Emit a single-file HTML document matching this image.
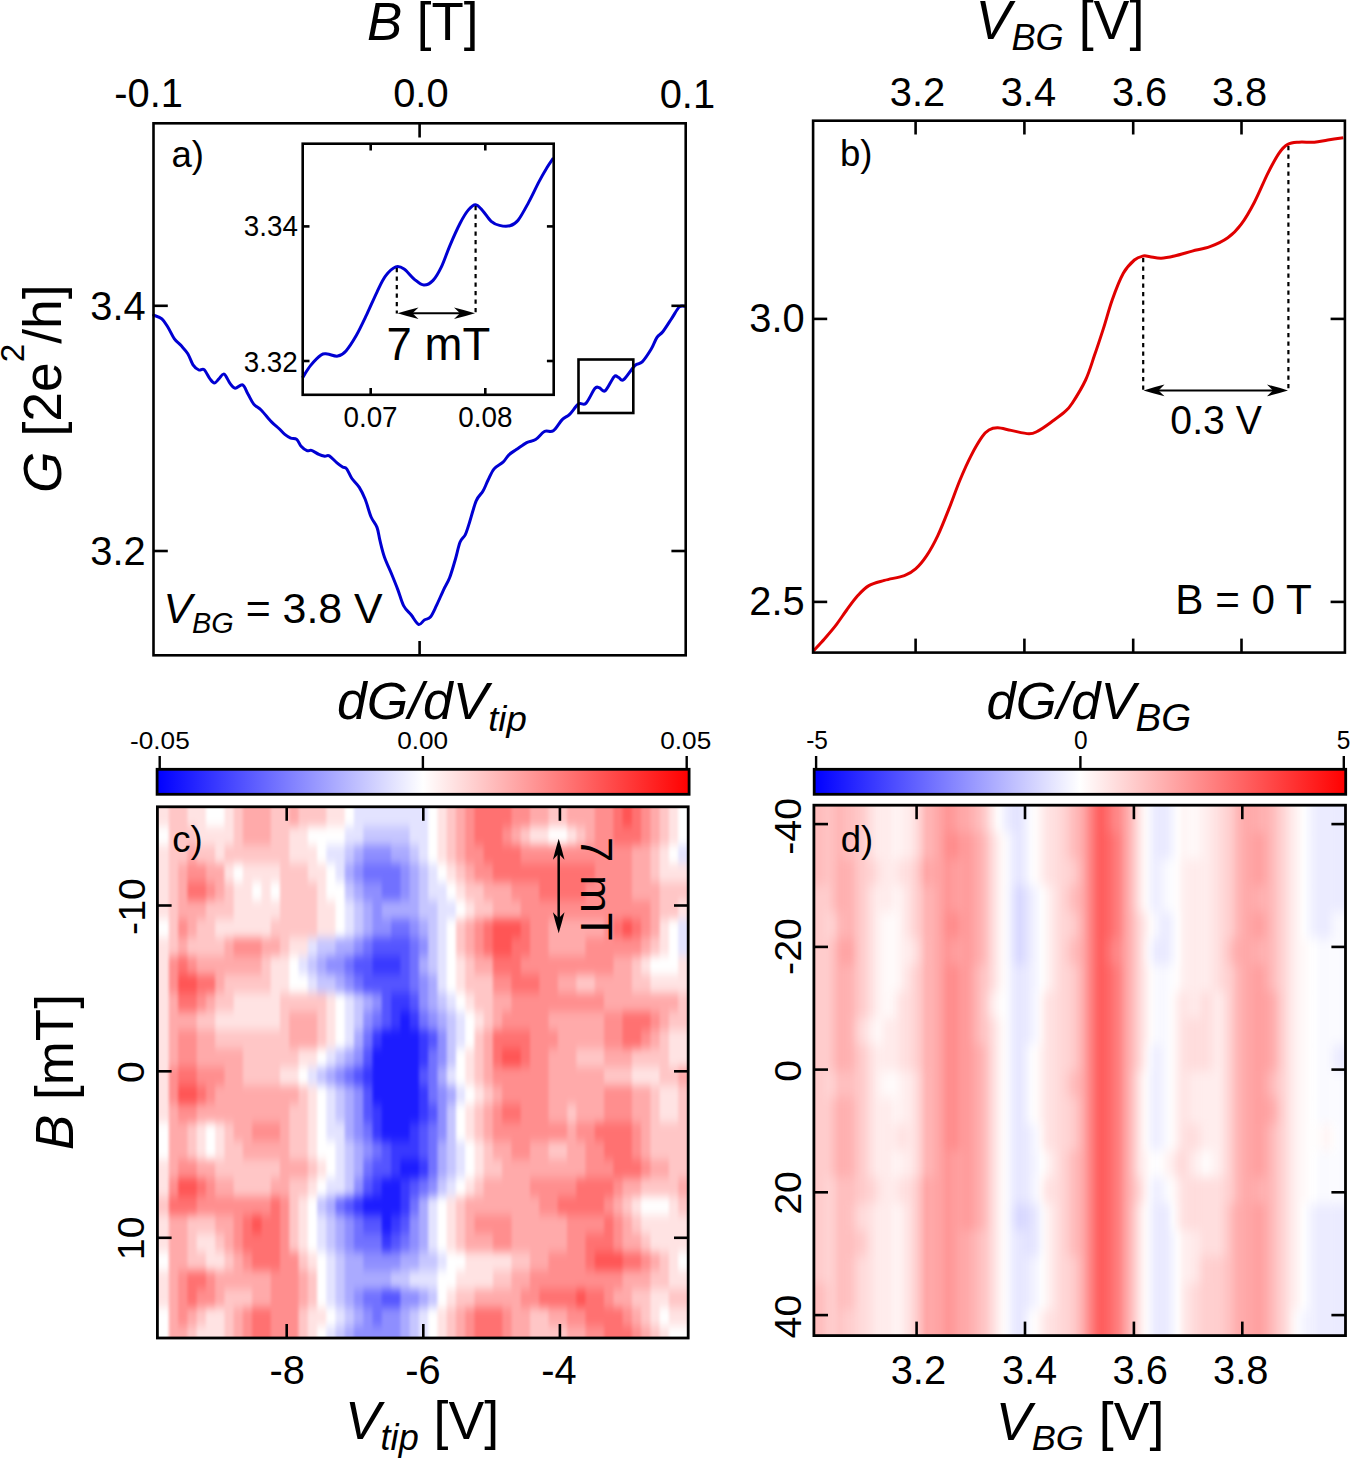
<!DOCTYPE html>
<html><head><meta charset="utf-8"><style>
html,body{margin:0;padding:0;background:#fff;}
svg{display:block;}
text{font-family:"Liberation Sans",sans-serif;fill:#000;}
</style></head><body>
<svg width="1350" height="1459" viewBox="0 0 1350 1459">
<rect width="1350" height="1459" fill="#fff"/>
<path d="M153.7,315.2 C155.1,315.8 159.6,316.9 161.9,318.9 C164.2,320.9 165.7,323.7 167.8,327.0 C169.9,330.3 172.2,335.8 174.4,338.9 C176.6,342.0 178.9,343.1 181.1,345.6 C183.3,348.1 185.8,350.5 187.8,353.7 C189.8,356.9 191.2,362.1 193.0,364.8 C194.8,367.5 197.1,369.2 198.9,370.0 C200.8,370.8 202.2,368.1 204.1,369.6 C205.9,371.1 208.3,376.7 210.0,378.9 C211.7,381.1 212.9,383.0 214.4,383.0 C215.9,383.0 217.3,380.4 218.9,378.9 C220.5,377.4 222.2,373.4 224.1,374.1 C225.9,374.8 228.2,381.0 230.0,383.3 C231.8,385.6 233.1,387.9 235.2,388.2 C237.3,388.4 240.5,383.9 242.6,384.8 C244.7,385.7 246.0,390.5 247.8,393.7 C249.7,396.9 251.5,401.4 253.7,404.1 C255.9,406.8 258.1,407.0 261.1,410.0 C264.1,413.0 268.5,418.8 271.5,421.9 C274.5,425.0 276.7,426.4 278.9,428.5 C281.1,430.6 282.8,432.8 284.8,434.4 C286.8,436.0 288.7,437.3 290.7,438.1 C292.7,438.9 295.0,437.9 296.7,439.3 C298.4,440.7 299.4,444.4 301.1,446.3 C302.8,448.2 305.3,450.0 307.0,450.7 C308.7,451.4 309.5,449.8 311.5,450.4 C313.5,451.0 316.7,453.4 318.9,454.4 C321.1,455.4 323.1,455.9 324.8,456.2 C326.5,456.4 327.3,454.8 329.3,455.9 C331.3,457.0 334.5,460.8 336.7,462.6 C338.9,464.5 340.9,465.9 342.6,467.0 C344.3,468.1 345.1,467.0 346.7,468.9 C348.2,470.8 349.8,475.4 351.9,478.5 C354.0,481.6 357.1,483.9 359.3,487.4 C361.5,490.9 363.2,494.4 365.2,499.3 C367.2,504.2 369.1,512.3 371.1,517.0 C373.1,521.7 375.5,523.4 377.0,527.4 C378.5,531.4 378.8,535.8 380.0,540.7 C381.2,545.6 382.4,551.3 384.4,557.0 C386.4,562.7 389.7,569.4 391.9,574.8 C394.1,580.2 395.8,584.4 397.8,589.6 C399.8,594.8 401.5,601.7 403.7,605.9 C405.9,610.1 408.6,611.7 411.1,614.8 C413.6,617.9 416.3,623.5 418.5,624.4 C420.7,625.3 422.4,621.2 424.4,620.0 C426.4,618.8 428.4,619.4 430.4,617.0 C432.4,614.6 434.1,610.5 436.3,605.9 C438.5,601.3 441.5,594.3 443.7,589.6 C445.9,584.9 447.6,583.0 449.6,577.8 C451.6,572.6 453.9,564.4 455.6,558.5 C457.3,552.6 458.4,546.2 460.0,542.2 C461.6,538.2 463.7,537.8 465.2,534.8 C466.7,531.8 467.0,530.1 468.9,524.4 C470.8,518.7 473.9,506.2 476.3,500.7 C478.7,495.1 481.0,494.6 483.0,491.1 C485.0,487.7 486.2,483.7 488.1,480.0 C490.0,476.3 491.6,471.9 494.1,468.9 C496.6,465.9 500.5,464.5 503.0,462.2 C505.5,459.9 506.7,456.9 508.9,454.8 C511.1,452.7 513.3,451.6 516.3,449.6 C519.3,447.6 523.5,444.3 526.7,442.6 C529.9,440.9 532.7,441.5 535.6,439.6 C538.5,437.8 541.5,433.0 544.4,431.5 C547.3,430.0 550.3,432.7 553.3,430.7 C556.3,428.7 559.5,422.3 562.2,419.6 C564.9,416.9 566.9,417.0 569.6,414.4 C572.3,411.8 575.8,406.0 578.5,404.1 C581.2,402.2 583.2,405.9 585.9,403.3 C588.6,400.7 592.6,391.1 594.8,388.5 C597.0,385.9 597.6,387.4 599.3,387.8 C601.0,388.2 602.7,392.6 605.2,390.7 C607.7,388.8 611.9,378.9 614.1,376.7 C616.3,374.5 616.9,376.9 618.5,377.4 C620.1,377.9 621.0,381.6 623.7,379.6 C626.4,377.6 631.7,368.6 634.8,365.6 C637.9,362.7 639.5,364.6 642.2,361.9 C644.9,359.2 648.6,353.4 651.1,349.3 C653.6,345.2 655.0,340.4 657.0,337.4 C659.0,334.4 660.5,334.7 663.0,331.5 C665.5,328.3 669.2,322.2 671.9,318.1 C674.6,314.0 677.1,309.0 679.3,307.0 C681.5,305.0 684.2,306.4 685.2,306.3" fill="none" stroke="#0000d2" stroke-width="3" stroke-linejoin="round" stroke-linecap="round"/>
<rect x="153.5" y="123.3" width="532.2" height="532.0" fill="none" stroke="#000" stroke-width="2.6"/>
<line x1="419.6" y1="123.3" x2="419.6" y2="137.5" stroke="#000" stroke-width="2.6" />
<line x1="419.6" y1="655.3" x2="419.6" y2="641" stroke="#000" stroke-width="2.6" />
<line x1="153.5" y1="305.8" x2="167.8" y2="305.8" stroke="#000" stroke-width="2.6" />
<line x1="685.7" y1="305.8" x2="671.4" y2="305.8" stroke="#000" stroke-width="2.6" />
<line x1="153.5" y1="551.0" x2="167.8" y2="551.0" stroke="#000" stroke-width="2.6" />
<line x1="685.7" y1="551.0" x2="671.4" y2="551.0" stroke="#000" stroke-width="2.6" />
<rect x="303" y="144" width="250" height="250" fill="#fff"/>
<path d="M302.4,377.9 C303.8,375.8 307.6,369.2 310.7,365.4 C313.8,361.6 318.3,356.9 321.1,355.0 C323.9,353.1 324.5,353.8 327.3,354.0 C330.1,354.2 334.6,356.6 337.7,356.1 C340.8,355.6 342.9,354.4 346.0,350.9 C349.1,347.4 352.9,341.4 356.4,335.3 C359.8,329.2 363.2,321.9 366.7,314.6 C370.1,307.4 374.0,298.2 377.1,291.8 C380.2,285.4 382.3,280.4 385.4,276.2 C388.5,272.0 392.7,268.1 395.8,266.9 C398.9,265.7 401.0,266.9 404.1,269.0 C407.2,271.1 411.1,276.6 414.4,279.3 C417.7,282.0 420.7,284.9 423.8,285.1 C426.9,285.3 430.2,283.4 433.1,280.4 C436.0,277.4 438.6,272.6 441.4,266.9 C444.2,261.2 446.6,253.4 449.7,246.1 C452.8,238.8 457.0,229.3 460.1,223.3 C463.2,217.3 465.8,213.0 468.4,209.9 C471.0,206.8 473.2,204.5 475.6,204.7 C478.0,204.9 480.3,208.1 482.9,210.9 C485.5,213.7 488.4,218.9 491.2,221.3 C494.0,223.7 496.4,224.7 499.5,225.4 C502.6,226.2 506.8,226.7 509.9,225.8 C513.0,224.9 515.0,224.1 518.1,220.2 C521.2,216.3 525.0,209.0 528.5,202.6 C532.0,196.2 535.8,187.8 538.9,181.9 C542.0,176.0 544.8,171.3 547.2,167.3 C549.6,163.3 552.4,159.6 553.4,158.0" fill="none" stroke="#0000d2" stroke-width="3" stroke-linejoin="round"/>
<rect x="302.7" y="143.7" width="251.00000000000006" height="251.10000000000002" fill="none" stroke="#000" stroke-width="2.6"/>
<line x1="370.7" y1="143.7" x2="370.7" y2="150.5" stroke="#000" stroke-width="2.6" />
<line x1="370.7" y1="394.8" x2="370.7" y2="388" stroke="#000" stroke-width="2.6" />
<line x1="485.3" y1="143.7" x2="485.3" y2="150.5" stroke="#000" stroke-width="2.6" />
<line x1="485.3" y1="394.8" x2="485.3" y2="388" stroke="#000" stroke-width="2.6" />
<line x1="302.7" y1="226.4" x2="309.5" y2="226.4" stroke="#000" stroke-width="2.6" />
<line x1="553.7" y1="226.4" x2="546.9" y2="226.4" stroke="#000" stroke-width="2.6" />
<line x1="302.7" y1="361.0" x2="309.5" y2="361.0" stroke="#000" stroke-width="2.6" />
<line x1="553.7" y1="361.0" x2="546.9" y2="361.0" stroke="#000" stroke-width="2.6" />
<line x1="396.8" y1="268" x2="396.8" y2="313.5" stroke="#000" stroke-width="2.2" stroke-dasharray="4.2 4.3"/>
<line x1="475.6" y1="206" x2="475.6" y2="313.5" stroke="#000" stroke-width="2.2" stroke-dasharray="4.2 4.3"/>
<line x1="405" y1="313.2" x2="468" y2="313.2" stroke="#000" stroke-width="2.0" />
<path d="M397.5,313.2 Q406.9,310.3 418.5,307.4 L412.5,313.2 L418.5,319.0 Q406.9,316.1 397.5,313.2Z" fill="#000"/>
<path d="M475.0,313.2 Q465.6,316.1 454.0,319.0 L460.0,313.2 L454.0,307.4 Q465.6,310.3 475.0,313.2Z" fill="#000"/>
<rect x="578.5" y="359.5" width="54.799999999999955" height="53.5" fill="none" stroke="#000" stroke-width="2.6"/>
<path d="M813.3,651.1 C815.1,649.1 820.7,643.1 824.4,638.9 C828.1,634.6 831.9,630.4 835.6,625.6 C839.3,620.8 843.0,615.0 846.7,610.0 C850.4,605.0 854.1,599.7 857.8,595.6 C861.5,591.5 864.5,588.1 868.9,585.6 C873.3,583.1 878.5,582.1 884.4,580.4 C890.3,578.7 899.2,577.5 904.4,575.6 C909.6,573.7 911.9,572.2 915.6,568.9 C919.3,565.6 923.0,561.1 926.7,555.6 C930.4,550.1 934.1,543.4 937.8,535.6 C941.5,527.8 945.2,518.2 948.9,508.9 C952.6,499.6 956.3,488.9 960.0,480.0 C963.7,471.1 967.4,462.8 971.1,455.6 C974.8,448.4 979.2,441.0 982.2,436.7 C985.2,432.4 986.3,431.5 988.9,430.0 C991.5,428.5 994.1,427.7 997.8,427.8 C1001.5,427.9 1005.9,429.4 1011.1,430.4 C1016.3,431.4 1024.5,433.7 1028.9,433.8 C1033.4,433.9 1034.1,433.0 1037.8,431.1 C1041.5,429.2 1046.7,425.4 1051.1,422.2 C1055.5,419.0 1060.9,415.3 1064.4,412.2 C1067.9,409.1 1068.7,408.7 1072.2,403.3 C1075.7,397.9 1081.9,387.9 1085.6,380.0 C1089.3,372.1 1091.5,364.1 1094.4,355.6 C1097.4,347.1 1100.3,338.2 1103.3,328.9 C1106.3,319.6 1108.9,309.3 1112.2,300.0 C1115.5,290.7 1119.6,280.0 1123.3,273.3 C1127.0,266.6 1131.1,262.9 1134.4,260.0 C1137.7,257.1 1140.7,256.6 1143.3,256.0 C1145.9,255.4 1147.0,256.3 1150.0,256.7 C1153.0,257.1 1157.0,258.3 1161.1,258.2 C1165.2,258.1 1169.2,257.2 1174.4,256.0 C1179.6,254.8 1186.3,252.7 1192.2,251.1 C1198.1,249.5 1204.1,248.9 1210.0,246.7 C1215.9,244.5 1222.6,241.5 1227.8,237.8 C1233.0,234.1 1236.7,230.3 1241.1,224.4 C1245.5,218.5 1250.0,210.7 1254.4,202.2 C1258.9,193.7 1263.7,181.5 1267.8,173.3 C1271.9,165.2 1275.6,158.1 1278.9,153.3 C1282.2,148.5 1284.5,146.2 1287.8,144.4 C1291.1,142.6 1294.5,142.6 1298.9,142.2 C1303.3,141.8 1309.6,142.6 1314.4,142.2 C1319.2,141.8 1323.0,140.7 1327.8,140.0 C1332.6,139.3 1340.7,138.2 1343.3,137.8" fill="none" stroke="#e00000" stroke-width="3" stroke-linejoin="round"/>
<rect x="813.1" y="120.7" width="531.8000000000001" height="531.9" fill="none" stroke="#000" stroke-width="2.6"/>
<line x1="915.6" y1="120.7" x2="915.6" y2="134.5" stroke="#000" stroke-width="2.6" />
<line x1="915.6" y1="652.6" x2="915.6" y2="638.6" stroke="#000" stroke-width="2.6" />
<line x1="1024.4" y1="120.7" x2="1024.4" y2="134.5" stroke="#000" stroke-width="2.6" />
<line x1="1024.4" y1="652.6" x2="1024.4" y2="638.6" stroke="#000" stroke-width="2.6" />
<line x1="1133.2" y1="120.7" x2="1133.2" y2="134.5" stroke="#000" stroke-width="2.6" />
<line x1="1133.2" y1="652.6" x2="1133.2" y2="638.6" stroke="#000" stroke-width="2.6" />
<line x1="1241.5" y1="120.7" x2="1241.5" y2="134.5" stroke="#000" stroke-width="2.6" />
<line x1="1241.5" y1="652.6" x2="1241.5" y2="638.6" stroke="#000" stroke-width="2.6" />
<line x1="813.1" y1="318.9" x2="827.2" y2="318.9" stroke="#000" stroke-width="2.6" />
<line x1="1344.9" y1="318.9" x2="1330.6" y2="318.9" stroke="#000" stroke-width="2.6" />
<line x1="813.1" y1="601.9" x2="827.2" y2="601.9" stroke="#000" stroke-width="2.6" />
<line x1="1344.9" y1="601.9" x2="1330.6" y2="601.9" stroke="#000" stroke-width="2.6" />
<line x1="1143.2" y1="258" x2="1143.2" y2="390" stroke="#000" stroke-width="2.2" stroke-dasharray="4.2 4.3"/>
<line x1="1288.4" y1="146" x2="1288.4" y2="390" stroke="#000" stroke-width="2.2" stroke-dasharray="4.2 4.3"/>
<line x1="1150" y1="390.4" x2="1282" y2="390.4" stroke="#000" stroke-width="2.0" />
<path d="M1143.5,390.4 Q1153.0,387.5 1164.5,384.6 L1158.5,390.4 L1164.5,396.2 Q1153.0,393.3 1143.5,390.4Z" fill="#000"/>
<path d="M1288.0,390.4 Q1278.5,393.3 1267.0,396.2 L1273.0,390.4 L1267.0,384.6 Q1278.5,387.5 1288.0,390.4Z" fill="#000"/>
<defs><linearGradient id="cbar" x1="0" x2="1" y1="0" y2="0"><stop offset="0" stop-color="#0000ff"/><stop offset="0.5" stop-color="#ffffff"/><stop offset="1" stop-color="#ff0000"/></linearGradient></defs>
<rect x="157.1" y="769.3" width="532.0" height="25" fill="url(#cbar)" stroke="#000" stroke-width="2.8"/>
<rect x="814.2" y="769.3" width="531.5" height="25" fill="url(#cbar)" stroke="#000" stroke-width="2.8"/>
<line x1="159.7" y1="756" x2="159.7" y2="768" stroke="#000" stroke-width="2.4" />
<line x1="422.9" y1="756" x2="422.9" y2="768" stroke="#000" stroke-width="2.4" />
<line x1="686.7" y1="756" x2="686.7" y2="768" stroke="#000" stroke-width="2.4" />
<line x1="816.1" y1="756" x2="816.1" y2="768" stroke="#000" stroke-width="2.4" />
<line x1="1080.4" y1="756" x2="1080.4" y2="768" stroke="#000" stroke-width="2.4" />
<line x1="1343.8" y1="756" x2="1343.8" y2="768" stroke="#000" stroke-width="2.4" />
<defs><clipPath id="clipc"><rect x="157.4" y="806.8" width="530.8000000000001" height="531.2"/></clipPath><filter id="blurc" x="-5%" y="-5%" width="110%" height="110%" color-interpolation-filters="sRGB"><feGaussianBlur stdDeviation="1.5 5.0"/></filter></defs>
<g clip-path="url(#clipc)"><g filter="url(#blurc)"><g transform="translate(159.6,808.0) scale(9.26,18.5)" class="hm">
<rect x="-1" y="-1" width="2.08" height="1.06" fill="#ffe3e3"/>
<rect x="1" y="-1" width="2.08" height="1.06" fill="#ffc6c6"/>
<rect x="3" y="-1" width="2.08" height="1.06" fill="#ffe3e3"/>
<rect x="5" y="-1" width="2.08" height="1.06" fill="#ffffff"/>
<rect x="7" y="-1" width="1.08" height="1.06" fill="#ffe3e3"/>
<rect x="8" y="-1" width="1.08" height="1.06" fill="#ffc6c6"/>
<rect x="9" y="-1" width="3.08" height="1.06" fill="#ffaaaa"/>
<rect x="12" y="-1" width="2.08" height="1.06" fill="#ffc6c6"/>
<rect x="14" y="-1" width="1.08" height="1.06" fill="#ffaaaa"/>
<rect x="15" y="-1" width="3.08" height="1.06" fill="#ffc6c6"/>
<rect x="18" y="-1" width="2.08" height="1.06" fill="#ffe3e3"/>
<rect x="20" y="-1" width="1.08" height="1.06" fill="#ffffff"/>
<rect x="21" y="-1" width="8.08" height="1.06" fill="#e3e3ff"/>
<rect x="29" y="-1" width="1.08" height="1.06" fill="#ffffff"/>
<rect x="30" y="-1" width="1.08" height="1.06" fill="#ffe3e3"/>
<rect x="31" y="-1" width="1.08" height="1.06" fill="#ffc6c6"/>
<rect x="32" y="-1" width="1.08" height="1.06" fill="#ffaaaa"/>
<rect x="33" y="-1" width="1.08" height="1.06" fill="#ff8e8e"/>
<rect x="34" y="-1" width="4.08" height="1.06" fill="#ff7171"/>
<rect x="38" y="-1" width="2.08" height="1.06" fill="#ff8e8e"/>
<rect x="40" y="-1" width="2.08" height="1.06" fill="#ffaaaa"/>
<rect x="42" y="-1" width="2.08" height="1.06" fill="#ffc6c6"/>
<rect x="44" y="-1" width="3.08" height="1.06" fill="#ffaaaa"/>
<rect x="47" y="-1" width="2.08" height="1.06" fill="#ff8e8e"/>
<rect x="49" y="-1" width="1.08" height="1.06" fill="#ff7171"/>
<rect x="50" y="-1" width="1.08" height="1.06" fill="#ff5555"/>
<rect x="51" y="-1" width="1.08" height="1.06" fill="#ff7171"/>
<rect x="52" y="-1" width="1.08" height="1.06" fill="#ff8e8e"/>
<rect x="53" y="-1" width="1.08" height="1.06" fill="#ffaaaa"/>
<rect x="54" y="-1" width="1.08" height="1.06" fill="#ffc6c6"/>
<rect x="55" y="-1" width="1.08" height="1.06" fill="#ffe3e3"/>
<rect x="56" y="-1" width="2.08" height="1.06" fill="#ffffff"/>
<rect x="-1" y="0" width="2.08" height="1.06" fill="#ffe3e3"/>
<rect x="1" y="0" width="2.08" height="1.06" fill="#ffc6c6"/>
<rect x="3" y="0" width="2.08" height="1.06" fill="#ffe3e3"/>
<rect x="5" y="0" width="2.08" height="1.06" fill="#ffffff"/>
<rect x="7" y="0" width="1.08" height="1.06" fill="#ffe3e3"/>
<rect x="8" y="0" width="1.08" height="1.06" fill="#ffc6c6"/>
<rect x="9" y="0" width="3.08" height="1.06" fill="#ffaaaa"/>
<rect x="12" y="0" width="2.08" height="1.06" fill="#ffc6c6"/>
<rect x="14" y="0" width="1.08" height="1.06" fill="#ffaaaa"/>
<rect x="15" y="0" width="3.08" height="1.06" fill="#ffc6c6"/>
<rect x="18" y="0" width="2.08" height="1.06" fill="#ffe3e3"/>
<rect x="20" y="0" width="1.08" height="1.06" fill="#ffffff"/>
<rect x="21" y="0" width="8.08" height="1.06" fill="#e3e3ff"/>
<rect x="29" y="0" width="1.08" height="1.06" fill="#ffffff"/>
<rect x="30" y="0" width="1.08" height="1.06" fill="#ffe3e3"/>
<rect x="31" y="0" width="1.08" height="1.06" fill="#ffc6c6"/>
<rect x="32" y="0" width="1.08" height="1.06" fill="#ffaaaa"/>
<rect x="33" y="0" width="1.08" height="1.06" fill="#ff8e8e"/>
<rect x="34" y="0" width="4.08" height="1.06" fill="#ff7171"/>
<rect x="38" y="0" width="2.08" height="1.06" fill="#ff8e8e"/>
<rect x="40" y="0" width="2.08" height="1.06" fill="#ffaaaa"/>
<rect x="42" y="0" width="2.08" height="1.06" fill="#ffc6c6"/>
<rect x="44" y="0" width="3.08" height="1.06" fill="#ffaaaa"/>
<rect x="47" y="0" width="2.08" height="1.06" fill="#ff8e8e"/>
<rect x="49" y="0" width="1.08" height="1.06" fill="#ff7171"/>
<rect x="50" y="0" width="1.08" height="1.06" fill="#ff5555"/>
<rect x="51" y="0" width="1.08" height="1.06" fill="#ff7171"/>
<rect x="52" y="0" width="1.08" height="1.06" fill="#ff8e8e"/>
<rect x="53" y="0" width="1.08" height="1.06" fill="#ffaaaa"/>
<rect x="54" y="0" width="1.08" height="1.06" fill="#ffc6c6"/>
<rect x="55" y="0" width="1.08" height="1.06" fill="#ffe3e3"/>
<rect x="56" y="0" width="2.08" height="1.06" fill="#ffffff"/>
<rect x="-1" y="1" width="2.08" height="1.06" fill="#ffffff"/>
<rect x="1" y="1" width="3.08" height="1.06" fill="#ffc6c6"/>
<rect x="4" y="1" width="4.08" height="1.06" fill="#ffe3e3"/>
<rect x="8" y="1" width="1.08" height="1.06" fill="#ffc6c6"/>
<rect x="9" y="1" width="3.08" height="1.06" fill="#ffaaaa"/>
<rect x="12" y="1" width="2.08" height="1.06" fill="#ffc6c6"/>
<rect x="14" y="1" width="2.08" height="1.06" fill="#ffe3e3"/>
<rect x="16" y="1" width="4.08" height="1.06" fill="#ffffff"/>
<rect x="20" y="1" width="2.08" height="1.06" fill="#e3e3ff"/>
<rect x="22" y="1" width="5.08" height="1.06" fill="#c6c6ff"/>
<rect x="27" y="1" width="2.08" height="1.06" fill="#e3e3ff"/>
<rect x="29" y="1" width="1.08" height="1.06" fill="#ffffff"/>
<rect x="30" y="1" width="1.08" height="1.06" fill="#ffe3e3"/>
<rect x="31" y="1" width="1.08" height="1.06" fill="#ffc6c6"/>
<rect x="32" y="1" width="1.08" height="1.06" fill="#ffaaaa"/>
<rect x="33" y="1" width="1.08" height="1.06" fill="#ff8e8e"/>
<rect x="34" y="1" width="3.08" height="1.06" fill="#ff7171"/>
<rect x="37" y="1" width="1.08" height="1.06" fill="#ff8e8e"/>
<rect x="38" y="1" width="1.08" height="1.06" fill="#ffaaaa"/>
<rect x="39" y="1" width="1.08" height="1.06" fill="#ffc6c6"/>
<rect x="40" y="1" width="2.08" height="1.06" fill="#ffe3e3"/>
<rect x="42" y="1" width="2.08" height="1.06" fill="#ffffff"/>
<rect x="44" y="1" width="1.08" height="1.06" fill="#ffe3e3"/>
<rect x="45" y="1" width="1.08" height="1.06" fill="#ffc6c6"/>
<rect x="46" y="1" width="1.08" height="1.06" fill="#ffaaaa"/>
<rect x="47" y="1" width="2.08" height="1.06" fill="#ff8e8e"/>
<rect x="49" y="1" width="3.08" height="1.06" fill="#ff7171"/>
<rect x="52" y="1" width="1.08" height="1.06" fill="#ff8e8e"/>
<rect x="53" y="1" width="1.08" height="1.06" fill="#ffaaaa"/>
<rect x="54" y="1" width="1.08" height="1.06" fill="#ffc6c6"/>
<rect x="55" y="1" width="1.08" height="1.06" fill="#ffe3e3"/>
<rect x="56" y="1" width="2.08" height="1.06" fill="#ffffff"/>
<rect x="-1" y="2" width="2.08" height="1.06" fill="#ffe3e3"/>
<rect x="1" y="2" width="2.08" height="1.06" fill="#ffc6c6"/>
<rect x="3" y="2" width="1.08" height="1.06" fill="#ffaaaa"/>
<rect x="4" y="2" width="2.08" height="1.06" fill="#ffc6c6"/>
<rect x="6" y="2" width="1.08" height="1.06" fill="#ffe3e3"/>
<rect x="7" y="2" width="7.08" height="1.06" fill="#ffc6c6"/>
<rect x="14" y="2" width="3.08" height="1.06" fill="#ffe3e3"/>
<rect x="17" y="2" width="1.08" height="1.06" fill="#ffffff"/>
<rect x="18" y="2" width="2.08" height="1.06" fill="#e3e3ff"/>
<rect x="20" y="2" width="1.08" height="1.06" fill="#c6c6ff"/>
<rect x="21" y="2" width="1.08" height="1.06" fill="#aaaaff"/>
<rect x="22" y="2" width="3.08" height="1.06" fill="#8e8eff"/>
<rect x="25" y="2" width="2.08" height="1.06" fill="#aaaaff"/>
<rect x="27" y="2" width="1.08" height="1.06" fill="#c6c6ff"/>
<rect x="28" y="2" width="1.08" height="1.06" fill="#e3e3ff"/>
<rect x="29" y="2" width="1.08" height="1.06" fill="#ffffff"/>
<rect x="30" y="2" width="1.08" height="1.06" fill="#ffe3e3"/>
<rect x="31" y="2" width="1.08" height="1.06" fill="#ffc6c6"/>
<rect x="32" y="2" width="1.08" height="1.06" fill="#ffaaaa"/>
<rect x="33" y="2" width="2.08" height="1.06" fill="#ff8e8e"/>
<rect x="35" y="2" width="4.08" height="1.06" fill="#ff7171"/>
<rect x="39" y="2" width="12.08" height="1.06" fill="#ff8e8e"/>
<rect x="51" y="2" width="2.08" height="1.06" fill="#ffaaaa"/>
<rect x="53" y="2" width="1.08" height="1.06" fill="#ffc6c6"/>
<rect x="54" y="2" width="1.08" height="1.06" fill="#ffe3e3"/>
<rect x="55" y="2" width="1.08" height="1.06" fill="#ffffff"/>
<rect x="56" y="2" width="2.08" height="1.06" fill="#e3e3ff"/>
<rect x="-1" y="3" width="2.08" height="1.06" fill="#ffe3e3"/>
<rect x="1" y="3" width="1.08" height="1.06" fill="#ffc6c6"/>
<rect x="2" y="3" width="1.08" height="1.06" fill="#ffaaaa"/>
<rect x="3" y="3" width="2.08" height="1.06" fill="#ff8e8e"/>
<rect x="5" y="3" width="2.08" height="1.06" fill="#ffaaaa"/>
<rect x="7" y="3" width="1.08" height="1.06" fill="#ffe3e3"/>
<rect x="8" y="3" width="1.08" height="1.06" fill="#ffffff"/>
<rect x="9" y="3" width="4.08" height="1.06" fill="#ffe3e3"/>
<rect x="13" y="3" width="3.08" height="1.06" fill="#ffc6c6"/>
<rect x="16" y="3" width="2.08" height="1.06" fill="#ffe3e3"/>
<rect x="18" y="3" width="1.08" height="1.06" fill="#ffffff"/>
<rect x="19" y="3" width="1.08" height="1.06" fill="#e3e3ff"/>
<rect x="20" y="3" width="1.08" height="1.06" fill="#aaaaff"/>
<rect x="21" y="3" width="1.08" height="1.06" fill="#8e8eff"/>
<rect x="22" y="3" width="4.08" height="1.06" fill="#7171ff"/>
<rect x="26" y="3" width="1.08" height="1.06" fill="#8e8eff"/>
<rect x="27" y="3" width="1.08" height="1.06" fill="#aaaaff"/>
<rect x="28" y="3" width="1.08" height="1.06" fill="#c6c6ff"/>
<rect x="29" y="3" width="1.08" height="1.06" fill="#e3e3ff"/>
<rect x="30" y="3" width="1.08" height="1.06" fill="#ffffff"/>
<rect x="31" y="3" width="1.08" height="1.06" fill="#ffe3e3"/>
<rect x="32" y="3" width="1.08" height="1.06" fill="#ffc6c6"/>
<rect x="33" y="3" width="1.08" height="1.06" fill="#ffaaaa"/>
<rect x="34" y="3" width="2.08" height="1.06" fill="#ff8e8e"/>
<rect x="36" y="3" width="11.08" height="1.06" fill="#ff7171"/>
<rect x="47" y="3" width="4.08" height="1.06" fill="#ff8e8e"/>
<rect x="51" y="3" width="2.08" height="1.06" fill="#ffaaaa"/>
<rect x="53" y="3" width="1.08" height="1.06" fill="#ffc6c6"/>
<rect x="54" y="3" width="4.08" height="1.06" fill="#ffe3e3"/>
<rect x="-1" y="4" width="2.08" height="1.06" fill="#ffe3e3"/>
<rect x="1" y="4" width="1.08" height="1.06" fill="#ffc6c6"/>
<rect x="2" y="4" width="1.08" height="1.06" fill="#ffaaaa"/>
<rect x="3" y="4" width="2.08" height="1.06" fill="#ff7171"/>
<rect x="5" y="4" width="1.08" height="1.06" fill="#ff8e8e"/>
<rect x="6" y="4" width="1.08" height="1.06" fill="#ffaaaa"/>
<rect x="7" y="4" width="1.08" height="1.06" fill="#ffc6c6"/>
<rect x="8" y="4" width="2.08" height="1.06" fill="#ffe3e3"/>
<rect x="10" y="4" width="1.08" height="1.06" fill="#ffffff"/>
<rect x="11" y="4" width="1.08" height="1.06" fill="#ffe3e3"/>
<rect x="12" y="4" width="1.08" height="1.06" fill="#ffffff"/>
<rect x="13" y="4" width="4.08" height="1.06" fill="#ffc6c6"/>
<rect x="17" y="4" width="1.08" height="1.06" fill="#ffe3e3"/>
<rect x="18" y="4" width="2.08" height="1.06" fill="#ffffff"/>
<rect x="20" y="4" width="1.08" height="1.06" fill="#c6c6ff"/>
<rect x="21" y="4" width="1.08" height="1.06" fill="#aaaaff"/>
<rect x="22" y="4" width="2.08" height="1.06" fill="#8e8eff"/>
<rect x="24" y="4" width="2.08" height="1.06" fill="#7171ff"/>
<rect x="26" y="4" width="1.08" height="1.06" fill="#8e8eff"/>
<rect x="27" y="4" width="1.08" height="1.06" fill="#aaaaff"/>
<rect x="28" y="4" width="1.08" height="1.06" fill="#c6c6ff"/>
<rect x="29" y="4" width="2.08" height="1.06" fill="#e3e3ff"/>
<rect x="31" y="4" width="1.08" height="1.06" fill="#ffffff"/>
<rect x="32" y="4" width="1.08" height="1.06" fill="#ffe3e3"/>
<rect x="33" y="4" width="2.08" height="1.06" fill="#ffc6c6"/>
<rect x="35" y="4" width="3.08" height="1.06" fill="#ffaaaa"/>
<rect x="38" y="4" width="3.08" height="1.06" fill="#ff8e8e"/>
<rect x="41" y="4" width="5.08" height="1.06" fill="#ff7171"/>
<rect x="46" y="4" width="5.08" height="1.06" fill="#ff8e8e"/>
<rect x="51" y="4" width="3.08" height="1.06" fill="#ffaaaa"/>
<rect x="54" y="4" width="4.08" height="1.06" fill="#ffc6c6"/>
<rect x="-1" y="5" width="2.08" height="1.06" fill="#ffe3e3"/>
<rect x="1" y="5" width="1.08" height="1.06" fill="#ffc6c6"/>
<rect x="2" y="5" width="3.08" height="1.06" fill="#ffaaaa"/>
<rect x="5" y="5" width="3.08" height="1.06" fill="#ffc6c6"/>
<rect x="8" y="5" width="5.08" height="1.06" fill="#ffe3e3"/>
<rect x="13" y="5" width="4.08" height="1.06" fill="#ffc6c6"/>
<rect x="17" y="5" width="2.08" height="1.06" fill="#ffe3e3"/>
<rect x="19" y="5" width="1.08" height="1.06" fill="#ffffff"/>
<rect x="20" y="5" width="1.08" height="1.06" fill="#e3e3ff"/>
<rect x="21" y="5" width="1.08" height="1.06" fill="#c6c6ff"/>
<rect x="22" y="5" width="1.08" height="1.06" fill="#aaaaff"/>
<rect x="23" y="5" width="1.08" height="1.06" fill="#8e8eff"/>
<rect x="24" y="5" width="4.08" height="1.06" fill="#aaaaff"/>
<rect x="28" y="5" width="2.08" height="1.06" fill="#c6c6ff"/>
<rect x="30" y="5" width="2.08" height="1.06" fill="#e3e3ff"/>
<rect x="32" y="5" width="1.08" height="1.06" fill="#ffffff"/>
<rect x="33" y="5" width="1.08" height="1.06" fill="#ffe3e3"/>
<rect x="34" y="5" width="2.08" height="1.06" fill="#ffc6c6"/>
<rect x="36" y="5" width="3.08" height="1.06" fill="#ffaaaa"/>
<rect x="39" y="5" width="14.08" height="1.06" fill="#ff8e8e"/>
<rect x="53" y="5" width="1.08" height="1.06" fill="#ffaaaa"/>
<rect x="54" y="5" width="2.08" height="1.06" fill="#ffc6c6"/>
<rect x="56" y="5" width="2.08" height="1.06" fill="#ffe3e3"/>
<rect x="-1" y="6" width="2.08" height="1.06" fill="#ffffff"/>
<rect x="1" y="6" width="1.08" height="1.06" fill="#ffc6c6"/>
<rect x="2" y="6" width="1.08" height="1.06" fill="#ff8e8e"/>
<rect x="3" y="6" width="1.08" height="1.06" fill="#ffaaaa"/>
<rect x="4" y="6" width="2.08" height="1.06" fill="#ffc6c6"/>
<rect x="6" y="6" width="6.08" height="1.06" fill="#ffe3e3"/>
<rect x="12" y="6" width="5.08" height="1.06" fill="#ffc6c6"/>
<rect x="17" y="6" width="2.08" height="1.06" fill="#ffe3e3"/>
<rect x="19" y="6" width="1.08" height="1.06" fill="#ffffff"/>
<rect x="20" y="6" width="1.08" height="1.06" fill="#e3e3ff"/>
<rect x="21" y="6" width="1.08" height="1.06" fill="#c6c6ff"/>
<rect x="22" y="6" width="1.08" height="1.06" fill="#aaaaff"/>
<rect x="23" y="6" width="2.08" height="1.06" fill="#8e8eff"/>
<rect x="25" y="6" width="2.08" height="1.06" fill="#7171ff"/>
<rect x="27" y="6" width="1.08" height="1.06" fill="#8e8eff"/>
<rect x="28" y="6" width="1.08" height="1.06" fill="#aaaaff"/>
<rect x="29" y="6" width="1.08" height="1.06" fill="#c6c6ff"/>
<rect x="30" y="6" width="1.08" height="1.06" fill="#e3e3ff"/>
<rect x="31" y="6" width="1.08" height="1.06" fill="#ffffff"/>
<rect x="32" y="6" width="1.08" height="1.06" fill="#ffc6c6"/>
<rect x="33" y="6" width="1.08" height="1.06" fill="#ffaaaa"/>
<rect x="34" y="6" width="1.08" height="1.06" fill="#ff8e8e"/>
<rect x="35" y="6" width="1.08" height="1.06" fill="#ff7171"/>
<rect x="36" y="6" width="3.08" height="1.06" fill="#ff5555"/>
<rect x="39" y="6" width="1.08" height="1.06" fill="#ff7171"/>
<rect x="40" y="6" width="2.08" height="1.06" fill="#ff8e8e"/>
<rect x="42" y="6" width="6.08" height="1.06" fill="#ffaaaa"/>
<rect x="48" y="6" width="1.08" height="1.06" fill="#ff8e8e"/>
<rect x="49" y="6" width="1.08" height="1.06" fill="#ff7171"/>
<rect x="50" y="6" width="1.08" height="1.06" fill="#ff5555"/>
<rect x="51" y="6" width="1.08" height="1.06" fill="#ff7171"/>
<rect x="52" y="6" width="1.08" height="1.06" fill="#ff8e8e"/>
<rect x="53" y="6" width="1.08" height="1.06" fill="#ffaaaa"/>
<rect x="54" y="6" width="1.08" height="1.06" fill="#ffe3e3"/>
<rect x="55" y="6" width="1.08" height="1.06" fill="#ffffff"/>
<rect x="56" y="6" width="2.08" height="1.06" fill="#e3e3ff"/>
<rect x="-1" y="7" width="2.08" height="1.06" fill="#ffe3e3"/>
<rect x="1" y="7" width="1.08" height="1.06" fill="#ffc6c6"/>
<rect x="2" y="7" width="1.08" height="1.06" fill="#ffaaaa"/>
<rect x="3" y="7" width="4.08" height="1.06" fill="#ffc6c6"/>
<rect x="7" y="7" width="1.08" height="1.06" fill="#ffaaaa"/>
<rect x="8" y="7" width="3.08" height="1.06" fill="#ff8e8e"/>
<rect x="11" y="7" width="2.08" height="1.06" fill="#ffaaaa"/>
<rect x="13" y="7" width="1.08" height="1.06" fill="#ffc6c6"/>
<rect x="14" y="7" width="2.08" height="1.06" fill="#ffe3e3"/>
<rect x="16" y="7" width="1.08" height="1.06" fill="#e3e3ff"/>
<rect x="17" y="7" width="2.08" height="1.06" fill="#c6c6ff"/>
<rect x="19" y="7" width="2.08" height="1.06" fill="#aaaaff"/>
<rect x="21" y="7" width="1.08" height="1.06" fill="#8e8eff"/>
<rect x="22" y="7" width="1.08" height="1.06" fill="#7171ff"/>
<rect x="23" y="7" width="4.08" height="1.06" fill="#5555ff"/>
<rect x="27" y="7" width="1.08" height="1.06" fill="#7171ff"/>
<rect x="28" y="7" width="1.08" height="1.06" fill="#8e8eff"/>
<rect x="29" y="7" width="1.08" height="1.06" fill="#c6c6ff"/>
<rect x="30" y="7" width="1.08" height="1.06" fill="#e3e3ff"/>
<rect x="31" y="7" width="1.08" height="1.06" fill="#ffffff"/>
<rect x="32" y="7" width="1.08" height="1.06" fill="#ffc6c6"/>
<rect x="33" y="7" width="1.08" height="1.06" fill="#ffaaaa"/>
<rect x="34" y="7" width="1.08" height="1.06" fill="#ff8e8e"/>
<rect x="35" y="7" width="1.08" height="1.06" fill="#ff7171"/>
<rect x="36" y="7" width="2.08" height="1.06" fill="#ff5555"/>
<rect x="38" y="7" width="2.08" height="1.06" fill="#ff7171"/>
<rect x="40" y="7" width="2.08" height="1.06" fill="#ff8e8e"/>
<rect x="42" y="7" width="4.08" height="1.06" fill="#ffaaaa"/>
<rect x="46" y="7" width="6.08" height="1.06" fill="#ff8e8e"/>
<rect x="52" y="7" width="1.08" height="1.06" fill="#ffaaaa"/>
<rect x="53" y="7" width="1.08" height="1.06" fill="#ffc6c6"/>
<rect x="54" y="7" width="1.08" height="1.06" fill="#ffe3e3"/>
<rect x="55" y="7" width="1.08" height="1.06" fill="#ffffff"/>
<rect x="56" y="7" width="2.08" height="1.06" fill="#e3e3ff"/>
<rect x="-1" y="8" width="2.08" height="1.06" fill="#ffe3e3"/>
<rect x="1" y="8" width="1.08" height="1.06" fill="#ff8e8e"/>
<rect x="2" y="8" width="1.08" height="1.06" fill="#ff7171"/>
<rect x="3" y="8" width="1.08" height="1.06" fill="#ff8e8e"/>
<rect x="4" y="8" width="7.08" height="1.06" fill="#ffaaaa"/>
<rect x="11" y="8" width="1.08" height="1.06" fill="#ffc6c6"/>
<rect x="12" y="8" width="2.08" height="1.06" fill="#ffe3e3"/>
<rect x="14" y="8" width="1.08" height="1.06" fill="#ffffff"/>
<rect x="15" y="8" width="1.08" height="1.06" fill="#e3e3ff"/>
<rect x="16" y="8" width="1.08" height="1.06" fill="#c6c6ff"/>
<rect x="17" y="8" width="1.08" height="1.06" fill="#aaaaff"/>
<rect x="18" y="8" width="2.08" height="1.06" fill="#8e8eff"/>
<rect x="20" y="8" width="1.08" height="1.06" fill="#7171ff"/>
<rect x="21" y="8" width="2.08" height="1.06" fill="#5555ff"/>
<rect x="23" y="8" width="3.08" height="1.06" fill="#3939ff"/>
<rect x="26" y="8" width="1.08" height="1.06" fill="#5555ff"/>
<rect x="27" y="8" width="1.08" height="1.06" fill="#7171ff"/>
<rect x="28" y="8" width="1.08" height="1.06" fill="#aaaaff"/>
<rect x="29" y="8" width="1.08" height="1.06" fill="#c6c6ff"/>
<rect x="30" y="8" width="1.08" height="1.06" fill="#e3e3ff"/>
<rect x="31" y="8" width="1.08" height="1.06" fill="#ffffff"/>
<rect x="32" y="8" width="1.08" height="1.06" fill="#ffe3e3"/>
<rect x="33" y="8" width="1.08" height="1.06" fill="#ffc6c6"/>
<rect x="34" y="8" width="2.08" height="1.06" fill="#ffaaaa"/>
<rect x="36" y="8" width="3.08" height="1.06" fill="#ff7171"/>
<rect x="39" y="8" width="10.08" height="1.06" fill="#ff8e8e"/>
<rect x="49" y="8" width="2.08" height="1.06" fill="#ffaaaa"/>
<rect x="51" y="8" width="1.08" height="1.06" fill="#ffc6c6"/>
<rect x="52" y="8" width="1.08" height="1.06" fill="#ffe3e3"/>
<rect x="53" y="8" width="3.08" height="1.06" fill="#ffffff"/>
<rect x="56" y="8" width="2.08" height="1.06" fill="#ffe3e3"/>
<rect x="-1" y="9" width="2.08" height="1.06" fill="#ffe3e3"/>
<rect x="1" y="9" width="1.08" height="1.06" fill="#ff8e8e"/>
<rect x="2" y="9" width="2.08" height="1.06" fill="#ff5555"/>
<rect x="4" y="9" width="2.08" height="1.06" fill="#ff7171"/>
<rect x="6" y="9" width="1.08" height="1.06" fill="#ffaaaa"/>
<rect x="7" y="9" width="5.08" height="1.06" fill="#ffc6c6"/>
<rect x="12" y="9" width="2.08" height="1.06" fill="#ffe3e3"/>
<rect x="14" y="9" width="2.08" height="1.06" fill="#ffffff"/>
<rect x="16" y="9" width="1.08" height="1.06" fill="#e3e3ff"/>
<rect x="17" y="9" width="2.08" height="1.06" fill="#c6c6ff"/>
<rect x="19" y="9" width="1.08" height="1.06" fill="#aaaaff"/>
<rect x="20" y="9" width="1.08" height="1.06" fill="#8e8eff"/>
<rect x="21" y="9" width="1.08" height="1.06" fill="#7171ff"/>
<rect x="22" y="9" width="5.08" height="1.06" fill="#5555ff"/>
<rect x="27" y="9" width="1.08" height="1.06" fill="#7171ff"/>
<rect x="28" y="9" width="1.08" height="1.06" fill="#8e8eff"/>
<rect x="29" y="9" width="1.08" height="1.06" fill="#aaaaff"/>
<rect x="30" y="9" width="1.08" height="1.06" fill="#e3e3ff"/>
<rect x="31" y="9" width="1.08" height="1.06" fill="#ffffff"/>
<rect x="32" y="9" width="1.08" height="1.06" fill="#ffe3e3"/>
<rect x="33" y="9" width="3.08" height="1.06" fill="#ffc6c6"/>
<rect x="36" y="9" width="2.08" height="1.06" fill="#ff8e8e"/>
<rect x="38" y="9" width="3.08" height="1.06" fill="#ff7171"/>
<rect x="41" y="9" width="2.08" height="1.06" fill="#ff8e8e"/>
<rect x="43" y="9" width="2.08" height="1.06" fill="#ffaaaa"/>
<rect x="45" y="9" width="2.08" height="1.06" fill="#ffc6c6"/>
<rect x="47" y="9" width="4.08" height="1.06" fill="#ffaaaa"/>
<rect x="51" y="9" width="2.08" height="1.06" fill="#ffc6c6"/>
<rect x="53" y="9" width="5.08" height="1.06" fill="#ffe3e3"/>
<rect x="-1" y="10" width="2.08" height="1.06" fill="#ffe3e3"/>
<rect x="1" y="10" width="1.08" height="1.06" fill="#ffaaaa"/>
<rect x="2" y="10" width="2.08" height="1.06" fill="#ff7171"/>
<rect x="4" y="10" width="1.08" height="1.06" fill="#ff8e8e"/>
<rect x="5" y="10" width="1.08" height="1.06" fill="#ffaaaa"/>
<rect x="6" y="10" width="2.08" height="1.06" fill="#ffc6c6"/>
<rect x="8" y="10" width="5.08" height="1.06" fill="#ffe3e3"/>
<rect x="13" y="10" width="5.08" height="1.06" fill="#ffc6c6"/>
<rect x="18" y="10" width="1.08" height="1.06" fill="#ffe3e3"/>
<rect x="19" y="10" width="1.08" height="1.06" fill="#ffffff"/>
<rect x="20" y="10" width="1.08" height="1.06" fill="#e3e3ff"/>
<rect x="21" y="10" width="1.08" height="1.06" fill="#c6c6ff"/>
<rect x="22" y="10" width="1.08" height="1.06" fill="#aaaaff"/>
<rect x="23" y="10" width="1.08" height="1.06" fill="#8e8eff"/>
<rect x="24" y="10" width="1.08" height="1.06" fill="#5555ff"/>
<rect x="25" y="10" width="2.08" height="1.06" fill="#3939ff"/>
<rect x="27" y="10" width="1.08" height="1.06" fill="#5555ff"/>
<rect x="28" y="10" width="1.08" height="1.06" fill="#8e8eff"/>
<rect x="29" y="10" width="1.08" height="1.06" fill="#aaaaff"/>
<rect x="30" y="10" width="1.08" height="1.06" fill="#c6c6ff"/>
<rect x="31" y="10" width="1.08" height="1.06" fill="#e3e3ff"/>
<rect x="32" y="10" width="1.08" height="1.06" fill="#ffffff"/>
<rect x="33" y="10" width="1.08" height="1.06" fill="#ffe3e3"/>
<rect x="34" y="10" width="2.08" height="1.06" fill="#ffc6c6"/>
<rect x="36" y="10" width="2.08" height="1.06" fill="#ffaaaa"/>
<rect x="38" y="10" width="10.08" height="1.06" fill="#ff8e8e"/>
<rect x="48" y="10" width="8.08" height="1.06" fill="#ffaaaa"/>
<rect x="56" y="10" width="2.08" height="1.06" fill="#ffc6c6"/>
<rect x="-1" y="11" width="2.08" height="1.06" fill="#ffe3e3"/>
<rect x="1" y="11" width="3.08" height="1.06" fill="#ffaaaa"/>
<rect x="4" y="11" width="2.08" height="1.06" fill="#ffc6c6"/>
<rect x="6" y="11" width="7.08" height="1.06" fill="#ffe3e3"/>
<rect x="13" y="11" width="1.08" height="1.06" fill="#ffc6c6"/>
<rect x="14" y="11" width="3.08" height="1.06" fill="#ffaaaa"/>
<rect x="17" y="11" width="1.08" height="1.06" fill="#ffc6c6"/>
<rect x="18" y="11" width="1.08" height="1.06" fill="#ffe3e3"/>
<rect x="19" y="11" width="1.08" height="1.06" fill="#ffffff"/>
<rect x="20" y="11" width="1.08" height="1.06" fill="#e3e3ff"/>
<rect x="21" y="11" width="1.08" height="1.06" fill="#c6c6ff"/>
<rect x="22" y="11" width="1.08" height="1.06" fill="#8e8eff"/>
<rect x="23" y="11" width="1.08" height="1.06" fill="#7171ff"/>
<rect x="24" y="11" width="1.08" height="1.06" fill="#5555ff"/>
<rect x="25" y="11" width="1.08" height="1.06" fill="#3939ff"/>
<rect x="26" y="11" width="1.08" height="1.06" fill="#1c1cff"/>
<rect x="27" y="11" width="1.08" height="1.06" fill="#3939ff"/>
<rect x="28" y="11" width="1.08" height="1.06" fill="#7171ff"/>
<rect x="29" y="11" width="1.08" height="1.06" fill="#8e8eff"/>
<rect x="30" y="11" width="1.08" height="1.06" fill="#aaaaff"/>
<rect x="31" y="11" width="1.08" height="1.06" fill="#c6c6ff"/>
<rect x="32" y="11" width="1.08" height="1.06" fill="#e3e3ff"/>
<rect x="33" y="11" width="1.08" height="1.06" fill="#ffffff"/>
<rect x="34" y="11" width="1.08" height="1.06" fill="#ffe3e3"/>
<rect x="35" y="11" width="1.08" height="1.06" fill="#ffc6c6"/>
<rect x="36" y="11" width="1.08" height="1.06" fill="#ffaaaa"/>
<rect x="37" y="11" width="5.08" height="1.06" fill="#ff8e8e"/>
<rect x="42" y="11" width="6.08" height="1.06" fill="#ffaaaa"/>
<rect x="48" y="11" width="2.08" height="1.06" fill="#ff8e8e"/>
<rect x="50" y="11" width="3.08" height="1.06" fill="#ff7171"/>
<rect x="53" y="11" width="1.08" height="1.06" fill="#ff8e8e"/>
<rect x="54" y="11" width="1.08" height="1.06" fill="#ffaaaa"/>
<rect x="55" y="11" width="3.08" height="1.06" fill="#ffc6c6"/>
<rect x="-1" y="12" width="2.08" height="1.06" fill="#ffe3e3"/>
<rect x="1" y="12" width="1.08" height="1.06" fill="#ffaaaa"/>
<rect x="2" y="12" width="2.08" height="1.06" fill="#ff8e8e"/>
<rect x="4" y="12" width="2.08" height="1.06" fill="#ffaaaa"/>
<rect x="6" y="12" width="8.08" height="1.06" fill="#ffc6c6"/>
<rect x="14" y="12" width="3.08" height="1.06" fill="#ffaaaa"/>
<rect x="17" y="12" width="1.08" height="1.06" fill="#ffc6c6"/>
<rect x="18" y="12" width="1.08" height="1.06" fill="#ffe3e3"/>
<rect x="19" y="12" width="1.08" height="1.06" fill="#ffffff"/>
<rect x="20" y="12" width="1.08" height="1.06" fill="#e3e3ff"/>
<rect x="21" y="12" width="1.08" height="1.06" fill="#aaaaff"/>
<rect x="22" y="12" width="1.08" height="1.06" fill="#7171ff"/>
<rect x="23" y="12" width="1.08" height="1.06" fill="#3939ff"/>
<rect x="24" y="12" width="4.08" height="1.06" fill="#1c1cff"/>
<rect x="28" y="12" width="1.08" height="1.06" fill="#3939ff"/>
<rect x="29" y="12" width="1.08" height="1.06" fill="#5555ff"/>
<rect x="30" y="12" width="1.08" height="1.06" fill="#8e8eff"/>
<rect x="31" y="12" width="1.08" height="1.06" fill="#c6c6ff"/>
<rect x="32" y="12" width="1.08" height="1.06" fill="#e3e3ff"/>
<rect x="33" y="12" width="1.08" height="1.06" fill="#ffffff"/>
<rect x="34" y="12" width="1.08" height="1.06" fill="#ffc6c6"/>
<rect x="35" y="12" width="1.08" height="1.06" fill="#ffaaaa"/>
<rect x="36" y="12" width="4.08" height="1.06" fill="#ff7171"/>
<rect x="40" y="12" width="3.08" height="1.06" fill="#ff8e8e"/>
<rect x="43" y="12" width="5.08" height="1.06" fill="#ffaaaa"/>
<rect x="48" y="12" width="2.08" height="1.06" fill="#ff8e8e"/>
<rect x="50" y="12" width="2.08" height="1.06" fill="#ff7171"/>
<rect x="52" y="12" width="1.08" height="1.06" fill="#ff8e8e"/>
<rect x="53" y="12" width="1.08" height="1.06" fill="#ffaaaa"/>
<rect x="54" y="12" width="1.08" height="1.06" fill="#ffc6c6"/>
<rect x="55" y="12" width="3.08" height="1.06" fill="#ffe3e3"/>
<rect x="-1" y="13" width="2.08" height="1.06" fill="#ffe3e3"/>
<rect x="1" y="13" width="1.08" height="1.06" fill="#ffaaaa"/>
<rect x="2" y="13" width="2.08" height="1.06" fill="#ff8e8e"/>
<rect x="4" y="13" width="5.08" height="1.06" fill="#ffaaaa"/>
<rect x="9" y="13" width="6.08" height="1.06" fill="#ffc6c6"/>
<rect x="15" y="13" width="2.08" height="1.06" fill="#ffe3e3"/>
<rect x="17" y="13" width="1.08" height="1.06" fill="#ffffff"/>
<rect x="18" y="13" width="1.08" height="1.06" fill="#e3e3ff"/>
<rect x="19" y="13" width="1.08" height="1.06" fill="#c6c6ff"/>
<rect x="20" y="13" width="1.08" height="1.06" fill="#aaaaff"/>
<rect x="21" y="13" width="1.08" height="1.06" fill="#8e8eff"/>
<rect x="22" y="13" width="1.08" height="1.06" fill="#5555ff"/>
<rect x="23" y="13" width="5.08" height="1.06" fill="#1c1cff"/>
<rect x="28" y="13" width="1.08" height="1.06" fill="#3939ff"/>
<rect x="29" y="13" width="1.08" height="1.06" fill="#7171ff"/>
<rect x="30" y="13" width="1.08" height="1.06" fill="#8e8eff"/>
<rect x="31" y="13" width="1.08" height="1.06" fill="#c6c6ff"/>
<rect x="32" y="13" width="1.08" height="1.06" fill="#ffffff"/>
<rect x="33" y="13" width="1.08" height="1.06" fill="#ffe3e3"/>
<rect x="34" y="13" width="1.08" height="1.06" fill="#ffc6c6"/>
<rect x="35" y="13" width="1.08" height="1.06" fill="#ffaaaa"/>
<rect x="36" y="13" width="1.08" height="1.06" fill="#ff7171"/>
<rect x="37" y="13" width="2.08" height="1.06" fill="#ff5555"/>
<rect x="39" y="13" width="1.08" height="1.06" fill="#ff7171"/>
<rect x="40" y="13" width="2.08" height="1.06" fill="#ff8e8e"/>
<rect x="42" y="13" width="3.08" height="1.06" fill="#ffaaaa"/>
<rect x="45" y="13" width="3.08" height="1.06" fill="#ffc6c6"/>
<rect x="48" y="13" width="3.08" height="1.06" fill="#ffaaaa"/>
<rect x="51" y="13" width="4.08" height="1.06" fill="#ffc6c6"/>
<rect x="55" y="13" width="3.08" height="1.06" fill="#ffe3e3"/>
<rect x="-1" y="14" width="2.08" height="1.06" fill="#ffe3e3"/>
<rect x="1" y="14" width="1.08" height="1.06" fill="#ff8e8e"/>
<rect x="2" y="14" width="2.08" height="1.06" fill="#ff7171"/>
<rect x="4" y="14" width="3.08" height="1.06" fill="#ff8e8e"/>
<rect x="7" y="14" width="2.08" height="1.06" fill="#ffaaaa"/>
<rect x="9" y="14" width="4.08" height="1.06" fill="#ffc6c6"/>
<rect x="13" y="14" width="2.08" height="1.06" fill="#ffe3e3"/>
<rect x="15" y="14" width="1.08" height="1.06" fill="#ffffff"/>
<rect x="16" y="14" width="1.08" height="1.06" fill="#e3e3ff"/>
<rect x="17" y="14" width="1.08" height="1.06" fill="#c6c6ff"/>
<rect x="18" y="14" width="1.08" height="1.06" fill="#aaaaff"/>
<rect x="19" y="14" width="1.08" height="1.06" fill="#8e8eff"/>
<rect x="20" y="14" width="1.08" height="1.06" fill="#7171ff"/>
<rect x="21" y="14" width="1.08" height="1.06" fill="#5555ff"/>
<rect x="22" y="14" width="1.08" height="1.06" fill="#3939ff"/>
<rect x="23" y="14" width="5.08" height="1.06" fill="#1c1cff"/>
<rect x="28" y="14" width="1.08" height="1.06" fill="#5555ff"/>
<rect x="29" y="14" width="1.08" height="1.06" fill="#7171ff"/>
<rect x="30" y="14" width="1.08" height="1.06" fill="#aaaaff"/>
<rect x="31" y="14" width="1.08" height="1.06" fill="#e3e3ff"/>
<rect x="32" y="14" width="1.08" height="1.06" fill="#ffffff"/>
<rect x="33" y="14" width="1.08" height="1.06" fill="#ffe3e3"/>
<rect x="34" y="14" width="1.08" height="1.06" fill="#ffc6c6"/>
<rect x="35" y="14" width="1.08" height="1.06" fill="#ffaaaa"/>
<rect x="36" y="14" width="6.08" height="1.06" fill="#ff8e8e"/>
<rect x="42" y="14" width="6.08" height="1.06" fill="#ffaaaa"/>
<rect x="48" y="14" width="3.08" height="1.06" fill="#ffc6c6"/>
<rect x="51" y="14" width="3.08" height="1.06" fill="#ffe3e3"/>
<rect x="54" y="14" width="2.08" height="1.06" fill="#ffc6c6"/>
<rect x="56" y="14" width="2.08" height="1.06" fill="#ffaaaa"/>
<rect x="-1" y="15" width="2.08" height="1.06" fill="#ffe3e3"/>
<rect x="1" y="15" width="1.08" height="1.06" fill="#ff8e8e"/>
<rect x="2" y="15" width="2.08" height="1.06" fill="#ff5555"/>
<rect x="4" y="15" width="1.08" height="1.06" fill="#ff7171"/>
<rect x="5" y="15" width="1.08" height="1.06" fill="#ff8e8e"/>
<rect x="6" y="15" width="9.08" height="1.06" fill="#ffaaaa"/>
<rect x="15" y="15" width="1.08" height="1.06" fill="#ffc6c6"/>
<rect x="16" y="15" width="1.08" height="1.06" fill="#ffe3e3"/>
<rect x="17" y="15" width="1.08" height="1.06" fill="#ffffff"/>
<rect x="18" y="15" width="1.08" height="1.06" fill="#e3e3ff"/>
<rect x="19" y="15" width="1.08" height="1.06" fill="#c6c6ff"/>
<rect x="20" y="15" width="1.08" height="1.06" fill="#aaaaff"/>
<rect x="21" y="15" width="1.08" height="1.06" fill="#8e8eff"/>
<rect x="22" y="15" width="1.08" height="1.06" fill="#5555ff"/>
<rect x="23" y="15" width="5.08" height="1.06" fill="#1c1cff"/>
<rect x="28" y="15" width="1.08" height="1.06" fill="#3939ff"/>
<rect x="29" y="15" width="1.08" height="1.06" fill="#7171ff"/>
<rect x="30" y="15" width="1.08" height="1.06" fill="#8e8eff"/>
<rect x="31" y="15" width="1.08" height="1.06" fill="#aaaaff"/>
<rect x="32" y="15" width="1.08" height="1.06" fill="#e3e3ff"/>
<rect x="33" y="15" width="1.08" height="1.06" fill="#ffffff"/>
<rect x="34" y="15" width="1.08" height="1.06" fill="#ffe3e3"/>
<rect x="35" y="15" width="1.08" height="1.06" fill="#ffc6c6"/>
<rect x="36" y="15" width="1.08" height="1.06" fill="#ffaaaa"/>
<rect x="37" y="15" width="5.08" height="1.06" fill="#ff8e8e"/>
<rect x="42" y="15" width="6.08" height="1.06" fill="#ffaaaa"/>
<rect x="48" y="15" width="3.08" height="1.06" fill="#ff8e8e"/>
<rect x="51" y="15" width="2.08" height="1.06" fill="#ffaaaa"/>
<rect x="53" y="15" width="1.08" height="1.06" fill="#ffc6c6"/>
<rect x="54" y="15" width="2.08" height="1.06" fill="#ffe3e3"/>
<rect x="56" y="15" width="2.08" height="1.06" fill="#ffc6c6"/>
<rect x="-1" y="16" width="2.08" height="1.06" fill="#ffe3e3"/>
<rect x="1" y="16" width="1.08" height="1.06" fill="#ffaaaa"/>
<rect x="2" y="16" width="2.08" height="1.06" fill="#ff8e8e"/>
<rect x="4" y="16" width="10.08" height="1.06" fill="#ffaaaa"/>
<rect x="14" y="16" width="2.08" height="1.06" fill="#ffc6c6"/>
<rect x="16" y="16" width="1.08" height="1.06" fill="#ffe3e3"/>
<rect x="17" y="16" width="1.08" height="1.06" fill="#ffffff"/>
<rect x="18" y="16" width="1.08" height="1.06" fill="#e3e3ff"/>
<rect x="19" y="16" width="1.08" height="1.06" fill="#c6c6ff"/>
<rect x="20" y="16" width="1.08" height="1.06" fill="#aaaaff"/>
<rect x="21" y="16" width="1.08" height="1.06" fill="#8e8eff"/>
<rect x="22" y="16" width="1.08" height="1.06" fill="#5555ff"/>
<rect x="23" y="16" width="1.08" height="1.06" fill="#3939ff"/>
<rect x="24" y="16" width="4.08" height="1.06" fill="#1c1cff"/>
<rect x="28" y="16" width="1.08" height="1.06" fill="#3939ff"/>
<rect x="29" y="16" width="1.08" height="1.06" fill="#5555ff"/>
<rect x="30" y="16" width="1.08" height="1.06" fill="#8e8eff"/>
<rect x="31" y="16" width="1.08" height="1.06" fill="#c6c6ff"/>
<rect x="32" y="16" width="1.08" height="1.06" fill="#ffffff"/>
<rect x="33" y="16" width="1.08" height="1.06" fill="#ffe3e3"/>
<rect x="34" y="16" width="1.08" height="1.06" fill="#ffc6c6"/>
<rect x="35" y="16" width="1.08" height="1.06" fill="#ffaaaa"/>
<rect x="36" y="16" width="1.08" height="1.06" fill="#ff8e8e"/>
<rect x="37" y="16" width="2.08" height="1.06" fill="#ff7171"/>
<rect x="39" y="16" width="3.08" height="1.06" fill="#ff8e8e"/>
<rect x="42" y="16" width="2.08" height="1.06" fill="#ffaaaa"/>
<rect x="44" y="16" width="1.08" height="1.06" fill="#ffc6c6"/>
<rect x="45" y="16" width="3.08" height="1.06" fill="#ffaaaa"/>
<rect x="48" y="16" width="3.08" height="1.06" fill="#ff8e8e"/>
<rect x="51" y="16" width="2.08" height="1.06" fill="#ffaaaa"/>
<rect x="53" y="16" width="1.08" height="1.06" fill="#ffc6c6"/>
<rect x="54" y="16" width="2.08" height="1.06" fill="#ffe3e3"/>
<rect x="56" y="16" width="2.08" height="1.06" fill="#ffc6c6"/>
<rect x="-1" y="17" width="2.08" height="1.06" fill="#ffffff"/>
<rect x="1" y="17" width="2.08" height="1.06" fill="#ffaaaa"/>
<rect x="3" y="17" width="1.08" height="1.06" fill="#ffc6c6"/>
<rect x="4" y="17" width="1.08" height="1.06" fill="#ffe3e3"/>
<rect x="5" y="17" width="1.08" height="1.06" fill="#ffffff"/>
<rect x="6" y="17" width="1.08" height="1.06" fill="#ffe3e3"/>
<rect x="7" y="17" width="1.08" height="1.06" fill="#ffc6c6"/>
<rect x="8" y="17" width="2.08" height="1.06" fill="#ffaaaa"/>
<rect x="10" y="17" width="3.08" height="1.06" fill="#ff8e8e"/>
<rect x="13" y="17" width="1.08" height="1.06" fill="#ffaaaa"/>
<rect x="14" y="17" width="2.08" height="1.06" fill="#ffc6c6"/>
<rect x="16" y="17" width="1.08" height="1.06" fill="#ffe3e3"/>
<rect x="17" y="17" width="1.08" height="1.06" fill="#ffffff"/>
<rect x="18" y="17" width="2.08" height="1.06" fill="#e3e3ff"/>
<rect x="20" y="17" width="1.08" height="1.06" fill="#aaaaff"/>
<rect x="21" y="17" width="1.08" height="1.06" fill="#8e8eff"/>
<rect x="22" y="17" width="1.08" height="1.06" fill="#7171ff"/>
<rect x="23" y="17" width="1.08" height="1.06" fill="#3939ff"/>
<rect x="24" y="17" width="3.08" height="1.06" fill="#1c1cff"/>
<rect x="27" y="17" width="1.08" height="1.06" fill="#3939ff"/>
<rect x="28" y="17" width="1.08" height="1.06" fill="#5555ff"/>
<rect x="29" y="17" width="1.08" height="1.06" fill="#7171ff"/>
<rect x="30" y="17" width="1.08" height="1.06" fill="#8e8eff"/>
<rect x="31" y="17" width="1.08" height="1.06" fill="#c6c6ff"/>
<rect x="32" y="17" width="1.08" height="1.06" fill="#ffffff"/>
<rect x="33" y="17" width="1.08" height="1.06" fill="#ffe3e3"/>
<rect x="34" y="17" width="1.08" height="1.06" fill="#ffc6c6"/>
<rect x="35" y="17" width="1.08" height="1.06" fill="#ffaaaa"/>
<rect x="36" y="17" width="8.08" height="1.06" fill="#ff8e8e"/>
<rect x="44" y="17" width="1.08" height="1.06" fill="#ffaaaa"/>
<rect x="45" y="17" width="2.08" height="1.06" fill="#ff8e8e"/>
<rect x="47" y="17" width="4.08" height="1.06" fill="#ff7171"/>
<rect x="51" y="17" width="1.08" height="1.06" fill="#ff8e8e"/>
<rect x="52" y="17" width="1.08" height="1.06" fill="#ffaaaa"/>
<rect x="53" y="17" width="5.08" height="1.06" fill="#ffc6c6"/>
<rect x="-1" y="18" width="2.08" height="1.06" fill="#ffffff"/>
<rect x="1" y="18" width="2.08" height="1.06" fill="#ffaaaa"/>
<rect x="3" y="18" width="1.08" height="1.06" fill="#ffc6c6"/>
<rect x="4" y="18" width="1.08" height="1.06" fill="#ffe3e3"/>
<rect x="5" y="18" width="1.08" height="1.06" fill="#ffffff"/>
<rect x="6" y="18" width="1.08" height="1.06" fill="#ffe3e3"/>
<rect x="7" y="18" width="2.08" height="1.06" fill="#ffc6c6"/>
<rect x="9" y="18" width="5.08" height="1.06" fill="#ffaaaa"/>
<rect x="14" y="18" width="2.08" height="1.06" fill="#ffc6c6"/>
<rect x="16" y="18" width="1.08" height="1.06" fill="#ffe3e3"/>
<rect x="17" y="18" width="2.08" height="1.06" fill="#ffffff"/>
<rect x="19" y="18" width="1.08" height="1.06" fill="#e3e3ff"/>
<rect x="20" y="18" width="1.08" height="1.06" fill="#c6c6ff"/>
<rect x="21" y="18" width="1.08" height="1.06" fill="#aaaaff"/>
<rect x="22" y="18" width="1.08" height="1.06" fill="#8e8eff"/>
<rect x="23" y="18" width="1.08" height="1.06" fill="#7171ff"/>
<rect x="24" y="18" width="1.08" height="1.06" fill="#5555ff"/>
<rect x="25" y="18" width="3.08" height="1.06" fill="#3939ff"/>
<rect x="28" y="18" width="1.08" height="1.06" fill="#5555ff"/>
<rect x="29" y="18" width="1.08" height="1.06" fill="#7171ff"/>
<rect x="30" y="18" width="1.08" height="1.06" fill="#aaaaff"/>
<rect x="31" y="18" width="1.08" height="1.06" fill="#c6c6ff"/>
<rect x="32" y="18" width="1.08" height="1.06" fill="#e3e3ff"/>
<rect x="33" y="18" width="1.08" height="1.06" fill="#ffffff"/>
<rect x="34" y="18" width="1.08" height="1.06" fill="#ffe3e3"/>
<rect x="35" y="18" width="1.08" height="1.06" fill="#ffc6c6"/>
<rect x="36" y="18" width="2.08" height="1.06" fill="#ffaaaa"/>
<rect x="38" y="18" width="2.08" height="1.06" fill="#ff8e8e"/>
<rect x="40" y="18" width="2.08" height="1.06" fill="#ffaaaa"/>
<rect x="42" y="18" width="2.08" height="1.06" fill="#ffc6c6"/>
<rect x="44" y="18" width="2.08" height="1.06" fill="#ffaaaa"/>
<rect x="46" y="18" width="2.08" height="1.06" fill="#ff8e8e"/>
<rect x="48" y="18" width="3.08" height="1.06" fill="#ff7171"/>
<rect x="51" y="18" width="1.08" height="1.06" fill="#ff8e8e"/>
<rect x="52" y="18" width="1.08" height="1.06" fill="#ffaaaa"/>
<rect x="53" y="18" width="5.08" height="1.06" fill="#ffc6c6"/>
<rect x="-1" y="19" width="2.08" height="1.06" fill="#ffe3e3"/>
<rect x="1" y="19" width="1.08" height="1.06" fill="#ffaaaa"/>
<rect x="2" y="19" width="2.08" height="1.06" fill="#ff8e8e"/>
<rect x="4" y="19" width="2.08" height="1.06" fill="#ffaaaa"/>
<rect x="6" y="19" width="7.08" height="1.06" fill="#ffc6c6"/>
<rect x="13" y="19" width="3.08" height="1.06" fill="#ffaaaa"/>
<rect x="16" y="19" width="1.08" height="1.06" fill="#ffc6c6"/>
<rect x="17" y="19" width="1.08" height="1.06" fill="#ffe3e3"/>
<rect x="18" y="19" width="1.08" height="1.06" fill="#ffffff"/>
<rect x="19" y="19" width="1.08" height="1.06" fill="#e3e3ff"/>
<rect x="20" y="19" width="1.08" height="1.06" fill="#c6c6ff"/>
<rect x="21" y="19" width="1.08" height="1.06" fill="#aaaaff"/>
<rect x="22" y="19" width="1.08" height="1.06" fill="#7171ff"/>
<rect x="23" y="19" width="2.08" height="1.06" fill="#5555ff"/>
<rect x="25" y="19" width="1.08" height="1.06" fill="#3939ff"/>
<rect x="26" y="19" width="2.08" height="1.06" fill="#1c1cff"/>
<rect x="28" y="19" width="1.08" height="1.06" fill="#3939ff"/>
<rect x="29" y="19" width="1.08" height="1.06" fill="#7171ff"/>
<rect x="30" y="19" width="1.08" height="1.06" fill="#aaaaff"/>
<rect x="31" y="19" width="1.08" height="1.06" fill="#c6c6ff"/>
<rect x="32" y="19" width="1.08" height="1.06" fill="#e3e3ff"/>
<rect x="33" y="19" width="1.08" height="1.06" fill="#ffffff"/>
<rect x="34" y="19" width="1.08" height="1.06" fill="#ffe3e3"/>
<rect x="35" y="19" width="2.08" height="1.06" fill="#ffc6c6"/>
<rect x="37" y="19" width="9.08" height="1.06" fill="#ffaaaa"/>
<rect x="46" y="19" width="3.08" height="1.06" fill="#ff8e8e"/>
<rect x="49" y="19" width="3.08" height="1.06" fill="#ff7171"/>
<rect x="52" y="19" width="1.08" height="1.06" fill="#ff8e8e"/>
<rect x="53" y="19" width="2.08" height="1.06" fill="#ffaaaa"/>
<rect x="55" y="19" width="3.08" height="1.06" fill="#ffc6c6"/>
<rect x="-1" y="20" width="2.08" height="1.06" fill="#ffe3e3"/>
<rect x="1" y="20" width="1.08" height="1.06" fill="#ff8e8e"/>
<rect x="2" y="20" width="2.08" height="1.06" fill="#ff5555"/>
<rect x="4" y="20" width="1.08" height="1.06" fill="#ff7171"/>
<rect x="5" y="20" width="1.08" height="1.06" fill="#ff8e8e"/>
<rect x="6" y="20" width="2.08" height="1.06" fill="#ffaaaa"/>
<rect x="8" y="20" width="4.08" height="1.06" fill="#ffc6c6"/>
<rect x="12" y="20" width="2.08" height="1.06" fill="#ffaaaa"/>
<rect x="14" y="20" width="2.08" height="1.06" fill="#ffc6c6"/>
<rect x="16" y="20" width="1.08" height="1.06" fill="#ffe3e3"/>
<rect x="17" y="20" width="1.08" height="1.06" fill="#ffffff"/>
<rect x="18" y="20" width="2.08" height="1.06" fill="#e3e3ff"/>
<rect x="20" y="20" width="1.08" height="1.06" fill="#c6c6ff"/>
<rect x="21" y="20" width="1.08" height="1.06" fill="#8e8eff"/>
<rect x="22" y="20" width="1.08" height="1.06" fill="#5555ff"/>
<rect x="23" y="20" width="1.08" height="1.06" fill="#3939ff"/>
<rect x="24" y="20" width="2.08" height="1.06" fill="#1c1cff"/>
<rect x="26" y="20" width="1.08" height="1.06" fill="#3939ff"/>
<rect x="27" y="20" width="1.08" height="1.06" fill="#5555ff"/>
<rect x="28" y="20" width="1.08" height="1.06" fill="#7171ff"/>
<rect x="29" y="20" width="1.08" height="1.06" fill="#8e8eff"/>
<rect x="30" y="20" width="1.08" height="1.06" fill="#c6c6ff"/>
<rect x="31" y="20" width="1.08" height="1.06" fill="#e3e3ff"/>
<rect x="32" y="20" width="1.08" height="1.06" fill="#ffffff"/>
<rect x="33" y="20" width="1.08" height="1.06" fill="#ffe3e3"/>
<rect x="34" y="20" width="1.08" height="1.06" fill="#ffc6c6"/>
<rect x="35" y="20" width="5.08" height="1.06" fill="#ffaaaa"/>
<rect x="40" y="20" width="5.08" height="1.06" fill="#ff8e8e"/>
<rect x="45" y="20" width="4.08" height="1.06" fill="#ff7171"/>
<rect x="49" y="20" width="1.08" height="1.06" fill="#ff8e8e"/>
<rect x="50" y="20" width="2.08" height="1.06" fill="#ffaaaa"/>
<rect x="52" y="20" width="4.08" height="1.06" fill="#ffc6c6"/>
<rect x="56" y="20" width="2.08" height="1.06" fill="#ffaaaa"/>
<rect x="-1" y="21" width="2.08" height="1.06" fill="#ffc6c6"/>
<rect x="1" y="21" width="3.08" height="1.06" fill="#ff7171"/>
<rect x="4" y="21" width="8.08" height="1.06" fill="#ff8e8e"/>
<rect x="12" y="21" width="1.08" height="1.06" fill="#ff7171"/>
<rect x="13" y="21" width="1.08" height="1.06" fill="#ff8e8e"/>
<rect x="14" y="21" width="1.08" height="1.06" fill="#ffc6c6"/>
<rect x="15" y="21" width="1.08" height="1.06" fill="#ffe3e3"/>
<rect x="16" y="21" width="1.08" height="1.06" fill="#ffffff"/>
<rect x="17" y="21" width="1.08" height="1.06" fill="#c6c6ff"/>
<rect x="18" y="21" width="1.08" height="1.06" fill="#aaaaff"/>
<rect x="19" y="21" width="1.08" height="1.06" fill="#7171ff"/>
<rect x="20" y="21" width="1.08" height="1.06" fill="#5555ff"/>
<rect x="21" y="21" width="1.08" height="1.06" fill="#3939ff"/>
<rect x="22" y="21" width="4.08" height="1.06" fill="#1c1cff"/>
<rect x="26" y="21" width="1.08" height="1.06" fill="#3939ff"/>
<rect x="27" y="21" width="1.08" height="1.06" fill="#7171ff"/>
<rect x="28" y="21" width="1.08" height="1.06" fill="#aaaaff"/>
<rect x="29" y="21" width="1.08" height="1.06" fill="#e3e3ff"/>
<rect x="30" y="21" width="1.08" height="1.06" fill="#ffffff"/>
<rect x="31" y="21" width="1.08" height="1.06" fill="#ffe3e3"/>
<rect x="32" y="21" width="1.08" height="1.06" fill="#ffc6c6"/>
<rect x="33" y="21" width="8.08" height="1.06" fill="#ffaaaa"/>
<rect x="41" y="21" width="2.08" height="1.06" fill="#ff8e8e"/>
<rect x="43" y="21" width="5.08" height="1.06" fill="#ff7171"/>
<rect x="48" y="21" width="1.08" height="1.06" fill="#ff8e8e"/>
<rect x="49" y="21" width="1.08" height="1.06" fill="#ffaaaa"/>
<rect x="50" y="21" width="1.08" height="1.06" fill="#ffc6c6"/>
<rect x="51" y="21" width="1.08" height="1.06" fill="#ffe3e3"/>
<rect x="52" y="21" width="3.08" height="1.06" fill="#ffffff"/>
<rect x="55" y="21" width="1.08" height="1.06" fill="#ffe3e3"/>
<rect x="56" y="21" width="2.08" height="1.06" fill="#ffc6c6"/>
<rect x="-1" y="22" width="2.08" height="1.06" fill="#ffe3e3"/>
<rect x="1" y="22" width="2.08" height="1.06" fill="#ffaaaa"/>
<rect x="3" y="22" width="3.08" height="1.06" fill="#ffc6c6"/>
<rect x="6" y="22" width="2.08" height="1.06" fill="#ffaaaa"/>
<rect x="8" y="22" width="1.08" height="1.06" fill="#ff8e8e"/>
<rect x="9" y="22" width="1.08" height="1.06" fill="#ff7171"/>
<rect x="10" y="22" width="1.08" height="1.06" fill="#ff5555"/>
<rect x="11" y="22" width="2.08" height="1.06" fill="#ff7171"/>
<rect x="13" y="22" width="1.08" height="1.06" fill="#ff8e8e"/>
<rect x="14" y="22" width="1.08" height="1.06" fill="#ffc6c6"/>
<rect x="15" y="22" width="1.08" height="1.06" fill="#ffe3e3"/>
<rect x="16" y="22" width="1.08" height="1.06" fill="#ffffff"/>
<rect x="17" y="22" width="1.08" height="1.06" fill="#e3e3ff"/>
<rect x="18" y="22" width="1.08" height="1.06" fill="#c6c6ff"/>
<rect x="19" y="22" width="1.08" height="1.06" fill="#aaaaff"/>
<rect x="20" y="22" width="1.08" height="1.06" fill="#8e8eff"/>
<rect x="21" y="22" width="1.08" height="1.06" fill="#7171ff"/>
<rect x="22" y="22" width="2.08" height="1.06" fill="#5555ff"/>
<rect x="24" y="22" width="1.08" height="1.06" fill="#1c1cff"/>
<rect x="25" y="22" width="1.08" height="1.06" fill="#3939ff"/>
<rect x="26" y="22" width="1.08" height="1.06" fill="#5555ff"/>
<rect x="27" y="22" width="1.08" height="1.06" fill="#8e8eff"/>
<rect x="28" y="22" width="1.08" height="1.06" fill="#aaaaff"/>
<rect x="29" y="22" width="1.08" height="1.06" fill="#e3e3ff"/>
<rect x="30" y="22" width="1.08" height="1.06" fill="#ffffff"/>
<rect x="31" y="22" width="1.08" height="1.06" fill="#ffe3e3"/>
<rect x="32" y="22" width="1.08" height="1.06" fill="#ffc6c6"/>
<rect x="33" y="22" width="1.08" height="1.06" fill="#ffaaaa"/>
<rect x="34" y="22" width="4.08" height="1.06" fill="#ff8e8e"/>
<rect x="38" y="22" width="6.08" height="1.06" fill="#ffaaaa"/>
<rect x="44" y="22" width="4.08" height="1.06" fill="#ff8e8e"/>
<rect x="48" y="22" width="1.08" height="1.06" fill="#ff7171"/>
<rect x="49" y="22" width="1.08" height="1.06" fill="#ff8e8e"/>
<rect x="50" y="22" width="1.08" height="1.06" fill="#ffaaaa"/>
<rect x="51" y="22" width="1.08" height="1.06" fill="#ffc6c6"/>
<rect x="52" y="22" width="6.08" height="1.06" fill="#ffe3e3"/>
<rect x="-1" y="23" width="2.08" height="1.06" fill="#ffe3e3"/>
<rect x="1" y="23" width="2.08" height="1.06" fill="#ffaaaa"/>
<rect x="3" y="23" width="1.08" height="1.06" fill="#ffc6c6"/>
<rect x="4" y="23" width="2.08" height="1.06" fill="#ffe3e3"/>
<rect x="6" y="23" width="1.08" height="1.06" fill="#ffc6c6"/>
<rect x="7" y="23" width="1.08" height="1.06" fill="#ffaaaa"/>
<rect x="8" y="23" width="1.08" height="1.06" fill="#ff8e8e"/>
<rect x="9" y="23" width="4.08" height="1.06" fill="#ff7171"/>
<rect x="13" y="23" width="1.08" height="1.06" fill="#ff8e8e"/>
<rect x="14" y="23" width="1.08" height="1.06" fill="#ffc6c6"/>
<rect x="15" y="23" width="1.08" height="1.06" fill="#ffe3e3"/>
<rect x="16" y="23" width="1.08" height="1.06" fill="#ffffff"/>
<rect x="17" y="23" width="1.08" height="1.06" fill="#e3e3ff"/>
<rect x="18" y="23" width="1.08" height="1.06" fill="#c6c6ff"/>
<rect x="19" y="23" width="1.08" height="1.06" fill="#aaaaff"/>
<rect x="20" y="23" width="1.08" height="1.06" fill="#8e8eff"/>
<rect x="21" y="23" width="3.08" height="1.06" fill="#7171ff"/>
<rect x="24" y="23" width="1.08" height="1.06" fill="#3939ff"/>
<rect x="25" y="23" width="1.08" height="1.06" fill="#5555ff"/>
<rect x="26" y="23" width="1.08" height="1.06" fill="#7171ff"/>
<rect x="27" y="23" width="1.08" height="1.06" fill="#8e8eff"/>
<rect x="28" y="23" width="1.08" height="1.06" fill="#aaaaff"/>
<rect x="29" y="23" width="1.08" height="1.06" fill="#e3e3ff"/>
<rect x="30" y="23" width="1.08" height="1.06" fill="#ffffff"/>
<rect x="31" y="23" width="1.08" height="1.06" fill="#ffe3e3"/>
<rect x="32" y="23" width="1.08" height="1.06" fill="#ffc6c6"/>
<rect x="33" y="23" width="3.08" height="1.06" fill="#ffaaaa"/>
<rect x="36" y="23" width="2.08" height="1.06" fill="#ff8e8e"/>
<rect x="38" y="23" width="6.08" height="1.06" fill="#ffaaaa"/>
<rect x="44" y="23" width="2.08" height="1.06" fill="#ff8e8e"/>
<rect x="46" y="23" width="3.08" height="1.06" fill="#ff7171"/>
<rect x="49" y="23" width="1.08" height="1.06" fill="#ff8e8e"/>
<rect x="50" y="23" width="2.08" height="1.06" fill="#ffaaaa"/>
<rect x="52" y="23" width="1.08" height="1.06" fill="#ffc6c6"/>
<rect x="53" y="23" width="5.08" height="1.06" fill="#ffe3e3"/>
<rect x="-1" y="24" width="2.08" height="1.06" fill="#ffffff"/>
<rect x="1" y="24" width="2.08" height="1.06" fill="#ffaaaa"/>
<rect x="3" y="24" width="2.08" height="1.06" fill="#ffc6c6"/>
<rect x="5" y="24" width="2.08" height="1.06" fill="#ffe3e3"/>
<rect x="7" y="24" width="1.08" height="1.06" fill="#ffc6c6"/>
<rect x="8" y="24" width="1.08" height="1.06" fill="#ffaaaa"/>
<rect x="9" y="24" width="1.08" height="1.06" fill="#ff8e8e"/>
<rect x="10" y="24" width="3.08" height="1.06" fill="#ff7171"/>
<rect x="13" y="24" width="2.08" height="1.06" fill="#ff8e8e"/>
<rect x="15" y="24" width="1.08" height="1.06" fill="#ffc6c6"/>
<rect x="16" y="24" width="1.08" height="1.06" fill="#ffe3e3"/>
<rect x="17" y="24" width="1.08" height="1.06" fill="#ffffff"/>
<rect x="18" y="24" width="1.08" height="1.06" fill="#e3e3ff"/>
<rect x="19" y="24" width="1.08" height="1.06" fill="#c6c6ff"/>
<rect x="20" y="24" width="2.08" height="1.06" fill="#aaaaff"/>
<rect x="22" y="24" width="4.08" height="1.06" fill="#8e8eff"/>
<rect x="26" y="24" width="2.08" height="1.06" fill="#aaaaff"/>
<rect x="28" y="24" width="2.08" height="1.06" fill="#c6c6ff"/>
<rect x="30" y="24" width="1.08" height="1.06" fill="#e3e3ff"/>
<rect x="31" y="24" width="2.08" height="1.06" fill="#ffffff"/>
<rect x="33" y="24" width="5.08" height="1.06" fill="#ffe3e3"/>
<rect x="38" y="24" width="2.08" height="1.06" fill="#ffc6c6"/>
<rect x="40" y="24" width="2.08" height="1.06" fill="#ffaaaa"/>
<rect x="42" y="24" width="4.08" height="1.06" fill="#ff8e8e"/>
<rect x="46" y="24" width="1.08" height="1.06" fill="#ff7171"/>
<rect x="47" y="24" width="3.08" height="1.06" fill="#ff5555"/>
<rect x="50" y="24" width="2.08" height="1.06" fill="#ff7171"/>
<rect x="52" y="24" width="1.08" height="1.06" fill="#ff8e8e"/>
<rect x="53" y="24" width="1.08" height="1.06" fill="#ffaaaa"/>
<rect x="54" y="24" width="1.08" height="1.06" fill="#ffc6c6"/>
<rect x="55" y="24" width="1.08" height="1.06" fill="#ffe3e3"/>
<rect x="56" y="24" width="2.08" height="1.06" fill="#ffffff"/>
<rect x="-1" y="25" width="2.08" height="1.06" fill="#ffe3e3"/>
<rect x="1" y="25" width="1.08" height="1.06" fill="#ffaaaa"/>
<rect x="2" y="25" width="1.08" height="1.06" fill="#ff8e8e"/>
<rect x="3" y="25" width="2.08" height="1.06" fill="#ff7171"/>
<rect x="5" y="25" width="1.08" height="1.06" fill="#ff8e8e"/>
<rect x="6" y="25" width="6.08" height="1.06" fill="#ffaaaa"/>
<rect x="12" y="25" width="3.08" height="1.06" fill="#ff8e8e"/>
<rect x="15" y="25" width="1.08" height="1.06" fill="#ffaaaa"/>
<rect x="16" y="25" width="1.08" height="1.06" fill="#ffc6c6"/>
<rect x="17" y="25" width="1.08" height="1.06" fill="#ffffff"/>
<rect x="18" y="25" width="1.08" height="1.06" fill="#e3e3ff"/>
<rect x="19" y="25" width="1.08" height="1.06" fill="#c6c6ff"/>
<rect x="20" y="25" width="5.08" height="1.06" fill="#aaaaff"/>
<rect x="25" y="25" width="2.08" height="1.06" fill="#c6c6ff"/>
<rect x="27" y="25" width="3.08" height="1.06" fill="#e3e3ff"/>
<rect x="30" y="25" width="2.08" height="1.06" fill="#ffffff"/>
<rect x="32" y="25" width="4.08" height="1.06" fill="#ffe3e3"/>
<rect x="36" y="25" width="2.08" height="1.06" fill="#ffc6c6"/>
<rect x="38" y="25" width="2.08" height="1.06" fill="#ffaaaa"/>
<rect x="40" y="25" width="10.08" height="1.06" fill="#ff8e8e"/>
<rect x="50" y="25" width="3.08" height="1.06" fill="#ffaaaa"/>
<rect x="53" y="25" width="2.08" height="1.06" fill="#ffc6c6"/>
<rect x="55" y="25" width="3.08" height="1.06" fill="#ffe3e3"/>
<rect x="-1" y="26" width="2.08" height="1.06" fill="#ffe3e3"/>
<rect x="1" y="26" width="1.08" height="1.06" fill="#ffaaaa"/>
<rect x="2" y="26" width="1.08" height="1.06" fill="#ff8e8e"/>
<rect x="3" y="26" width="1.08" height="1.06" fill="#ff7171"/>
<rect x="4" y="26" width="2.08" height="1.06" fill="#ff8e8e"/>
<rect x="6" y="26" width="1.08" height="1.06" fill="#ffaaaa"/>
<rect x="7" y="26" width="3.08" height="1.06" fill="#ffc6c6"/>
<rect x="10" y="26" width="2.08" height="1.06" fill="#ffaaaa"/>
<rect x="12" y="26" width="3.08" height="1.06" fill="#ff8e8e"/>
<rect x="15" y="26" width="1.08" height="1.06" fill="#ffaaaa"/>
<rect x="16" y="26" width="1.08" height="1.06" fill="#ffc6c6"/>
<rect x="17" y="26" width="1.08" height="1.06" fill="#ffffff"/>
<rect x="18" y="26" width="1.08" height="1.06" fill="#e3e3ff"/>
<rect x="19" y="26" width="1.08" height="1.06" fill="#c6c6ff"/>
<rect x="20" y="26" width="1.08" height="1.06" fill="#aaaaff"/>
<rect x="21" y="26" width="1.08" height="1.06" fill="#8e8eff"/>
<rect x="22" y="26" width="2.08" height="1.06" fill="#7171ff"/>
<rect x="24" y="26" width="2.08" height="1.06" fill="#5555ff"/>
<rect x="26" y="26" width="2.08" height="1.06" fill="#8e8eff"/>
<rect x="28" y="26" width="1.08" height="1.06" fill="#aaaaff"/>
<rect x="29" y="26" width="1.08" height="1.06" fill="#c6c6ff"/>
<rect x="30" y="26" width="1.08" height="1.06" fill="#ffffff"/>
<rect x="31" y="26" width="1.08" height="1.06" fill="#ffe3e3"/>
<rect x="32" y="26" width="2.08" height="1.06" fill="#ffc6c6"/>
<rect x="34" y="26" width="5.08" height="1.06" fill="#ffaaaa"/>
<rect x="39" y="26" width="2.08" height="1.06" fill="#ff8e8e"/>
<rect x="41" y="26" width="4.08" height="1.06" fill="#ff7171"/>
<rect x="45" y="26" width="1.08" height="1.06" fill="#ff5555"/>
<rect x="46" y="26" width="2.08" height="1.06" fill="#ff7171"/>
<rect x="48" y="26" width="1.08" height="1.06" fill="#ff8e8e"/>
<rect x="49" y="26" width="2.08" height="1.06" fill="#ffaaaa"/>
<rect x="51" y="26" width="2.08" height="1.06" fill="#ffc6c6"/>
<rect x="53" y="26" width="2.08" height="1.06" fill="#ffe3e3"/>
<rect x="55" y="26" width="3.08" height="1.06" fill="#ffc6c6"/>
<rect x="-1" y="27" width="2.08" height="1.06" fill="#ffffff"/>
<rect x="1" y="27" width="1.08" height="1.06" fill="#ffaaaa"/>
<rect x="2" y="27" width="1.08" height="1.06" fill="#ff8e8e"/>
<rect x="3" y="27" width="1.08" height="1.06" fill="#ffaaaa"/>
<rect x="4" y="27" width="1.08" height="1.06" fill="#ffc6c6"/>
<rect x="5" y="27" width="2.08" height="1.06" fill="#ffe3e3"/>
<rect x="7" y="27" width="1.08" height="1.06" fill="#ffc6c6"/>
<rect x="8" y="27" width="1.08" height="1.06" fill="#ffaaaa"/>
<rect x="9" y="27" width="1.08" height="1.06" fill="#ff8e8e"/>
<rect x="10" y="27" width="2.08" height="1.06" fill="#ff7171"/>
<rect x="12" y="27" width="3.08" height="1.06" fill="#ff8e8e"/>
<rect x="15" y="27" width="1.08" height="1.06" fill="#ffc6c6"/>
<rect x="16" y="27" width="2.08" height="1.06" fill="#ffe3e3"/>
<rect x="18" y="27" width="1.08" height="1.06" fill="#ffffff"/>
<rect x="19" y="27" width="1.08" height="1.06" fill="#e3e3ff"/>
<rect x="20" y="27" width="1.08" height="1.06" fill="#c6c6ff"/>
<rect x="21" y="27" width="1.08" height="1.06" fill="#aaaaff"/>
<rect x="22" y="27" width="1.08" height="1.06" fill="#8e8eff"/>
<rect x="23" y="27" width="1.08" height="1.06" fill="#7171ff"/>
<rect x="24" y="27" width="2.08" height="1.06" fill="#8e8eff"/>
<rect x="26" y="27" width="1.08" height="1.06" fill="#aaaaff"/>
<rect x="27" y="27" width="1.08" height="1.06" fill="#c6c6ff"/>
<rect x="28" y="27" width="1.08" height="1.06" fill="#e3e3ff"/>
<rect x="29" y="27" width="1.08" height="1.06" fill="#ffffff"/>
<rect x="30" y="27" width="1.08" height="1.06" fill="#ffe3e3"/>
<rect x="31" y="27" width="1.08" height="1.06" fill="#ffc6c6"/>
<rect x="32" y="27" width="1.08" height="1.06" fill="#ffaaaa"/>
<rect x="33" y="27" width="1.08" height="1.06" fill="#ff8e8e"/>
<rect x="34" y="27" width="3.08" height="1.06" fill="#ff7171"/>
<rect x="37" y="27" width="1.08" height="1.06" fill="#ff8e8e"/>
<rect x="38" y="27" width="2.08" height="1.06" fill="#ffaaaa"/>
<rect x="40" y="27" width="2.08" height="1.06" fill="#ffc6c6"/>
<rect x="42" y="27" width="2.08" height="1.06" fill="#ffaaaa"/>
<rect x="44" y="27" width="2.08" height="1.06" fill="#ff8e8e"/>
<rect x="46" y="27" width="4.08" height="1.06" fill="#ff7171"/>
<rect x="50" y="27" width="1.08" height="1.06" fill="#ff8e8e"/>
<rect x="51" y="27" width="1.08" height="1.06" fill="#ffaaaa"/>
<rect x="52" y="27" width="1.08" height="1.06" fill="#ffc6c6"/>
<rect x="53" y="27" width="1.08" height="1.06" fill="#ffe3e3"/>
<rect x="54" y="27" width="1.08" height="1.06" fill="#ffffff"/>
<rect x="55" y="27" width="3.08" height="1.06" fill="#ffe3e3"/>
<rect x="-1" y="28" width="2.08" height="1.06" fill="#ffffff"/>
<rect x="1" y="28" width="2.08" height="1.06" fill="#ffaaaa"/>
<rect x="3" y="28" width="1.08" height="1.06" fill="#ffc6c6"/>
<rect x="4" y="28" width="3.08" height="1.06" fill="#ffe3e3"/>
<rect x="7" y="28" width="1.08" height="1.06" fill="#ffc6c6"/>
<rect x="8" y="28" width="1.08" height="1.06" fill="#ffaaaa"/>
<rect x="9" y="28" width="1.08" height="1.06" fill="#ff8e8e"/>
<rect x="10" y="28" width="2.08" height="1.06" fill="#ff7171"/>
<rect x="12" y="28" width="3.08" height="1.06" fill="#ff8e8e"/>
<rect x="15" y="28" width="1.08" height="1.06" fill="#ffc6c6"/>
<rect x="16" y="28" width="1.08" height="1.06" fill="#ffe3e3"/>
<rect x="17" y="28" width="1.08" height="1.06" fill="#ffffff"/>
<rect x="18" y="28" width="1.08" height="1.06" fill="#e3e3ff"/>
<rect x="19" y="28" width="1.08" height="1.06" fill="#c6c6ff"/>
<rect x="20" y="28" width="1.08" height="1.06" fill="#aaaaff"/>
<rect x="21" y="28" width="5.08" height="1.06" fill="#8e8eff"/>
<rect x="26" y="28" width="1.08" height="1.06" fill="#aaaaff"/>
<rect x="27" y="28" width="1.08" height="1.06" fill="#c6c6ff"/>
<rect x="28" y="28" width="1.08" height="1.06" fill="#e3e3ff"/>
<rect x="29" y="28" width="1.08" height="1.06" fill="#ffffff"/>
<rect x="30" y="28" width="1.08" height="1.06" fill="#ffe3e3"/>
<rect x="31" y="28" width="1.08" height="1.06" fill="#ffc6c6"/>
<rect x="32" y="28" width="1.08" height="1.06" fill="#ffaaaa"/>
<rect x="33" y="28" width="1.08" height="1.06" fill="#ff8e8e"/>
<rect x="34" y="28" width="3.08" height="1.06" fill="#ff7171"/>
<rect x="37" y="28" width="1.08" height="1.06" fill="#ff8e8e"/>
<rect x="38" y="28" width="2.08" height="1.06" fill="#ffaaaa"/>
<rect x="40" y="28" width="4.08" height="1.06" fill="#ffc6c6"/>
<rect x="44" y="28" width="2.08" height="1.06" fill="#ffaaaa"/>
<rect x="46" y="28" width="2.08" height="1.06" fill="#ff8e8e"/>
<rect x="48" y="28" width="3.08" height="1.06" fill="#ff7171"/>
<rect x="51" y="28" width="1.08" height="1.06" fill="#ff8e8e"/>
<rect x="52" y="28" width="1.08" height="1.06" fill="#ffaaaa"/>
<rect x="53" y="28" width="1.08" height="1.06" fill="#ffc6c6"/>
<rect x="54" y="28" width="1.08" height="1.06" fill="#ffe3e3"/>
<rect x="55" y="28" width="3.08" height="1.06" fill="#ffffff"/>
<rect x="-1" y="29" width="2.08" height="1.06" fill="#ffffff"/>
<rect x="1" y="29" width="2.08" height="1.06" fill="#ffaaaa"/>
<rect x="3" y="29" width="1.08" height="1.06" fill="#ffc6c6"/>
<rect x="4" y="29" width="3.08" height="1.06" fill="#ffe3e3"/>
<rect x="7" y="29" width="1.08" height="1.06" fill="#ffc6c6"/>
<rect x="8" y="29" width="1.08" height="1.06" fill="#ffaaaa"/>
<rect x="9" y="29" width="1.08" height="1.06" fill="#ff8e8e"/>
<rect x="10" y="29" width="2.08" height="1.06" fill="#ff7171"/>
<rect x="12" y="29" width="3.08" height="1.06" fill="#ff8e8e"/>
<rect x="15" y="29" width="1.08" height="1.06" fill="#ffc6c6"/>
<rect x="16" y="29" width="1.08" height="1.06" fill="#ffe3e3"/>
<rect x="17" y="29" width="1.08" height="1.06" fill="#ffffff"/>
<rect x="18" y="29" width="1.08" height="1.06" fill="#e3e3ff"/>
<rect x="19" y="29" width="1.08" height="1.06" fill="#c6c6ff"/>
<rect x="20" y="29" width="1.08" height="1.06" fill="#aaaaff"/>
<rect x="21" y="29" width="5.08" height="1.06" fill="#8e8eff"/>
<rect x="26" y="29" width="1.08" height="1.06" fill="#aaaaff"/>
<rect x="27" y="29" width="1.08" height="1.06" fill="#c6c6ff"/>
<rect x="28" y="29" width="1.08" height="1.06" fill="#e3e3ff"/>
<rect x="29" y="29" width="1.08" height="1.06" fill="#ffffff"/>
<rect x="30" y="29" width="1.08" height="1.06" fill="#ffe3e3"/>
<rect x="31" y="29" width="1.08" height="1.06" fill="#ffc6c6"/>
<rect x="32" y="29" width="1.08" height="1.06" fill="#ffaaaa"/>
<rect x="33" y="29" width="1.08" height="1.06" fill="#ff8e8e"/>
<rect x="34" y="29" width="3.08" height="1.06" fill="#ff7171"/>
<rect x="37" y="29" width="1.08" height="1.06" fill="#ff8e8e"/>
<rect x="38" y="29" width="2.08" height="1.06" fill="#ffaaaa"/>
<rect x="40" y="29" width="4.08" height="1.06" fill="#ffc6c6"/>
<rect x="44" y="29" width="2.08" height="1.06" fill="#ffaaaa"/>
<rect x="46" y="29" width="2.08" height="1.06" fill="#ff8e8e"/>
<rect x="48" y="29" width="3.08" height="1.06" fill="#ff7171"/>
<rect x="51" y="29" width="1.08" height="1.06" fill="#ff8e8e"/>
<rect x="52" y="29" width="1.08" height="1.06" fill="#ffaaaa"/>
<rect x="53" y="29" width="1.08" height="1.06" fill="#ffc6c6"/>
<rect x="54" y="29" width="1.08" height="1.06" fill="#ffe3e3"/>
<rect x="55" y="29" width="3.08" height="1.06" fill="#ffffff"/>
</g></g></g>
<defs><clipPath id="clipd"><rect x="813.9" y="805.2" width="531.6" height="530.3999999999999"/></clipPath><filter id="blurd" x="-5%" y="-5%" width="110%" height="110%" color-interpolation-filters="sRGB"><feGaussianBlur stdDeviation="2.0 6.0"/></filter></defs>
<g clip-path="url(#clipd)"><g filter="url(#blurd)"><g transform="translate(814.5,806.0) scale(5.47,26.5)" class="hm">
<rect x="-1" y="-1" width="2.08" height="1.06" fill="#ffbdbd"/>
<rect x="1" y="-1" width="1.08" height="1.06" fill="#ffbebe"/>
<rect x="2" y="-1" width="1.08" height="1.06" fill="#ffc3c3"/>
<rect x="3" y="-1" width="1.08" height="1.06" fill="#ffbdbd"/>
<rect x="4" y="-1" width="1.08" height="1.06" fill="#ffb5b5"/>
<rect x="5" y="-1" width="1.08" height="1.06" fill="#ffbcbc"/>
<rect x="6" y="-1" width="1.08" height="1.06" fill="#ffbfbf"/>
<rect x="7" y="-1" width="1.08" height="1.06" fill="#ffc4c4"/>
<rect x="8" y="-1" width="1.08" height="1.06" fill="#ffc9c9"/>
<rect x="9" y="-1" width="1.08" height="1.06" fill="#ffd5d5"/>
<rect x="10" y="-1" width="1.08" height="1.06" fill="#ffe1e1"/>
<rect x="11" y="-1" width="1.08" height="1.06" fill="#ffebeb"/>
<rect x="12" y="-1" width="2.08" height="1.06" fill="#ffecec"/>
<rect x="14" y="-1" width="1.08" height="1.06" fill="#fff2f2"/>
<rect x="15" y="-1" width="1.08" height="1.06" fill="#fff3f3"/>
<rect x="16" y="-1" width="1.08" height="1.06" fill="#ffeeee"/>
<rect x="17" y="-1" width="1.08" height="1.06" fill="#ffeaea"/>
<rect x="18" y="-1" width="1.08" height="1.06" fill="#ffdede"/>
<rect x="19" y="-1" width="1.08" height="1.06" fill="#ffcccc"/>
<rect x="20" y="-1" width="1.08" height="1.06" fill="#ffb3b3"/>
<rect x="21" y="-1" width="1.08" height="1.06" fill="#ffb2b2"/>
<rect x="22" y="-1" width="1.08" height="1.06" fill="#ffa7a7"/>
<rect x="23" y="-1" width="1.08" height="1.06" fill="#ff9d9d"/>
<rect x="24" y="-1" width="1.08" height="1.06" fill="#ff9696"/>
<rect x="25" y="-1" width="1.08" height="1.06" fill="#ff9c9c"/>
<rect x="26" y="-1" width="1.08" height="1.06" fill="#ffa5a5"/>
<rect x="27" y="-1" width="1.08" height="1.06" fill="#ffa8a8"/>
<rect x="28" y="-1" width="1.08" height="1.06" fill="#ffaeae"/>
<rect x="29" y="-1" width="1.08" height="1.06" fill="#ffb7b7"/>
<rect x="30" y="-1" width="1.08" height="1.06" fill="#ffc2c2"/>
<rect x="31" y="-1" width="1.08" height="1.06" fill="#ffd2d2"/>
<rect x="32" y="-1" width="1.08" height="1.06" fill="#ffeaea"/>
<rect x="33" y="-1" width="1.08" height="1.06" fill="#fffcfc"/>
<rect x="34" y="-1" width="1.08" height="1.06" fill="#f5f5ff"/>
<rect x="35" y="-1" width="1.08" height="1.06" fill="#eaeaff"/>
<rect x="36" y="-1" width="1.08" height="1.06" fill="#e4e4ff"/>
<rect x="37" y="-1" width="1.08" height="1.06" fill="#e5e5ff"/>
<rect x="38" y="-1" width="1.08" height="1.06" fill="#efefff"/>
<rect x="39" y="-1" width="1.08" height="1.06" fill="#fbfbff"/>
<rect x="40" y="-1" width="1.08" height="1.06" fill="#fffbfb"/>
<rect x="41" y="-1" width="1.08" height="1.06" fill="#fff0f0"/>
<rect x="42" y="-1" width="1.08" height="1.06" fill="#ffe5e5"/>
<rect x="43" y="-1" width="1.08" height="1.06" fill="#ffe0e0"/>
<rect x="44" y="-1" width="1.08" height="1.06" fill="#ffdbdb"/>
<rect x="45" y="-1" width="1.08" height="1.06" fill="#ffd3d3"/>
<rect x="46" y="-1" width="1.08" height="1.06" fill="#ffc8c8"/>
<rect x="47" y="-1" width="1.08" height="1.06" fill="#ffbbbb"/>
<rect x="48" y="-1" width="1.08" height="1.06" fill="#ffb1b1"/>
<rect x="49" y="-1" width="1.08" height="1.06" fill="#ff9e9e"/>
<rect x="50" y="-1" width="1.08" height="1.06" fill="#ff8383"/>
<rect x="51" y="-1" width="1.08" height="1.06" fill="#ff6a6a"/>
<rect x="52" y="-1" width="1.08" height="1.06" fill="#ff5d5d"/>
<rect x="53" y="-1" width="1.08" height="1.06" fill="#ff6c6c"/>
<rect x="54" y="-1" width="1.08" height="1.06" fill="#ff7f7f"/>
<rect x="55" y="-1" width="1.08" height="1.06" fill="#ff8888"/>
<rect x="56" y="-1" width="1.08" height="1.06" fill="#ff9b9b"/>
<rect x="57" y="-1" width="1.08" height="1.06" fill="#ffb0b0"/>
<rect x="58" y="-1" width="1.08" height="1.06" fill="#ffcccc"/>
<rect x="59" y="-1" width="1.08" height="1.06" fill="#ffe7e7"/>
<rect x="60" y="-1" width="1.08" height="1.06" fill="#fffafa"/>
<rect x="61" y="-1" width="1.08" height="1.06" fill="#f4f4ff"/>
<rect x="62" y="-1" width="1.08" height="1.06" fill="#eaeaff"/>
<rect x="63" y="-1" width="1.08" height="1.06" fill="#e9e9ff"/>
<rect x="64" y="-1" width="1.08" height="1.06" fill="#ececff"/>
<rect x="65" y="-1" width="1.08" height="1.06" fill="#f5f5ff"/>
<rect x="66" y="-1" width="1.08" height="1.06" fill="#fffdfd"/>
<rect x="67" y="-1" width="1.08" height="1.06" fill="#fff5f5"/>
<rect x="68" y="-1" width="2.08" height="1.06" fill="#fff8f8"/>
<rect x="70" y="-1" width="1.08" height="1.06" fill="#fff3f3"/>
<rect x="71" y="-1" width="1.08" height="1.06" fill="#ffeeee"/>
<rect x="72" y="-1" width="1.08" height="1.06" fill="#ffe8e8"/>
<rect x="73" y="-1" width="1.08" height="1.06" fill="#ffe1e1"/>
<rect x="74" y="-1" width="1.08" height="1.06" fill="#ffd9d9"/>
<rect x="75" y="-1" width="1.08" height="1.06" fill="#ffd2d2"/>
<rect x="76" y="-1" width="1.08" height="1.06" fill="#ffc7c7"/>
<rect x="77" y="-1" width="1.08" height="1.06" fill="#ffb5b5"/>
<rect x="78" y="-1" width="1.08" height="1.06" fill="#ffacac"/>
<rect x="79" y="-1" width="1.08" height="1.06" fill="#ffaaaa"/>
<rect x="80" y="-1" width="1.08" height="1.06" fill="#ffabab"/>
<rect x="81" y="-1" width="1.08" height="1.06" fill="#ffb0b0"/>
<rect x="82" y="-1" width="1.08" height="1.06" fill="#ffb1b1"/>
<rect x="83" y="-1" width="1.08" height="1.06" fill="#ffbaba"/>
<rect x="84" y="-1" width="1.08" height="1.06" fill="#ffc5c5"/>
<rect x="85" y="-1" width="1.08" height="1.06" fill="#ffd2d2"/>
<rect x="86" y="-1" width="1.08" height="1.06" fill="#ffdfdf"/>
<rect x="87" y="-1" width="1.08" height="1.06" fill="#ffecec"/>
<rect x="88" y="-1" width="1.08" height="1.06" fill="#fff5f5"/>
<rect x="89" y="-1" width="1.08" height="1.06" fill="#ffffff"/>
<rect x="90" y="-1" width="1.08" height="1.06" fill="#f5f5ff"/>
<rect x="91" y="-1" width="1.08" height="1.06" fill="#efefff"/>
<rect x="92" y="-1" width="2.08" height="1.06" fill="#ebebff"/>
<rect x="94" y="-1" width="1.08" height="1.06" fill="#ececff"/>
<rect x="95" y="-1" width="4.08" height="1.06" fill="#ebebff"/>
<rect x="-1" y="0" width="2.08" height="1.06" fill="#ffbdbd"/>
<rect x="1" y="0" width="1.08" height="1.06" fill="#ffbebe"/>
<rect x="2" y="0" width="1.08" height="1.06" fill="#ffc3c3"/>
<rect x="3" y="0" width="1.08" height="1.06" fill="#ffbdbd"/>
<rect x="4" y="0" width="1.08" height="1.06" fill="#ffb5b5"/>
<rect x="5" y="0" width="1.08" height="1.06" fill="#ffbcbc"/>
<rect x="6" y="0" width="1.08" height="1.06" fill="#ffbfbf"/>
<rect x="7" y="0" width="1.08" height="1.06" fill="#ffc4c4"/>
<rect x="8" y="0" width="1.08" height="1.06" fill="#ffc9c9"/>
<rect x="9" y="0" width="1.08" height="1.06" fill="#ffd5d5"/>
<rect x="10" y="0" width="1.08" height="1.06" fill="#ffe1e1"/>
<rect x="11" y="0" width="1.08" height="1.06" fill="#ffebeb"/>
<rect x="12" y="0" width="2.08" height="1.06" fill="#ffecec"/>
<rect x="14" y="0" width="1.08" height="1.06" fill="#fff2f2"/>
<rect x="15" y="0" width="1.08" height="1.06" fill="#fff3f3"/>
<rect x="16" y="0" width="1.08" height="1.06" fill="#ffeeee"/>
<rect x="17" y="0" width="1.08" height="1.06" fill="#ffeaea"/>
<rect x="18" y="0" width="1.08" height="1.06" fill="#ffdede"/>
<rect x="19" y="0" width="1.08" height="1.06" fill="#ffcccc"/>
<rect x="20" y="0" width="1.08" height="1.06" fill="#ffb3b3"/>
<rect x="21" y="0" width="1.08" height="1.06" fill="#ffb2b2"/>
<rect x="22" y="0" width="1.08" height="1.06" fill="#ffa7a7"/>
<rect x="23" y="0" width="1.08" height="1.06" fill="#ff9d9d"/>
<rect x="24" y="0" width="1.08" height="1.06" fill="#ff9696"/>
<rect x="25" y="0" width="1.08" height="1.06" fill="#ff9c9c"/>
<rect x="26" y="0" width="1.08" height="1.06" fill="#ffa5a5"/>
<rect x="27" y="0" width="1.08" height="1.06" fill="#ffa8a8"/>
<rect x="28" y="0" width="1.08" height="1.06" fill="#ffaeae"/>
<rect x="29" y="0" width="1.08" height="1.06" fill="#ffb7b7"/>
<rect x="30" y="0" width="1.08" height="1.06" fill="#ffc2c2"/>
<rect x="31" y="0" width="1.08" height="1.06" fill="#ffd2d2"/>
<rect x="32" y="0" width="1.08" height="1.06" fill="#ffeaea"/>
<rect x="33" y="0" width="1.08" height="1.06" fill="#fffcfc"/>
<rect x="34" y="0" width="1.08" height="1.06" fill="#f5f5ff"/>
<rect x="35" y="0" width="1.08" height="1.06" fill="#eaeaff"/>
<rect x="36" y="0" width="1.08" height="1.06" fill="#e4e4ff"/>
<rect x="37" y="0" width="1.08" height="1.06" fill="#e5e5ff"/>
<rect x="38" y="0" width="1.08" height="1.06" fill="#efefff"/>
<rect x="39" y="0" width="1.08" height="1.06" fill="#fbfbff"/>
<rect x="40" y="0" width="1.08" height="1.06" fill="#fffbfb"/>
<rect x="41" y="0" width="1.08" height="1.06" fill="#fff0f0"/>
<rect x="42" y="0" width="1.08" height="1.06" fill="#ffe5e5"/>
<rect x="43" y="0" width="1.08" height="1.06" fill="#ffe0e0"/>
<rect x="44" y="0" width="1.08" height="1.06" fill="#ffdbdb"/>
<rect x="45" y="0" width="1.08" height="1.06" fill="#ffd3d3"/>
<rect x="46" y="0" width="1.08" height="1.06" fill="#ffc8c8"/>
<rect x="47" y="0" width="1.08" height="1.06" fill="#ffbbbb"/>
<rect x="48" y="0" width="1.08" height="1.06" fill="#ffb1b1"/>
<rect x="49" y="0" width="1.08" height="1.06" fill="#ff9e9e"/>
<rect x="50" y="0" width="1.08" height="1.06" fill="#ff8383"/>
<rect x="51" y="0" width="1.08" height="1.06" fill="#ff6a6a"/>
<rect x="52" y="0" width="1.08" height="1.06" fill="#ff5d5d"/>
<rect x="53" y="0" width="1.08" height="1.06" fill="#ff6c6c"/>
<rect x="54" y="0" width="1.08" height="1.06" fill="#ff7f7f"/>
<rect x="55" y="0" width="1.08" height="1.06" fill="#ff8888"/>
<rect x="56" y="0" width="1.08" height="1.06" fill="#ff9b9b"/>
<rect x="57" y="0" width="1.08" height="1.06" fill="#ffb0b0"/>
<rect x="58" y="0" width="1.08" height="1.06" fill="#ffcccc"/>
<rect x="59" y="0" width="1.08" height="1.06" fill="#ffe7e7"/>
<rect x="60" y="0" width="1.08" height="1.06" fill="#fffafa"/>
<rect x="61" y="0" width="1.08" height="1.06" fill="#f4f4ff"/>
<rect x="62" y="0" width="1.08" height="1.06" fill="#eaeaff"/>
<rect x="63" y="0" width="1.08" height="1.06" fill="#e9e9ff"/>
<rect x="64" y="0" width="1.08" height="1.06" fill="#ececff"/>
<rect x="65" y="0" width="1.08" height="1.06" fill="#f5f5ff"/>
<rect x="66" y="0" width="1.08" height="1.06" fill="#fffdfd"/>
<rect x="67" y="0" width="1.08" height="1.06" fill="#fff5f5"/>
<rect x="68" y="0" width="2.08" height="1.06" fill="#fff8f8"/>
<rect x="70" y="0" width="1.08" height="1.06" fill="#fff3f3"/>
<rect x="71" y="0" width="1.08" height="1.06" fill="#ffeeee"/>
<rect x="72" y="0" width="1.08" height="1.06" fill="#ffe8e8"/>
<rect x="73" y="0" width="1.08" height="1.06" fill="#ffe1e1"/>
<rect x="74" y="0" width="1.08" height="1.06" fill="#ffd9d9"/>
<rect x="75" y="0" width="1.08" height="1.06" fill="#ffd2d2"/>
<rect x="76" y="0" width="1.08" height="1.06" fill="#ffc7c7"/>
<rect x="77" y="0" width="1.08" height="1.06" fill="#ffb5b5"/>
<rect x="78" y="0" width="1.08" height="1.06" fill="#ffacac"/>
<rect x="79" y="0" width="1.08" height="1.06" fill="#ffaaaa"/>
<rect x="80" y="0" width="1.08" height="1.06" fill="#ffabab"/>
<rect x="81" y="0" width="1.08" height="1.06" fill="#ffb0b0"/>
<rect x="82" y="0" width="1.08" height="1.06" fill="#ffb1b1"/>
<rect x="83" y="0" width="1.08" height="1.06" fill="#ffbaba"/>
<rect x="84" y="0" width="1.08" height="1.06" fill="#ffc5c5"/>
<rect x="85" y="0" width="1.08" height="1.06" fill="#ffd2d2"/>
<rect x="86" y="0" width="1.08" height="1.06" fill="#ffdfdf"/>
<rect x="87" y="0" width="1.08" height="1.06" fill="#ffecec"/>
<rect x="88" y="0" width="1.08" height="1.06" fill="#fff5f5"/>
<rect x="89" y="0" width="1.08" height="1.06" fill="#ffffff"/>
<rect x="90" y="0" width="1.08" height="1.06" fill="#f5f5ff"/>
<rect x="91" y="0" width="1.08" height="1.06" fill="#efefff"/>
<rect x="92" y="0" width="2.08" height="1.06" fill="#ebebff"/>
<rect x="94" y="0" width="1.08" height="1.06" fill="#ececff"/>
<rect x="95" y="0" width="4.08" height="1.06" fill="#ebebff"/>
<rect x="-1" y="1" width="2.08" height="1.06" fill="#ffbdbd"/>
<rect x="1" y="1" width="1.08" height="1.06" fill="#ffbebe"/>
<rect x="2" y="1" width="1.08" height="1.06" fill="#ffc3c3"/>
<rect x="3" y="1" width="1.08" height="1.06" fill="#ffbdbd"/>
<rect x="4" y="1" width="1.08" height="1.06" fill="#ffb5b5"/>
<rect x="5" y="1" width="1.08" height="1.06" fill="#ffbcbc"/>
<rect x="6" y="1" width="1.08" height="1.06" fill="#ffbfbf"/>
<rect x="7" y="1" width="1.08" height="1.06" fill="#ffc4c4"/>
<rect x="8" y="1" width="1.08" height="1.06" fill="#ffc9c9"/>
<rect x="9" y="1" width="1.08" height="1.06" fill="#ffd5d5"/>
<rect x="10" y="1" width="1.08" height="1.06" fill="#ffe1e1"/>
<rect x="11" y="1" width="1.08" height="1.06" fill="#ffebeb"/>
<rect x="12" y="1" width="2.08" height="1.06" fill="#ffecec"/>
<rect x="14" y="1" width="1.08" height="1.06" fill="#fff2f2"/>
<rect x="15" y="1" width="1.08" height="1.06" fill="#fff3f3"/>
<rect x="16" y="1" width="1.08" height="1.06" fill="#ffeeee"/>
<rect x="17" y="1" width="1.08" height="1.06" fill="#ffeaea"/>
<rect x="18" y="1" width="1.08" height="1.06" fill="#ffdede"/>
<rect x="19" y="1" width="1.08" height="1.06" fill="#ffcccc"/>
<rect x="20" y="1" width="1.08" height="1.06" fill="#ffb3b3"/>
<rect x="21" y="1" width="1.08" height="1.06" fill="#ffb2b2"/>
<rect x="22" y="1" width="1.08" height="1.06" fill="#ffa7a7"/>
<rect x="23" y="1" width="1.08" height="1.06" fill="#ff9a9a"/>
<rect x="24" y="1" width="1.08" height="1.06" fill="#ff8d8d"/>
<rect x="25" y="1" width="1.08" height="1.06" fill="#ff8c8c"/>
<rect x="26" y="1" width="1.08" height="1.06" fill="#ff9696"/>
<rect x="27" y="1" width="1.08" height="1.06" fill="#ff9999"/>
<rect x="28" y="1" width="1.08" height="1.06" fill="#ff9e9e"/>
<rect x="29" y="1" width="1.08" height="1.06" fill="#ffa8a8"/>
<rect x="30" y="1" width="1.08" height="1.06" fill="#ffb2b2"/>
<rect x="31" y="1" width="1.08" height="1.06" fill="#ffc3c3"/>
<rect x="32" y="1" width="1.08" height="1.06" fill="#ffdada"/>
<rect x="33" y="1" width="1.08" height="1.06" fill="#ffecec"/>
<rect x="34" y="1" width="1.08" height="1.06" fill="#fffafa"/>
<rect x="35" y="1" width="1.08" height="1.06" fill="#f7f7ff"/>
<rect x="36" y="1" width="1.08" height="1.06" fill="#ebebff"/>
<rect x="37" y="1" width="1.08" height="1.06" fill="#e6e6ff"/>
<rect x="38" y="1" width="1.08" height="1.06" fill="#efefff"/>
<rect x="39" y="1" width="1.08" height="1.06" fill="#fbfbff"/>
<rect x="40" y="1" width="1.08" height="1.06" fill="#fffbfb"/>
<rect x="41" y="1" width="1.08" height="1.06" fill="#fff0f0"/>
<rect x="42" y="1" width="1.08" height="1.06" fill="#ffe5e5"/>
<rect x="43" y="1" width="1.08" height="1.06" fill="#ffe0e0"/>
<rect x="44" y="1" width="1.08" height="1.06" fill="#ffdbdb"/>
<rect x="45" y="1" width="1.08" height="1.06" fill="#ffd3d3"/>
<rect x="46" y="1" width="1.08" height="1.06" fill="#ffc8c8"/>
<rect x="47" y="1" width="1.08" height="1.06" fill="#ffbbbb"/>
<rect x="48" y="1" width="1.08" height="1.06" fill="#ffb1b1"/>
<rect x="49" y="1" width="1.08" height="1.06" fill="#ff9e9e"/>
<rect x="50" y="1" width="1.08" height="1.06" fill="#ff8383"/>
<rect x="51" y="1" width="1.08" height="1.06" fill="#ff6a6a"/>
<rect x="52" y="1" width="1.08" height="1.06" fill="#ff5b5b"/>
<rect x="53" y="1" width="1.08" height="1.06" fill="#ff6464"/>
<rect x="54" y="1" width="1.08" height="1.06" fill="#ff7171"/>
<rect x="55" y="1" width="1.08" height="1.06" fill="#ff7e7e"/>
<rect x="56" y="1" width="1.08" height="1.06" fill="#ff9797"/>
<rect x="57" y="1" width="1.08" height="1.06" fill="#ffb0b0"/>
<rect x="58" y="1" width="1.08" height="1.06" fill="#ffcccc"/>
<rect x="59" y="1" width="1.08" height="1.06" fill="#ffe7e7"/>
<rect x="60" y="1" width="1.08" height="1.06" fill="#fffafa"/>
<rect x="61" y="1" width="1.08" height="1.06" fill="#f4f4ff"/>
<rect x="62" y="1" width="1.08" height="1.06" fill="#eaeaff"/>
<rect x="63" y="1" width="1.08" height="1.06" fill="#e9e9ff"/>
<rect x="64" y="1" width="1.08" height="1.06" fill="#ececff"/>
<rect x="65" y="1" width="1.08" height="1.06" fill="#f5f5ff"/>
<rect x="66" y="1" width="1.08" height="1.06" fill="#fffdfd"/>
<rect x="67" y="1" width="1.08" height="1.06" fill="#fff5f5"/>
<rect x="68" y="1" width="2.08" height="1.06" fill="#fff8f8"/>
<rect x="70" y="1" width="1.08" height="1.06" fill="#fff3f3"/>
<rect x="71" y="1" width="1.08" height="1.06" fill="#ffeeee"/>
<rect x="72" y="1" width="1.08" height="1.06" fill="#ffe8e8"/>
<rect x="73" y="1" width="1.08" height="1.06" fill="#ffe1e1"/>
<rect x="74" y="1" width="1.08" height="1.06" fill="#ffd9d9"/>
<rect x="75" y="1" width="1.08" height="1.06" fill="#ffd2d2"/>
<rect x="76" y="1" width="1.08" height="1.06" fill="#ffc7c7"/>
<rect x="77" y="1" width="1.08" height="1.06" fill="#ffb5b5"/>
<rect x="78" y="1" width="1.08" height="1.06" fill="#ffacac"/>
<rect x="79" y="1" width="1.08" height="1.06" fill="#ffa6a6"/>
<rect x="80" y="1" width="2.08" height="1.06" fill="#ffa1a1"/>
<rect x="82" y="1" width="1.08" height="1.06" fill="#ffaaaa"/>
<rect x="83" y="1" width="1.08" height="1.06" fill="#ffb8b8"/>
<rect x="84" y="1" width="1.08" height="1.06" fill="#ffc5c5"/>
<rect x="85" y="1" width="1.08" height="1.06" fill="#ffd2d2"/>
<rect x="86" y="1" width="1.08" height="1.06" fill="#ffdfdf"/>
<rect x="87" y="1" width="1.08" height="1.06" fill="#ffecec"/>
<rect x="88" y="1" width="1.08" height="1.06" fill="#fff5f5"/>
<rect x="89" y="1" width="1.08" height="1.06" fill="#ffffff"/>
<rect x="90" y="1" width="1.08" height="1.06" fill="#f5f5ff"/>
<rect x="91" y="1" width="1.08" height="1.06" fill="#efefff"/>
<rect x="92" y="1" width="2.08" height="1.06" fill="#ebebff"/>
<rect x="94" y="1" width="1.08" height="1.06" fill="#ececff"/>
<rect x="95" y="1" width="4.08" height="1.06" fill="#ebebff"/>
<rect x="-1" y="2" width="2.08" height="1.06" fill="#ffbdbd"/>
<rect x="1" y="2" width="1.08" height="1.06" fill="#ffbebe"/>
<rect x="2" y="2" width="1.08" height="1.06" fill="#ffc3c3"/>
<rect x="3" y="2" width="1.08" height="1.06" fill="#ffbdbd"/>
<rect x="4" y="2" width="2.08" height="1.06" fill="#ffb0b0"/>
<rect x="6" y="2" width="1.08" height="1.06" fill="#ffb2b2"/>
<rect x="7" y="2" width="1.08" height="1.06" fill="#ffbebe"/>
<rect x="8" y="2" width="1.08" height="1.06" fill="#ffc9c9"/>
<rect x="9" y="2" width="1.08" height="1.06" fill="#ffcfcf"/>
<rect x="10" y="2" width="1.08" height="1.06" fill="#ffd4d4"/>
<rect x="11" y="2" width="1.08" height="1.06" fill="#ffdfdf"/>
<rect x="12" y="2" width="1.08" height="1.06" fill="#ffe7e7"/>
<rect x="13" y="2" width="2.08" height="1.06" fill="#ffebeb"/>
<rect x="15" y="2" width="1.08" height="1.06" fill="#ffe5e5"/>
<rect x="16" y="2" width="1.08" height="1.06" fill="#ffdfdf"/>
<rect x="17" y="2" width="1.08" height="1.06" fill="#ffdbdb"/>
<rect x="18" y="2" width="1.08" height="1.06" fill="#ffcfcf"/>
<rect x="19" y="2" width="1.08" height="1.06" fill="#ffbcbc"/>
<rect x="20" y="2" width="1.08" height="1.06" fill="#ffa4a4"/>
<rect x="21" y="2" width="1.08" height="1.06" fill="#ffa8a8"/>
<rect x="22" y="2" width="1.08" height="1.06" fill="#ffa3a3"/>
<rect x="23" y="2" width="1.08" height="1.06" fill="#ff9d9d"/>
<rect x="24" y="2" width="1.08" height="1.06" fill="#ff9696"/>
<rect x="25" y="2" width="1.08" height="1.06" fill="#ff9c9c"/>
<rect x="26" y="2" width="1.08" height="1.06" fill="#ff9f9f"/>
<rect x="27" y="2" width="1.08" height="1.06" fill="#ff9c9c"/>
<rect x="28" y="2" width="1.08" height="1.06" fill="#ff9e9e"/>
<rect x="29" y="2" width="1.08" height="1.06" fill="#ffa8a8"/>
<rect x="30" y="2" width="1.08" height="1.06" fill="#ffb2b2"/>
<rect x="31" y="2" width="1.08" height="1.06" fill="#ffc3c3"/>
<rect x="32" y="2" width="1.08" height="1.06" fill="#ffdada"/>
<rect x="33" y="2" width="1.08" height="1.06" fill="#ffecec"/>
<rect x="34" y="2" width="1.08" height="1.06" fill="#fffafa"/>
<rect x="35" y="2" width="1.08" height="1.06" fill="#f7f7ff"/>
<rect x="36" y="2" width="1.08" height="1.06" fill="#ebebff"/>
<rect x="37" y="2" width="1.08" height="1.06" fill="#e6e6ff"/>
<rect x="38" y="2" width="1.08" height="1.06" fill="#efefff"/>
<rect x="39" y="2" width="1.08" height="1.06" fill="#fbfbff"/>
<rect x="40" y="2" width="1.08" height="1.06" fill="#fffbfb"/>
<rect x="41" y="2" width="1.08" height="1.06" fill="#fff0f0"/>
<rect x="42" y="2" width="1.08" height="1.06" fill="#ffe5e5"/>
<rect x="43" y="2" width="1.08" height="1.06" fill="#ffe0e0"/>
<rect x="44" y="2" width="1.08" height="1.06" fill="#ffdbdb"/>
<rect x="45" y="2" width="1.08" height="1.06" fill="#ffd6d6"/>
<rect x="46" y="2" width="1.08" height="1.06" fill="#ffd2d2"/>
<rect x="47" y="2" width="1.08" height="1.06" fill="#ffc9c9"/>
<rect x="48" y="2" width="1.08" height="1.06" fill="#ffb9b9"/>
<rect x="49" y="2" width="1.08" height="1.06" fill="#ffa0a0"/>
<rect x="50" y="2" width="1.08" height="1.06" fill="#ff8383"/>
<rect x="51" y="2" width="1.08" height="1.06" fill="#ff6a6a"/>
<rect x="52" y="2" width="1.08" height="1.06" fill="#ff5b5b"/>
<rect x="53" y="2" width="1.08" height="1.06" fill="#ff6464"/>
<rect x="54" y="2" width="1.08" height="1.06" fill="#ff7171"/>
<rect x="55" y="2" width="1.08" height="1.06" fill="#ff7e7e"/>
<rect x="56" y="2" width="1.08" height="1.06" fill="#ff9797"/>
<rect x="57" y="2" width="1.08" height="1.06" fill="#ffb0b0"/>
<rect x="58" y="2" width="1.08" height="1.06" fill="#ffcccc"/>
<rect x="59" y="2" width="1.08" height="1.06" fill="#ffe7e7"/>
<rect x="60" y="2" width="1.08" height="1.06" fill="#fffafa"/>
<rect x="61" y="2" width="1.08" height="1.06" fill="#f4f4ff"/>
<rect x="62" y="2" width="1.08" height="1.06" fill="#eeeeff"/>
<rect x="63" y="2" width="1.08" height="1.06" fill="#f3f3ff"/>
<rect x="64" y="2" width="1.08" height="1.06" fill="#fafaff"/>
<rect x="65" y="2" width="1.08" height="1.06" fill="#fdfdff"/>
<rect x="66" y="2" width="1.08" height="1.06" fill="#fffbfb"/>
<rect x="67" y="2" width="1.08" height="1.06" fill="#fff0f0"/>
<rect x="68" y="2" width="1.08" height="1.06" fill="#ffeded"/>
<rect x="69" y="2" width="1.08" height="1.06" fill="#ffebeb"/>
<rect x="70" y="2" width="1.08" height="1.06" fill="#ffecec"/>
<rect x="71" y="2" width="1.08" height="1.06" fill="#ffeded"/>
<rect x="72" y="2" width="1.08" height="1.06" fill="#ffe8e8"/>
<rect x="73" y="2" width="1.08" height="1.06" fill="#ffe1e1"/>
<rect x="74" y="2" width="1.08" height="1.06" fill="#ffd9d9"/>
<rect x="75" y="2" width="1.08" height="1.06" fill="#ffd2d2"/>
<rect x="76" y="2" width="1.08" height="1.06" fill="#ffc7c7"/>
<rect x="77" y="2" width="1.08" height="1.06" fill="#ffb5b5"/>
<rect x="78" y="2" width="1.08" height="1.06" fill="#ffacac"/>
<rect x="79" y="2" width="1.08" height="1.06" fill="#ffa6a6"/>
<rect x="80" y="2" width="2.08" height="1.06" fill="#ffa1a1"/>
<rect x="82" y="2" width="1.08" height="1.06" fill="#ffaaaa"/>
<rect x="83" y="2" width="1.08" height="1.06" fill="#ffb8b8"/>
<rect x="84" y="2" width="1.08" height="1.06" fill="#ffc5c5"/>
<rect x="85" y="2" width="1.08" height="1.06" fill="#ffd2d2"/>
<rect x="86" y="2" width="1.08" height="1.06" fill="#ffdfdf"/>
<rect x="87" y="2" width="1.08" height="1.06" fill="#ffecec"/>
<rect x="88" y="2" width="1.08" height="1.06" fill="#fff5f5"/>
<rect x="89" y="2" width="1.08" height="1.06" fill="#ffffff"/>
<rect x="90" y="2" width="1.08" height="1.06" fill="#f5f5ff"/>
<rect x="91" y="2" width="1.08" height="1.06" fill="#efefff"/>
<rect x="92" y="2" width="2.08" height="1.06" fill="#ebebff"/>
<rect x="94" y="2" width="1.08" height="1.06" fill="#ececff"/>
<rect x="95" y="2" width="4.08" height="1.06" fill="#ebebff"/>
<rect x="-1" y="3" width="3.08" height="1.06" fill="#ffcccc"/>
<rect x="2" y="3" width="1.08" height="1.06" fill="#ffcbcb"/>
<rect x="3" y="3" width="1.08" height="1.06" fill="#ffbebe"/>
<rect x="4" y="3" width="2.08" height="1.06" fill="#ffb0b0"/>
<rect x="6" y="3" width="1.08" height="1.06" fill="#ffb2b2"/>
<rect x="7" y="3" width="1.08" height="1.06" fill="#ffbebe"/>
<rect x="8" y="3" width="1.08" height="1.06" fill="#ffc9c9"/>
<rect x="9" y="3" width="1.08" height="1.06" fill="#ffd5d5"/>
<rect x="10" y="3" width="1.08" height="1.06" fill="#ffe1e1"/>
<rect x="11" y="3" width="1.08" height="1.06" fill="#ffebeb"/>
<rect x="12" y="3" width="2.08" height="1.06" fill="#ffecec"/>
<rect x="14" y="3" width="1.08" height="1.06" fill="#fff2f2"/>
<rect x="15" y="3" width="1.08" height="1.06" fill="#fff3f3"/>
<rect x="16" y="3" width="1.08" height="1.06" fill="#ffe9e9"/>
<rect x="17" y="3" width="1.08" height="1.06" fill="#ffdfdf"/>
<rect x="18" y="3" width="1.08" height="1.06" fill="#ffd1d1"/>
<rect x="19" y="3" width="1.08" height="1.06" fill="#ffc5c5"/>
<rect x="20" y="3" width="2.08" height="1.06" fill="#ffb2b2"/>
<rect x="22" y="3" width="1.08" height="1.06" fill="#ffa7a7"/>
<rect x="23" y="3" width="1.08" height="1.06" fill="#ff9d9d"/>
<rect x="24" y="3" width="1.08" height="1.06" fill="#ff9696"/>
<rect x="25" y="3" width="1.08" height="1.06" fill="#ff9c9c"/>
<rect x="26" y="3" width="1.08" height="1.06" fill="#ff9f9f"/>
<rect x="27" y="3" width="1.08" height="1.06" fill="#ff9c9c"/>
<rect x="28" y="3" width="1.08" height="1.06" fill="#ff9e9e"/>
<rect x="29" y="3" width="1.08" height="1.06" fill="#ffa8a8"/>
<rect x="30" y="3" width="1.08" height="1.06" fill="#ffb2b2"/>
<rect x="31" y="3" width="1.08" height="1.06" fill="#ffc3c3"/>
<rect x="32" y="3" width="1.08" height="1.06" fill="#ffdada"/>
<rect x="33" y="3" width="1.08" height="1.06" fill="#ffecec"/>
<rect x="34" y="3" width="1.08" height="1.06" fill="#fffafa"/>
<rect x="35" y="3" width="1.08" height="1.06" fill="#f5f5ff"/>
<rect x="36" y="3" width="1.08" height="1.06" fill="#e3e3ff"/>
<rect x="37" y="3" width="1.08" height="1.06" fill="#d7d7ff"/>
<rect x="38" y="3" width="1.08" height="1.06" fill="#e0e0ff"/>
<rect x="39" y="3" width="1.08" height="1.06" fill="#ebebff"/>
<rect x="40" y="3" width="1.08" height="1.06" fill="#f4f4ff"/>
<rect x="41" y="3" width="1.08" height="1.06" fill="#fefeff"/>
<rect x="42" y="3" width="1.08" height="1.06" fill="#fff5f5"/>
<rect x="43" y="3" width="1.08" height="1.06" fill="#ffe9e9"/>
<rect x="44" y="3" width="1.08" height="1.06" fill="#ffdede"/>
<rect x="45" y="3" width="1.08" height="1.06" fill="#ffd3d3"/>
<rect x="46" y="3" width="1.08" height="1.06" fill="#ffc8c8"/>
<rect x="47" y="3" width="1.08" height="1.06" fill="#ffbbbb"/>
<rect x="48" y="3" width="1.08" height="1.06" fill="#ffb1b1"/>
<rect x="49" y="3" width="1.08" height="1.06" fill="#ff9e9e"/>
<rect x="50" y="3" width="1.08" height="1.06" fill="#ff8383"/>
<rect x="51" y="3" width="1.08" height="1.06" fill="#ff6a6a"/>
<rect x="52" y="3" width="1.08" height="1.06" fill="#ff5b5b"/>
<rect x="53" y="3" width="1.08" height="1.06" fill="#ff6464"/>
<rect x="54" y="3" width="1.08" height="1.06" fill="#ff7171"/>
<rect x="55" y="3" width="1.08" height="1.06" fill="#ff7e7e"/>
<rect x="56" y="3" width="1.08" height="1.06" fill="#ff9797"/>
<rect x="57" y="3" width="1.08" height="1.06" fill="#ffb0b0"/>
<rect x="58" y="3" width="1.08" height="1.06" fill="#ffcccc"/>
<rect x="59" y="3" width="1.08" height="1.06" fill="#ffe7e7"/>
<rect x="60" y="3" width="1.08" height="1.06" fill="#fffafa"/>
<rect x="61" y="3" width="1.08" height="1.06" fill="#f4f4ff"/>
<rect x="62" y="3" width="1.08" height="1.06" fill="#eeeeff"/>
<rect x="63" y="3" width="1.08" height="1.06" fill="#f3f3ff"/>
<rect x="64" y="3" width="1.08" height="1.06" fill="#fafaff"/>
<rect x="65" y="3" width="1.08" height="1.06" fill="#fdfdff"/>
<rect x="66" y="3" width="1.08" height="1.06" fill="#fffbfb"/>
<rect x="67" y="3" width="1.08" height="1.06" fill="#fff0f0"/>
<rect x="68" y="3" width="1.08" height="1.06" fill="#ffeded"/>
<rect x="69" y="3" width="1.08" height="1.06" fill="#ffebeb"/>
<rect x="70" y="3" width="1.08" height="1.06" fill="#ffecec"/>
<rect x="71" y="3" width="1.08" height="1.06" fill="#ffeded"/>
<rect x="72" y="3" width="1.08" height="1.06" fill="#ffe8e8"/>
<rect x="73" y="3" width="1.08" height="1.06" fill="#ffe1e1"/>
<rect x="74" y="3" width="1.08" height="1.06" fill="#ffd9d9"/>
<rect x="75" y="3" width="1.08" height="1.06" fill="#ffd2d2"/>
<rect x="76" y="3" width="1.08" height="1.06" fill="#ffc7c7"/>
<rect x="77" y="3" width="1.08" height="1.06" fill="#ffb5b5"/>
<rect x="78" y="3" width="1.08" height="1.06" fill="#ffacac"/>
<rect x="79" y="3" width="1.08" height="1.06" fill="#ffaaaa"/>
<rect x="80" y="3" width="1.08" height="1.06" fill="#ffabab"/>
<rect x="81" y="3" width="1.08" height="1.06" fill="#ffb0b0"/>
<rect x="82" y="3" width="1.08" height="1.06" fill="#ffb1b1"/>
<rect x="83" y="3" width="1.08" height="1.06" fill="#ffbaba"/>
<rect x="84" y="3" width="1.08" height="1.06" fill="#ffc5c5"/>
<rect x="85" y="3" width="1.08" height="1.06" fill="#ffd2d2"/>
<rect x="86" y="3" width="1.08" height="1.06" fill="#ffdfdf"/>
<rect x="87" y="3" width="1.08" height="1.06" fill="#ffecec"/>
<rect x="88" y="3" width="1.08" height="1.06" fill="#fff5f5"/>
<rect x="89" y="3" width="1.08" height="1.06" fill="#ffffff"/>
<rect x="90" y="3" width="1.08" height="1.06" fill="#f5f5ff"/>
<rect x="91" y="3" width="1.08" height="1.06" fill="#efefff"/>
<rect x="92" y="3" width="2.08" height="1.06" fill="#ebebff"/>
<rect x="94" y="3" width="1.08" height="1.06" fill="#ececff"/>
<rect x="95" y="3" width="4.08" height="1.06" fill="#ebebff"/>
<rect x="-1" y="4" width="2.08" height="1.06" fill="#ffcccc"/>
<rect x="1" y="4" width="1.08" height="1.06" fill="#ffcece"/>
<rect x="2" y="4" width="1.08" height="1.06" fill="#ffd3d3"/>
<rect x="3" y="4" width="1.08" height="1.06" fill="#ffcdcd"/>
<rect x="4" y="4" width="1.08" height="1.06" fill="#ffbaba"/>
<rect x="5" y="4" width="1.08" height="1.06" fill="#ffb4b4"/>
<rect x="6" y="4" width="1.08" height="1.06" fill="#ffb2b2"/>
<rect x="7" y="4" width="1.08" height="1.06" fill="#ffbebe"/>
<rect x="8" y="4" width="1.08" height="1.06" fill="#ffc9c9"/>
<rect x="9" y="4" width="1.08" height="1.06" fill="#ffd5d5"/>
<rect x="10" y="4" width="1.08" height="1.06" fill="#ffe1e1"/>
<rect x="11" y="4" width="1.08" height="1.06" fill="#ffefef"/>
<rect x="12" y="4" width="1.08" height="1.06" fill="#fff6f6"/>
<rect x="13" y="4" width="2.08" height="1.06" fill="#fffafa"/>
<rect x="15" y="4" width="1.08" height="1.06" fill="#fff5f5"/>
<rect x="16" y="4" width="1.08" height="1.06" fill="#ffe9e9"/>
<rect x="17" y="4" width="1.08" height="1.06" fill="#ffdfdf"/>
<rect x="18" y="4" width="1.08" height="1.06" fill="#ffd1d1"/>
<rect x="19" y="4" width="1.08" height="1.06" fill="#ffc5c5"/>
<rect x="20" y="4" width="2.08" height="1.06" fill="#ffb2b2"/>
<rect x="22" y="4" width="1.08" height="1.06" fill="#ffa7a7"/>
<rect x="23" y="4" width="1.08" height="1.06" fill="#ff9a9a"/>
<rect x="24" y="4" width="1.08" height="1.06" fill="#ff8d8d"/>
<rect x="25" y="4" width="1.08" height="1.06" fill="#ff8c8c"/>
<rect x="26" y="4" width="1.08" height="1.06" fill="#ff9696"/>
<rect x="27" y="4" width="1.08" height="1.06" fill="#ff9999"/>
<rect x="28" y="4" width="1.08" height="1.06" fill="#ff9e9e"/>
<rect x="29" y="4" width="1.08" height="1.06" fill="#ffa8a8"/>
<rect x="30" y="4" width="1.08" height="1.06" fill="#ffb2b2"/>
<rect x="31" y="4" width="1.08" height="1.06" fill="#ffc3c3"/>
<rect x="32" y="4" width="1.08" height="1.06" fill="#ffdada"/>
<rect x="33" y="4" width="1.08" height="1.06" fill="#ffecec"/>
<rect x="34" y="4" width="1.08" height="1.06" fill="#fffafa"/>
<rect x="35" y="4" width="1.08" height="1.06" fill="#f5f5ff"/>
<rect x="36" y="4" width="1.08" height="1.06" fill="#e3e3ff"/>
<rect x="37" y="4" width="1.08" height="1.06" fill="#d7d7ff"/>
<rect x="38" y="4" width="1.08" height="1.06" fill="#e0e0ff"/>
<rect x="39" y="4" width="1.08" height="1.06" fill="#ebebff"/>
<rect x="40" y="4" width="1.08" height="1.06" fill="#f4f4ff"/>
<rect x="41" y="4" width="1.08" height="1.06" fill="#fefeff"/>
<rect x="42" y="4" width="1.08" height="1.06" fill="#fff5f5"/>
<rect x="43" y="4" width="1.08" height="1.06" fill="#ffe9e9"/>
<rect x="44" y="4" width="1.08" height="1.06" fill="#ffdede"/>
<rect x="45" y="4" width="1.08" height="1.06" fill="#ffd6d6"/>
<rect x="46" y="4" width="1.08" height="1.06" fill="#ffd2d2"/>
<rect x="47" y="4" width="1.08" height="1.06" fill="#ffc9c9"/>
<rect x="48" y="4" width="1.08" height="1.06" fill="#ffb9b9"/>
<rect x="49" y="4" width="1.08" height="1.06" fill="#ffa0a0"/>
<rect x="50" y="4" width="1.08" height="1.06" fill="#ff8383"/>
<rect x="51" y="4" width="1.08" height="1.06" fill="#ff6a6a"/>
<rect x="52" y="4" width="1.08" height="1.06" fill="#ff5b5b"/>
<rect x="53" y="4" width="1.08" height="1.06" fill="#ff6464"/>
<rect x="54" y="4" width="1.08" height="1.06" fill="#ff7171"/>
<rect x="55" y="4" width="1.08" height="1.06" fill="#ff7e7e"/>
<rect x="56" y="4" width="1.08" height="1.06" fill="#ff9797"/>
<rect x="57" y="4" width="1.08" height="1.06" fill="#ffadad"/>
<rect x="58" y="4" width="1.08" height="1.06" fill="#ffc3c3"/>
<rect x="59" y="4" width="1.08" height="1.06" fill="#ffd8d8"/>
<rect x="60" y="4" width="1.08" height="1.06" fill="#ffebeb"/>
<rect x="61" y="4" width="1.08" height="1.06" fill="#fffbfb"/>
<rect x="62" y="4" width="1.08" height="1.06" fill="#f6f6ff"/>
<rect x="63" y="4" width="1.08" height="1.06" fill="#eeeeff"/>
<rect x="64" y="4" width="1.08" height="1.06" fill="#ececff"/>
<rect x="65" y="4" width="1.08" height="1.06" fill="#f5f5ff"/>
<rect x="66" y="4" width="1.08" height="1.06" fill="#fffdfd"/>
<rect x="67" y="4" width="1.08" height="1.06" fill="#fff0f0"/>
<rect x="68" y="4" width="1.08" height="1.06" fill="#ffeded"/>
<rect x="69" y="4" width="1.08" height="1.06" fill="#ffebeb"/>
<rect x="70" y="4" width="1.08" height="1.06" fill="#ffecec"/>
<rect x="71" y="4" width="1.08" height="1.06" fill="#ffeded"/>
<rect x="72" y="4" width="1.08" height="1.06" fill="#ffe8e8"/>
<rect x="73" y="4" width="1.08" height="1.06" fill="#ffe1e1"/>
<rect x="74" y="4" width="1.08" height="1.06" fill="#ffd9d9"/>
<rect x="75" y="4" width="1.08" height="1.06" fill="#ffd2d2"/>
<rect x="76" y="4" width="1.08" height="1.06" fill="#ffc7c7"/>
<rect x="77" y="4" width="1.08" height="1.06" fill="#ffb5b5"/>
<rect x="78" y="4" width="1.08" height="1.06" fill="#ffacac"/>
<rect x="79" y="4" width="1.08" height="1.06" fill="#ffa6a6"/>
<rect x="80" y="4" width="2.08" height="1.06" fill="#ffa1a1"/>
<rect x="82" y="4" width="1.08" height="1.06" fill="#ffaaaa"/>
<rect x="83" y="4" width="1.08" height="1.06" fill="#ffb8b8"/>
<rect x="84" y="4" width="1.08" height="1.06" fill="#ffc5c5"/>
<rect x="85" y="4" width="1.08" height="1.06" fill="#ffd2d2"/>
<rect x="86" y="4" width="1.08" height="1.06" fill="#ffdfdf"/>
<rect x="87" y="4" width="1.08" height="1.06" fill="#ffecec"/>
<rect x="88" y="4" width="1.08" height="1.06" fill="#fff5f5"/>
<rect x="89" y="4" width="1.08" height="1.06" fill="#ffffff"/>
<rect x="90" y="4" width="1.08" height="1.06" fill="#f5f5ff"/>
<rect x="91" y="4" width="1.08" height="1.06" fill="#efefff"/>
<rect x="92" y="4" width="2.08" height="1.06" fill="#ebebff"/>
<rect x="94" y="4" width="1.08" height="1.06" fill="#f2f2ff"/>
<rect x="95" y="4" width="1.08" height="1.06" fill="#f8f8ff"/>
<rect x="96" y="4" width="3.08" height="1.06" fill="#fafaff"/>
<rect x="-1" y="5" width="3.08" height="1.06" fill="#ffcccc"/>
<rect x="2" y="5" width="1.08" height="1.06" fill="#ffcbcb"/>
<rect x="3" y="5" width="1.08" height="1.06" fill="#ffbebe"/>
<rect x="4" y="5" width="1.08" height="1.06" fill="#ffabab"/>
<rect x="5" y="5" width="1.08" height="1.06" fill="#ffa4a4"/>
<rect x="6" y="5" width="1.08" height="1.06" fill="#ffa5a5"/>
<rect x="7" y="5" width="1.08" height="1.06" fill="#ffb8b8"/>
<rect x="8" y="5" width="1.08" height="1.06" fill="#ffc9c9"/>
<rect x="9" y="5" width="1.08" height="1.06" fill="#ffd5d5"/>
<rect x="10" y="5" width="1.08" height="1.06" fill="#ffe1e1"/>
<rect x="11" y="5" width="1.08" height="1.06" fill="#ffefef"/>
<rect x="12" y="5" width="1.08" height="1.06" fill="#fff6f6"/>
<rect x="13" y="5" width="2.08" height="1.06" fill="#fffafa"/>
<rect x="15" y="5" width="1.08" height="1.06" fill="#fff5f5"/>
<rect x="16" y="5" width="1.08" height="1.06" fill="#ffeeee"/>
<rect x="17" y="5" width="1.08" height="1.06" fill="#ffeaea"/>
<rect x="18" y="5" width="1.08" height="1.06" fill="#ffdede"/>
<rect x="19" y="5" width="1.08" height="1.06" fill="#ffcccc"/>
<rect x="20" y="5" width="1.08" height="1.06" fill="#ffb3b3"/>
<rect x="21" y="5" width="1.08" height="1.06" fill="#ffb2b2"/>
<rect x="22" y="5" width="1.08" height="1.06" fill="#ffa7a7"/>
<rect x="23" y="5" width="1.08" height="1.06" fill="#ff9d9d"/>
<rect x="24" y="5" width="1.08" height="1.06" fill="#ff9696"/>
<rect x="25" y="5" width="1.08" height="1.06" fill="#ff9c9c"/>
<rect x="26" y="5" width="1.08" height="1.06" fill="#ff9f9f"/>
<rect x="27" y="5" width="1.08" height="1.06" fill="#ff9c9c"/>
<rect x="28" y="5" width="1.08" height="1.06" fill="#ff9e9e"/>
<rect x="29" y="5" width="1.08" height="1.06" fill="#ffa8a8"/>
<rect x="30" y="5" width="1.08" height="1.06" fill="#ffb2b2"/>
<rect x="31" y="5" width="1.08" height="1.06" fill="#ffc3c3"/>
<rect x="32" y="5" width="1.08" height="1.06" fill="#ffdada"/>
<rect x="33" y="5" width="1.08" height="1.06" fill="#ffecec"/>
<rect x="34" y="5" width="1.08" height="1.06" fill="#fffafa"/>
<rect x="35" y="5" width="1.08" height="1.06" fill="#f5f5ff"/>
<rect x="36" y="5" width="1.08" height="1.06" fill="#e3e3ff"/>
<rect x="37" y="5" width="1.08" height="1.06" fill="#d7d7ff"/>
<rect x="38" y="5" width="1.08" height="1.06" fill="#e0e0ff"/>
<rect x="39" y="5" width="1.08" height="1.06" fill="#ebebff"/>
<rect x="40" y="5" width="1.08" height="1.06" fill="#f4f4ff"/>
<rect x="41" y="5" width="1.08" height="1.06" fill="#fefeff"/>
<rect x="42" y="5" width="1.08" height="1.06" fill="#fff5f5"/>
<rect x="43" y="5" width="1.08" height="1.06" fill="#ffe9e9"/>
<rect x="44" y="5" width="1.08" height="1.06" fill="#ffdede"/>
<rect x="45" y="5" width="1.08" height="1.06" fill="#ffd3d3"/>
<rect x="46" y="5" width="1.08" height="1.06" fill="#ffc8c8"/>
<rect x="47" y="5" width="1.08" height="1.06" fill="#ffbbbb"/>
<rect x="48" y="5" width="1.08" height="1.06" fill="#ffb1b1"/>
<rect x="49" y="5" width="1.08" height="1.06" fill="#ff9e9e"/>
<rect x="50" y="5" width="1.08" height="1.06" fill="#ff8383"/>
<rect x="51" y="5" width="1.08" height="1.06" fill="#ff6a6a"/>
<rect x="52" y="5" width="1.08" height="1.06" fill="#ff5d5d"/>
<rect x="53" y="5" width="1.08" height="1.06" fill="#ff6c6c"/>
<rect x="54" y="5" width="1.08" height="1.06" fill="#ff7f7f"/>
<rect x="55" y="5" width="1.08" height="1.06" fill="#ff8888"/>
<rect x="56" y="5" width="1.08" height="1.06" fill="#ff9b9b"/>
<rect x="57" y="5" width="1.08" height="1.06" fill="#ffadad"/>
<rect x="58" y="5" width="1.08" height="1.06" fill="#ffc3c3"/>
<rect x="59" y="5" width="1.08" height="1.06" fill="#ffd8d8"/>
<rect x="60" y="5" width="1.08" height="1.06" fill="#fff1f1"/>
<rect x="61" y="5" width="1.08" height="1.06" fill="#f7f7ff"/>
<rect x="62" y="5" width="1.08" height="1.06" fill="#eaeaff"/>
<rect x="63" y="5" width="1.08" height="1.06" fill="#e9e9ff"/>
<rect x="64" y="5" width="1.08" height="1.06" fill="#ececff"/>
<rect x="65" y="5" width="1.08" height="1.06" fill="#f5f5ff"/>
<rect x="66" y="5" width="1.08" height="1.06" fill="#fffdfd"/>
<rect x="67" y="5" width="1.08" height="1.06" fill="#fff0f0"/>
<rect x="68" y="5" width="1.08" height="1.06" fill="#ffeded"/>
<rect x="69" y="5" width="1.08" height="1.06" fill="#ffebeb"/>
<rect x="70" y="5" width="1.08" height="1.06" fill="#ffecec"/>
<rect x="71" y="5" width="1.08" height="1.06" fill="#ffeded"/>
<rect x="72" y="5" width="1.08" height="1.06" fill="#ffe8e8"/>
<rect x="73" y="5" width="1.08" height="1.06" fill="#ffe1e1"/>
<rect x="74" y="5" width="1.08" height="1.06" fill="#ffd6d6"/>
<rect x="75" y="5" width="1.08" height="1.06" fill="#ffc9c9"/>
<rect x="76" y="5" width="1.08" height="1.06" fill="#ffb8b8"/>
<rect x="77" y="5" width="1.08" height="1.06" fill="#ffacac"/>
<rect x="78" y="5" width="1.08" height="1.06" fill="#ffa9a9"/>
<rect x="79" y="5" width="1.08" height="1.06" fill="#ffaaaa"/>
<rect x="80" y="5" width="1.08" height="1.06" fill="#ffabab"/>
<rect x="81" y="5" width="1.08" height="1.06" fill="#ffb0b0"/>
<rect x="82" y="5" width="1.08" height="1.06" fill="#ffb1b1"/>
<rect x="83" y="5" width="1.08" height="1.06" fill="#ffbaba"/>
<rect x="84" y="5" width="1.08" height="1.06" fill="#ffc5c5"/>
<rect x="85" y="5" width="1.08" height="1.06" fill="#ffd2d2"/>
<rect x="86" y="5" width="1.08" height="1.06" fill="#ffdfdf"/>
<rect x="87" y="5" width="1.08" height="1.06" fill="#ffecec"/>
<rect x="88" y="5" width="1.08" height="1.06" fill="#fff5f5"/>
<rect x="89" y="5" width="1.08" height="1.06" fill="#fff9f9"/>
<rect x="90" y="5" width="1.08" height="1.06" fill="#fffdfd"/>
<rect x="91" y="5" width="1.08" height="1.06" fill="#fefeff"/>
<rect x="92" y="5" width="2.08" height="1.06" fill="#fafaff"/>
<rect x="94" y="5" width="2.08" height="1.06" fill="#fbfbff"/>
<rect x="96" y="5" width="3.08" height="1.06" fill="#fafaff"/>
<rect x="-1" y="6" width="3.08" height="1.06" fill="#ffcccc"/>
<rect x="2" y="6" width="1.08" height="1.06" fill="#ffcbcb"/>
<rect x="3" y="6" width="1.08" height="1.06" fill="#ffbebe"/>
<rect x="4" y="6" width="2.08" height="1.06" fill="#ffb0b0"/>
<rect x="6" y="6" width="1.08" height="1.06" fill="#ffb2b2"/>
<rect x="7" y="6" width="1.08" height="1.06" fill="#ffbebe"/>
<rect x="8" y="6" width="1.08" height="1.06" fill="#ffc9c9"/>
<rect x="9" y="6" width="1.08" height="1.06" fill="#ffd5d5"/>
<rect x="10" y="6" width="1.08" height="1.06" fill="#ffe1e1"/>
<rect x="11" y="6" width="1.08" height="1.06" fill="#ffefef"/>
<rect x="12" y="6" width="1.08" height="1.06" fill="#fff6f6"/>
<rect x="13" y="6" width="2.08" height="1.06" fill="#fffafa"/>
<rect x="15" y="6" width="1.08" height="1.06" fill="#fff5f5"/>
<rect x="16" y="6" width="1.08" height="1.06" fill="#ffe9e9"/>
<rect x="17" y="6" width="1.08" height="1.06" fill="#ffdfdf"/>
<rect x="18" y="6" width="1.08" height="1.06" fill="#ffd1d1"/>
<rect x="19" y="6" width="1.08" height="1.06" fill="#ffc5c5"/>
<rect x="20" y="6" width="2.08" height="1.06" fill="#ffb2b2"/>
<rect x="22" y="6" width="1.08" height="1.06" fill="#ffa7a7"/>
<rect x="23" y="6" width="1.08" height="1.06" fill="#ff9a9a"/>
<rect x="24" y="6" width="1.08" height="1.06" fill="#ff8d8d"/>
<rect x="25" y="6" width="1.08" height="1.06" fill="#ff8c8c"/>
<rect x="26" y="6" width="1.08" height="1.06" fill="#ff9696"/>
<rect x="27" y="6" width="1.08" height="1.06" fill="#ff9999"/>
<rect x="28" y="6" width="1.08" height="1.06" fill="#ffa2a2"/>
<rect x="29" y="6" width="1.08" height="1.06" fill="#ffb1b1"/>
<rect x="30" y="6" width="1.08" height="1.06" fill="#ffc1c1"/>
<rect x="31" y="6" width="1.08" height="1.06" fill="#ffcaca"/>
<rect x="32" y="6" width="1.08" height="1.06" fill="#ffdcdc"/>
<rect x="33" y="6" width="1.08" height="1.06" fill="#ffecec"/>
<rect x="34" y="6" width="1.08" height="1.06" fill="#fffafa"/>
<rect x="35" y="6" width="1.08" height="1.06" fill="#f7f7ff"/>
<rect x="36" y="6" width="1.08" height="1.06" fill="#ebebff"/>
<rect x="37" y="6" width="1.08" height="1.06" fill="#e6e6ff"/>
<rect x="38" y="6" width="1.08" height="1.06" fill="#e9e9ff"/>
<rect x="39" y="6" width="1.08" height="1.06" fill="#efefff"/>
<rect x="40" y="6" width="1.08" height="1.06" fill="#f4f4ff"/>
<rect x="41" y="6" width="1.08" height="1.06" fill="#fefeff"/>
<rect x="42" y="6" width="1.08" height="1.06" fill="#fff5f5"/>
<rect x="43" y="6" width="1.08" height="1.06" fill="#ffe9e9"/>
<rect x="44" y="6" width="1.08" height="1.06" fill="#ffdede"/>
<rect x="45" y="6" width="1.08" height="1.06" fill="#ffd6d6"/>
<rect x="46" y="6" width="1.08" height="1.06" fill="#ffd2d2"/>
<rect x="47" y="6" width="1.08" height="1.06" fill="#ffc9c9"/>
<rect x="48" y="6" width="1.08" height="1.06" fill="#ffb9b9"/>
<rect x="49" y="6" width="1.08" height="1.06" fill="#ffa0a0"/>
<rect x="50" y="6" width="1.08" height="1.06" fill="#ff8383"/>
<rect x="51" y="6" width="1.08" height="1.06" fill="#ff6a6a"/>
<rect x="52" y="6" width="1.08" height="1.06" fill="#ff5b5b"/>
<rect x="53" y="6" width="1.08" height="1.06" fill="#ff6464"/>
<rect x="54" y="6" width="1.08" height="1.06" fill="#ff7171"/>
<rect x="55" y="6" width="1.08" height="1.06" fill="#ff7e7e"/>
<rect x="56" y="6" width="1.08" height="1.06" fill="#ff9797"/>
<rect x="57" y="6" width="1.08" height="1.06" fill="#ffadad"/>
<rect x="58" y="6" width="1.08" height="1.06" fill="#ffc3c3"/>
<rect x="59" y="6" width="1.08" height="1.06" fill="#ffd8d8"/>
<rect x="60" y="6" width="1.08" height="1.06" fill="#ffebeb"/>
<rect x="61" y="6" width="1.08" height="1.06" fill="#fffbfb"/>
<rect x="62" y="6" width="1.08" height="1.06" fill="#fafaff"/>
<rect x="63" y="6" width="1.08" height="1.06" fill="#f8f8ff"/>
<rect x="64" y="6" width="1.08" height="1.06" fill="#fafaff"/>
<rect x="65" y="6" width="1.08" height="1.06" fill="#fdfdff"/>
<rect x="66" y="6" width="1.08" height="1.06" fill="#fffbfb"/>
<rect x="67" y="6" width="1.08" height="1.06" fill="#fff0f0"/>
<rect x="68" y="6" width="1.08" height="1.06" fill="#ffeded"/>
<rect x="69" y="6" width="1.08" height="1.06" fill="#ffebeb"/>
<rect x="70" y="6" width="1.08" height="1.06" fill="#ffecec"/>
<rect x="71" y="6" width="1.08" height="1.06" fill="#ffeded"/>
<rect x="72" y="6" width="1.08" height="1.06" fill="#ffe8e8"/>
<rect x="73" y="6" width="1.08" height="1.06" fill="#ffe1e1"/>
<rect x="74" y="6" width="1.08" height="1.06" fill="#ffd9d9"/>
<rect x="75" y="6" width="1.08" height="1.06" fill="#ffd2d2"/>
<rect x="76" y="6" width="1.08" height="1.06" fill="#ffc7c7"/>
<rect x="77" y="6" width="1.08" height="1.06" fill="#ffb5b5"/>
<rect x="78" y="6" width="1.08" height="1.06" fill="#ffacac"/>
<rect x="79" y="6" width="1.08" height="1.06" fill="#ffa6a6"/>
<rect x="80" y="6" width="2.08" height="1.06" fill="#ffa1a1"/>
<rect x="82" y="6" width="1.08" height="1.06" fill="#ffaaaa"/>
<rect x="83" y="6" width="1.08" height="1.06" fill="#ffb8b8"/>
<rect x="84" y="6" width="1.08" height="1.06" fill="#ffc5c5"/>
<rect x="85" y="6" width="1.08" height="1.06" fill="#ffd2d2"/>
<rect x="86" y="6" width="1.08" height="1.06" fill="#ffdfdf"/>
<rect x="87" y="6" width="1.08" height="1.06" fill="#ffecec"/>
<rect x="88" y="6" width="1.08" height="1.06" fill="#fff5f5"/>
<rect x="89" y="6" width="1.08" height="1.06" fill="#fff9f9"/>
<rect x="90" y="6" width="1.08" height="1.06" fill="#fffdfd"/>
<rect x="91" y="6" width="1.08" height="1.06" fill="#fefeff"/>
<rect x="92" y="6" width="2.08" height="1.06" fill="#fafaff"/>
<rect x="94" y="6" width="2.08" height="1.06" fill="#fbfbff"/>
<rect x="96" y="6" width="3.08" height="1.06" fill="#fafaff"/>
<rect x="-1" y="7" width="3.08" height="1.06" fill="#ffcccc"/>
<rect x="2" y="7" width="1.08" height="1.06" fill="#ffcbcb"/>
<rect x="3" y="7" width="1.08" height="1.06" fill="#ffbebe"/>
<rect x="4" y="7" width="2.08" height="1.06" fill="#ffb0b0"/>
<rect x="6" y="7" width="1.08" height="1.06" fill="#ffb2b2"/>
<rect x="7" y="7" width="1.08" height="1.06" fill="#ffbebe"/>
<rect x="8" y="7" width="1.08" height="1.06" fill="#ffc9c9"/>
<rect x="9" y="7" width="1.08" height="1.06" fill="#ffd5d5"/>
<rect x="10" y="7" width="1.08" height="1.06" fill="#ffe1e1"/>
<rect x="11" y="7" width="1.08" height="1.06" fill="#ffefef"/>
<rect x="12" y="7" width="1.08" height="1.06" fill="#fff6f6"/>
<rect x="13" y="7" width="1.08" height="1.06" fill="#fff9f9"/>
<rect x="14" y="7" width="1.08" height="1.06" fill="#fff3f3"/>
<rect x="15" y="7" width="1.08" height="1.06" fill="#ffe7e7"/>
<rect x="16" y="7" width="1.08" height="1.06" fill="#ffdfdf"/>
<rect x="17" y="7" width="1.08" height="1.06" fill="#ffdbdb"/>
<rect x="18" y="7" width="1.08" height="1.06" fill="#ffd1d1"/>
<rect x="19" y="7" width="1.08" height="1.06" fill="#ffc5c5"/>
<rect x="20" y="7" width="2.08" height="1.06" fill="#ffb2b2"/>
<rect x="22" y="7" width="1.08" height="1.06" fill="#ffa7a7"/>
<rect x="23" y="7" width="1.08" height="1.06" fill="#ff9a9a"/>
<rect x="24" y="7" width="1.08" height="1.06" fill="#ff8d8d"/>
<rect x="25" y="7" width="1.08" height="1.06" fill="#ff8c8c"/>
<rect x="26" y="7" width="1.08" height="1.06" fill="#ff9696"/>
<rect x="27" y="7" width="1.08" height="1.06" fill="#ff9999"/>
<rect x="28" y="7" width="1.08" height="1.06" fill="#ffa2a2"/>
<rect x="29" y="7" width="1.08" height="1.06" fill="#ffb1b1"/>
<rect x="30" y="7" width="1.08" height="1.06" fill="#ffc2c2"/>
<rect x="31" y="7" width="1.08" height="1.06" fill="#ffd2d2"/>
<rect x="32" y="7" width="1.08" height="1.06" fill="#ffeaea"/>
<rect x="33" y="7" width="1.08" height="1.06" fill="#fff7f7"/>
<rect x="34" y="7" width="1.08" height="1.06" fill="#fffefe"/>
<rect x="35" y="7" width="1.08" height="1.06" fill="#f7f7ff"/>
<rect x="36" y="7" width="1.08" height="1.06" fill="#ebebff"/>
<rect x="37" y="7" width="1.08" height="1.06" fill="#e6e6ff"/>
<rect x="38" y="7" width="1.08" height="1.06" fill="#e9e9ff"/>
<rect x="39" y="7" width="1.08" height="1.06" fill="#efefff"/>
<rect x="40" y="7" width="1.08" height="1.06" fill="#f7f7ff"/>
<rect x="41" y="7" width="1.08" height="1.06" fill="#fff6f6"/>
<rect x="42" y="7" width="1.08" height="1.06" fill="#ffe5e5"/>
<rect x="43" y="7" width="1.08" height="1.06" fill="#ffe0e0"/>
<rect x="44" y="7" width="1.08" height="1.06" fill="#ffdbdb"/>
<rect x="45" y="7" width="1.08" height="1.06" fill="#ffd6d6"/>
<rect x="46" y="7" width="1.08" height="1.06" fill="#ffd2d2"/>
<rect x="47" y="7" width="1.08" height="1.06" fill="#ffc9c9"/>
<rect x="48" y="7" width="1.08" height="1.06" fill="#ffb9b9"/>
<rect x="49" y="7" width="1.08" height="1.06" fill="#ffa0a0"/>
<rect x="50" y="7" width="1.08" height="1.06" fill="#ff8383"/>
<rect x="51" y="7" width="1.08" height="1.06" fill="#ff6a6a"/>
<rect x="52" y="7" width="1.08" height="1.06" fill="#ff5b5b"/>
<rect x="53" y="7" width="1.08" height="1.06" fill="#ff6464"/>
<rect x="54" y="7" width="1.08" height="1.06" fill="#ff7171"/>
<rect x="55" y="7" width="1.08" height="1.06" fill="#ff7e7e"/>
<rect x="56" y="7" width="1.08" height="1.06" fill="#ff9797"/>
<rect x="57" y="7" width="1.08" height="1.06" fill="#ffadad"/>
<rect x="58" y="7" width="1.08" height="1.06" fill="#ffc3c3"/>
<rect x="59" y="7" width="1.08" height="1.06" fill="#ffd8d8"/>
<rect x="60" y="7" width="1.08" height="1.06" fill="#ffebeb"/>
<rect x="61" y="7" width="1.08" height="1.06" fill="#fffbfb"/>
<rect x="62" y="7" width="1.08" height="1.06" fill="#fafaff"/>
<rect x="63" y="7" width="1.08" height="1.06" fill="#f8f8ff"/>
<rect x="64" y="7" width="1.08" height="1.06" fill="#fbfbff"/>
<rect x="65" y="7" width="1.08" height="1.06" fill="#fffafa"/>
<rect x="66" y="7" width="1.08" height="1.06" fill="#ffeded"/>
<rect x="67" y="7" width="1.08" height="1.06" fill="#ffe5e5"/>
<rect x="68" y="7" width="1.08" height="1.06" fill="#ffe8e8"/>
<rect x="69" y="7" width="1.08" height="1.06" fill="#ffe9e9"/>
<rect x="70" y="7" width="1.08" height="1.06" fill="#ffe4e4"/>
<rect x="71" y="7" width="1.08" height="1.06" fill="#ffdede"/>
<rect x="72" y="7" width="1.08" height="1.06" fill="#ffe3e3"/>
<rect x="73" y="7" width="1.08" height="1.06" fill="#ffeaea"/>
<rect x="74" y="7" width="1.08" height="1.06" fill="#ffe6e6"/>
<rect x="75" y="7" width="1.08" height="1.06" fill="#ffd8d8"/>
<rect x="76" y="7" width="1.08" height="1.06" fill="#ffc7c7"/>
<rect x="77" y="7" width="1.08" height="1.06" fill="#ffb5b5"/>
<rect x="78" y="7" width="1.08" height="1.06" fill="#ffacac"/>
<rect x="79" y="7" width="1.08" height="1.06" fill="#ffa6a6"/>
<rect x="80" y="7" width="1.08" height="1.06" fill="#ffa1a1"/>
<rect x="81" y="7" width="1.08" height="1.06" fill="#ffa0a0"/>
<rect x="82" y="7" width="1.08" height="1.06" fill="#ffa2a2"/>
<rect x="83" y="7" width="1.08" height="1.06" fill="#ffaaaa"/>
<rect x="84" y="7" width="1.08" height="1.06" fill="#ffbaba"/>
<rect x="85" y="7" width="1.08" height="1.06" fill="#ffcece"/>
<rect x="86" y="7" width="1.08" height="1.06" fill="#ffdfdf"/>
<rect x="87" y="7" width="1.08" height="1.06" fill="#ffecec"/>
<rect x="88" y="7" width="1.08" height="1.06" fill="#fff5f5"/>
<rect x="89" y="7" width="1.08" height="1.06" fill="#fff9f9"/>
<rect x="90" y="7" width="1.08" height="1.06" fill="#fffdfd"/>
<rect x="91" y="7" width="1.08" height="1.06" fill="#fefeff"/>
<rect x="92" y="7" width="2.08" height="1.06" fill="#fafaff"/>
<rect x="94" y="7" width="2.08" height="1.06" fill="#fbfbff"/>
<rect x="96" y="7" width="3.08" height="1.06" fill="#fafaff"/>
<rect x="-1" y="8" width="3.08" height="1.06" fill="#ffcccc"/>
<rect x="2" y="8" width="1.08" height="1.06" fill="#ffcbcb"/>
<rect x="3" y="8" width="1.08" height="1.06" fill="#ffbebe"/>
<rect x="4" y="8" width="2.08" height="1.06" fill="#ffb0b0"/>
<rect x="6" y="8" width="1.08" height="1.06" fill="#ffb5b5"/>
<rect x="7" y="8" width="1.08" height="1.06" fill="#ffc7c7"/>
<rect x="8" y="8" width="1.08" height="1.06" fill="#ffd9d9"/>
<rect x="9" y="8" width="1.08" height="1.06" fill="#ffe4e4"/>
<rect x="10" y="8" width="1.08" height="1.06" fill="#fff0f0"/>
<rect x="11" y="8" width="1.08" height="1.06" fill="#fff7f7"/>
<rect x="12" y="8" width="1.08" height="1.06" fill="#fff2f2"/>
<rect x="13" y="8" width="2.08" height="1.06" fill="#ffebeb"/>
<rect x="15" y="8" width="1.08" height="1.06" fill="#ffe5e5"/>
<rect x="16" y="8" width="1.08" height="1.06" fill="#ffdfdf"/>
<rect x="17" y="8" width="1.08" height="1.06" fill="#ffdbdb"/>
<rect x="18" y="8" width="1.08" height="1.06" fill="#ffd1d1"/>
<rect x="19" y="8" width="1.08" height="1.06" fill="#ffc5c5"/>
<rect x="20" y="8" width="2.08" height="1.06" fill="#ffb2b2"/>
<rect x="22" y="8" width="1.08" height="1.06" fill="#ffa7a7"/>
<rect x="23" y="8" width="1.08" height="1.06" fill="#ff9a9a"/>
<rect x="24" y="8" width="1.08" height="1.06" fill="#ff8d8d"/>
<rect x="25" y="8" width="1.08" height="1.06" fill="#ff8c8c"/>
<rect x="26" y="8" width="1.08" height="1.06" fill="#ff9696"/>
<rect x="27" y="8" width="1.08" height="1.06" fill="#ff9999"/>
<rect x="28" y="8" width="1.08" height="1.06" fill="#ffa2a2"/>
<rect x="29" y="8" width="1.08" height="1.06" fill="#ffb1b1"/>
<rect x="30" y="8" width="1.08" height="1.06" fill="#ffc1c1"/>
<rect x="31" y="8" width="1.08" height="1.06" fill="#ffcaca"/>
<rect x="32" y="8" width="1.08" height="1.06" fill="#ffdcdc"/>
<rect x="33" y="8" width="1.08" height="1.06" fill="#ffecec"/>
<rect x="34" y="8" width="1.08" height="1.06" fill="#fffafa"/>
<rect x="35" y="8" width="1.08" height="1.06" fill="#f7f7ff"/>
<rect x="36" y="8" width="1.08" height="1.06" fill="#ebebff"/>
<rect x="37" y="8" width="1.08" height="1.06" fill="#e6e6ff"/>
<rect x="38" y="8" width="1.08" height="1.06" fill="#e9e9ff"/>
<rect x="39" y="8" width="1.08" height="1.06" fill="#efefff"/>
<rect x="40" y="8" width="1.08" height="1.06" fill="#f7f7ff"/>
<rect x="41" y="8" width="1.08" height="1.06" fill="#fff6f6"/>
<rect x="42" y="8" width="1.08" height="1.06" fill="#ffe5e5"/>
<rect x="43" y="8" width="1.08" height="1.06" fill="#ffe0e0"/>
<rect x="44" y="8" width="1.08" height="1.06" fill="#ffdbdb"/>
<rect x="45" y="8" width="1.08" height="1.06" fill="#ffd6d6"/>
<rect x="46" y="8" width="1.08" height="1.06" fill="#ffd2d2"/>
<rect x="47" y="8" width="1.08" height="1.06" fill="#ffc9c9"/>
<rect x="48" y="8" width="1.08" height="1.06" fill="#ffb9b9"/>
<rect x="49" y="8" width="1.08" height="1.06" fill="#ffa0a0"/>
<rect x="50" y="8" width="1.08" height="1.06" fill="#ff8383"/>
<rect x="51" y="8" width="1.08" height="1.06" fill="#ff6a6a"/>
<rect x="52" y="8" width="1.08" height="1.06" fill="#ff5b5b"/>
<rect x="53" y="8" width="1.08" height="1.06" fill="#ff6464"/>
<rect x="54" y="8" width="1.08" height="1.06" fill="#ff7171"/>
<rect x="55" y="8" width="1.08" height="1.06" fill="#ff7e7e"/>
<rect x="56" y="8" width="1.08" height="1.06" fill="#ff9797"/>
<rect x="57" y="8" width="1.08" height="1.06" fill="#ffadad"/>
<rect x="58" y="8" width="1.08" height="1.06" fill="#ffc3c3"/>
<rect x="59" y="8" width="1.08" height="1.06" fill="#ffd8d8"/>
<rect x="60" y="8" width="1.08" height="1.06" fill="#ffebeb"/>
<rect x="61" y="8" width="1.08" height="1.06" fill="#fffbfb"/>
<rect x="62" y="8" width="1.08" height="1.06" fill="#fafaff"/>
<rect x="63" y="8" width="1.08" height="1.06" fill="#f8f8ff"/>
<rect x="64" y="8" width="1.08" height="1.06" fill="#fbfbff"/>
<rect x="65" y="8" width="1.08" height="1.06" fill="#fffafa"/>
<rect x="66" y="8" width="1.08" height="1.06" fill="#ffeded"/>
<rect x="67" y="8" width="1.08" height="1.06" fill="#ffe1e1"/>
<rect x="68" y="8" width="1.08" height="1.06" fill="#ffdede"/>
<rect x="69" y="8" width="1.08" height="1.06" fill="#ffdcdc"/>
<rect x="70" y="8" width="1.08" height="1.06" fill="#ffdddd"/>
<rect x="71" y="8" width="1.08" height="1.06" fill="#ffdede"/>
<rect x="72" y="8" width="1.08" height="1.06" fill="#ffe3e3"/>
<rect x="73" y="8" width="1.08" height="1.06" fill="#ffeaea"/>
<rect x="74" y="8" width="1.08" height="1.06" fill="#ffe6e6"/>
<rect x="75" y="8" width="1.08" height="1.06" fill="#ffd8d8"/>
<rect x="76" y="8" width="1.08" height="1.06" fill="#ffc7c7"/>
<rect x="77" y="8" width="1.08" height="1.06" fill="#ffb5b5"/>
<rect x="78" y="8" width="1.08" height="1.06" fill="#ffacac"/>
<rect x="79" y="8" width="1.08" height="1.06" fill="#ffa6a6"/>
<rect x="80" y="8" width="1.08" height="1.06" fill="#ffa1a1"/>
<rect x="81" y="8" width="1.08" height="1.06" fill="#ffa0a0"/>
<rect x="82" y="8" width="1.08" height="1.06" fill="#ffa2a2"/>
<rect x="83" y="8" width="1.08" height="1.06" fill="#ffaaaa"/>
<rect x="84" y="8" width="1.08" height="1.06" fill="#ffbaba"/>
<rect x="85" y="8" width="1.08" height="1.06" fill="#ffcece"/>
<rect x="86" y="8" width="1.08" height="1.06" fill="#ffdfdf"/>
<rect x="87" y="8" width="1.08" height="1.06" fill="#ffecec"/>
<rect x="88" y="8" width="1.08" height="1.06" fill="#fff5f5"/>
<rect x="89" y="8" width="1.08" height="1.06" fill="#fff9f9"/>
<rect x="90" y="8" width="1.08" height="1.06" fill="#fffdfd"/>
<rect x="91" y="8" width="1.08" height="1.06" fill="#fefeff"/>
<rect x="92" y="8" width="2.08" height="1.06" fill="#fafaff"/>
<rect x="94" y="8" width="2.08" height="1.06" fill="#fbfbff"/>
<rect x="96" y="8" width="3.08" height="1.06" fill="#fafaff"/>
<rect x="-1" y="9" width="3.08" height="1.06" fill="#ffcccc"/>
<rect x="2" y="9" width="1.08" height="1.06" fill="#ffcbcb"/>
<rect x="3" y="9" width="1.08" height="1.06" fill="#ffbebe"/>
<rect x="4" y="9" width="2.08" height="1.06" fill="#ffb0b0"/>
<rect x="6" y="9" width="1.08" height="1.06" fill="#ffb2b2"/>
<rect x="7" y="9" width="1.08" height="1.06" fill="#ffbebe"/>
<rect x="8" y="9" width="1.08" height="1.06" fill="#ffc9c9"/>
<rect x="9" y="9" width="1.08" height="1.06" fill="#ffd5d5"/>
<rect x="10" y="9" width="1.08" height="1.06" fill="#ffe1e1"/>
<rect x="11" y="9" width="1.08" height="1.06" fill="#ffebeb"/>
<rect x="12" y="9" width="1.08" height="1.06" fill="#ffecec"/>
<rect x="13" y="9" width="2.08" height="1.06" fill="#ffebeb"/>
<rect x="15" y="9" width="1.08" height="1.06" fill="#ffe5e5"/>
<rect x="16" y="9" width="1.08" height="1.06" fill="#ffdfdf"/>
<rect x="17" y="9" width="1.08" height="1.06" fill="#ffdbdb"/>
<rect x="18" y="9" width="1.08" height="1.06" fill="#ffd1d1"/>
<rect x="19" y="9" width="1.08" height="1.06" fill="#ffc5c5"/>
<rect x="20" y="9" width="2.08" height="1.06" fill="#ffb2b2"/>
<rect x="22" y="9" width="1.08" height="1.06" fill="#ffa7a7"/>
<rect x="23" y="9" width="1.08" height="1.06" fill="#ff9a9a"/>
<rect x="24" y="9" width="1.08" height="1.06" fill="#ff8d8d"/>
<rect x="25" y="9" width="1.08" height="1.06" fill="#ff8c8c"/>
<rect x="26" y="9" width="1.08" height="1.06" fill="#ff9696"/>
<rect x="27" y="9" width="1.08" height="1.06" fill="#ff9999"/>
<rect x="28" y="9" width="1.08" height="1.06" fill="#ff9e9e"/>
<rect x="29" y="9" width="1.08" height="1.06" fill="#ffa8a8"/>
<rect x="30" y="9" width="1.08" height="1.06" fill="#ffb2b2"/>
<rect x="31" y="9" width="1.08" height="1.06" fill="#ffc3c3"/>
<rect x="32" y="9" width="1.08" height="1.06" fill="#ffdada"/>
<rect x="33" y="9" width="1.08" height="1.06" fill="#ffecec"/>
<rect x="34" y="9" width="1.08" height="1.06" fill="#fffafa"/>
<rect x="35" y="9" width="1.08" height="1.06" fill="#f7f7ff"/>
<rect x="36" y="9" width="1.08" height="1.06" fill="#ebebff"/>
<rect x="37" y="9" width="1.08" height="1.06" fill="#e6e6ff"/>
<rect x="38" y="9" width="1.08" height="1.06" fill="#efefff"/>
<rect x="39" y="9" width="1.08" height="1.06" fill="#fbfbff"/>
<rect x="40" y="9" width="1.08" height="1.06" fill="#fffbfb"/>
<rect x="41" y="9" width="1.08" height="1.06" fill="#fff0f0"/>
<rect x="42" y="9" width="1.08" height="1.06" fill="#ffe5e5"/>
<rect x="43" y="9" width="1.08" height="1.06" fill="#ffe0e0"/>
<rect x="44" y="9" width="1.08" height="1.06" fill="#ffdbdb"/>
<rect x="45" y="9" width="1.08" height="1.06" fill="#ffd6d6"/>
<rect x="46" y="9" width="1.08" height="1.06" fill="#ffd2d2"/>
<rect x="47" y="9" width="1.08" height="1.06" fill="#ffc9c9"/>
<rect x="48" y="9" width="1.08" height="1.06" fill="#ffb9b9"/>
<rect x="49" y="9" width="1.08" height="1.06" fill="#ffa0a0"/>
<rect x="50" y="9" width="1.08" height="1.06" fill="#ff8383"/>
<rect x="51" y="9" width="1.08" height="1.06" fill="#ff6a6a"/>
<rect x="52" y="9" width="1.08" height="1.06" fill="#ff5b5b"/>
<rect x="53" y="9" width="1.08" height="1.06" fill="#ff6464"/>
<rect x="54" y="9" width="1.08" height="1.06" fill="#ff7171"/>
<rect x="55" y="9" width="1.08" height="1.06" fill="#ff7e7e"/>
<rect x="56" y="9" width="1.08" height="1.06" fill="#ff9797"/>
<rect x="57" y="9" width="1.08" height="1.06" fill="#ffadad"/>
<rect x="58" y="9" width="1.08" height="1.06" fill="#ffc3c3"/>
<rect x="59" y="9" width="1.08" height="1.06" fill="#ffd8d8"/>
<rect x="60" y="9" width="1.08" height="1.06" fill="#fff1f1"/>
<rect x="61" y="9" width="1.08" height="1.06" fill="#f7f7ff"/>
<rect x="62" y="9" width="1.08" height="1.06" fill="#eeeeff"/>
<rect x="63" y="9" width="1.08" height="1.06" fill="#f3f3ff"/>
<rect x="64" y="9" width="1.08" height="1.06" fill="#fbfbff"/>
<rect x="65" y="9" width="1.08" height="1.06" fill="#fffafa"/>
<rect x="66" y="9" width="1.08" height="1.06" fill="#ffeded"/>
<rect x="67" y="9" width="1.08" height="1.06" fill="#ffe1e1"/>
<rect x="68" y="9" width="1.08" height="1.06" fill="#ffdede"/>
<rect x="69" y="9" width="1.08" height="1.06" fill="#ffdcdc"/>
<rect x="70" y="9" width="1.08" height="1.06" fill="#ffdddd"/>
<rect x="71" y="9" width="1.08" height="1.06" fill="#ffdede"/>
<rect x="72" y="9" width="1.08" height="1.06" fill="#ffe3e3"/>
<rect x="73" y="9" width="1.08" height="1.06" fill="#ffeaea"/>
<rect x="74" y="9" width="1.08" height="1.06" fill="#ffe6e6"/>
<rect x="75" y="9" width="1.08" height="1.06" fill="#ffd8d8"/>
<rect x="76" y="9" width="1.08" height="1.06" fill="#ffc7c7"/>
<rect x="77" y="9" width="1.08" height="1.06" fill="#ffb5b5"/>
<rect x="78" y="9" width="1.08" height="1.06" fill="#ffacac"/>
<rect x="79" y="9" width="1.08" height="1.06" fill="#ffa6a6"/>
<rect x="80" y="9" width="1.08" height="1.06" fill="#ffa1a1"/>
<rect x="81" y="9" width="1.08" height="1.06" fill="#ffa0a0"/>
<rect x="82" y="9" width="1.08" height="1.06" fill="#ffa2a2"/>
<rect x="83" y="9" width="1.08" height="1.06" fill="#ffaaaa"/>
<rect x="84" y="9" width="1.08" height="1.06" fill="#ffbaba"/>
<rect x="85" y="9" width="1.08" height="1.06" fill="#ffcece"/>
<rect x="86" y="9" width="1.08" height="1.06" fill="#ffdfdf"/>
<rect x="87" y="9" width="1.08" height="1.06" fill="#ffecec"/>
<rect x="88" y="9" width="1.08" height="1.06" fill="#fff5f5"/>
<rect x="89" y="9" width="1.08" height="1.06" fill="#fff9f9"/>
<rect x="90" y="9" width="1.08" height="1.06" fill="#fffdfd"/>
<rect x="91" y="9" width="1.08" height="1.06" fill="#fefeff"/>
<rect x="92" y="9" width="2.08" height="1.06" fill="#fafaff"/>
<rect x="94" y="9" width="1.08" height="1.06" fill="#f5f5ff"/>
<rect x="95" y="9" width="1.08" height="1.06" fill="#eeeeff"/>
<rect x="96" y="9" width="3.08" height="1.06" fill="#ebebff"/>
<rect x="-1" y="10" width="2.08" height="1.06" fill="#ffcccc"/>
<rect x="1" y="10" width="1.08" height="1.06" fill="#ffcece"/>
<rect x="2" y="10" width="1.08" height="1.06" fill="#ffd3d3"/>
<rect x="3" y="10" width="1.08" height="1.06" fill="#ffcdcd"/>
<rect x="4" y="10" width="3.08" height="1.06" fill="#ffbfbf"/>
<rect x="7" y="10" width="1.08" height="1.06" fill="#ffc4c4"/>
<rect x="8" y="10" width="1.08" height="1.06" fill="#ffc9c9"/>
<rect x="9" y="10" width="1.08" height="1.06" fill="#ffd5d5"/>
<rect x="10" y="10" width="1.08" height="1.06" fill="#ffe1e1"/>
<rect x="11" y="10" width="1.08" height="1.06" fill="#ffefef"/>
<rect x="12" y="10" width="1.08" height="1.06" fill="#fff6f6"/>
<rect x="13" y="10" width="2.08" height="1.06" fill="#fffafa"/>
<rect x="15" y="10" width="1.08" height="1.06" fill="#fff5f5"/>
<rect x="16" y="10" width="1.08" height="1.06" fill="#ffeeee"/>
<rect x="17" y="10" width="1.08" height="1.06" fill="#ffeaea"/>
<rect x="18" y="10" width="1.08" height="1.06" fill="#ffdede"/>
<rect x="19" y="10" width="1.08" height="1.06" fill="#ffcccc"/>
<rect x="20" y="10" width="1.08" height="1.06" fill="#ffb3b3"/>
<rect x="21" y="10" width="1.08" height="1.06" fill="#ffb2b2"/>
<rect x="22" y="10" width="1.08" height="1.06" fill="#ffa7a7"/>
<rect x="23" y="10" width="1.08" height="1.06" fill="#ff9a9a"/>
<rect x="24" y="10" width="1.08" height="1.06" fill="#ff8d8d"/>
<rect x="25" y="10" width="1.08" height="1.06" fill="#ff8c8c"/>
<rect x="26" y="10" width="1.08" height="1.06" fill="#ff9696"/>
<rect x="27" y="10" width="1.08" height="1.06" fill="#ff9999"/>
<rect x="28" y="10" width="1.08" height="1.06" fill="#ff9e9e"/>
<rect x="29" y="10" width="1.08" height="1.06" fill="#ffa8a8"/>
<rect x="30" y="10" width="1.08" height="1.06" fill="#ffb2b2"/>
<rect x="31" y="10" width="1.08" height="1.06" fill="#ffc3c3"/>
<rect x="32" y="10" width="1.08" height="1.06" fill="#ffdada"/>
<rect x="33" y="10" width="1.08" height="1.06" fill="#ffecec"/>
<rect x="34" y="10" width="1.08" height="1.06" fill="#fffafa"/>
<rect x="35" y="10" width="1.08" height="1.06" fill="#f7f7ff"/>
<rect x="36" y="10" width="1.08" height="1.06" fill="#ebebff"/>
<rect x="37" y="10" width="1.08" height="1.06" fill="#e6e6ff"/>
<rect x="38" y="10" width="1.08" height="1.06" fill="#efefff"/>
<rect x="39" y="10" width="1.08" height="1.06" fill="#fbfbff"/>
<rect x="40" y="10" width="1.08" height="1.06" fill="#fffbfb"/>
<rect x="41" y="10" width="1.08" height="1.06" fill="#fff0f0"/>
<rect x="42" y="10" width="1.08" height="1.06" fill="#ffe5e5"/>
<rect x="43" y="10" width="1.08" height="1.06" fill="#ffe0e0"/>
<rect x="44" y="10" width="1.08" height="1.06" fill="#ffdbdb"/>
<rect x="45" y="10" width="1.08" height="1.06" fill="#ffd3d3"/>
<rect x="46" y="10" width="1.08" height="1.06" fill="#ffc8c8"/>
<rect x="47" y="10" width="1.08" height="1.06" fill="#ffbbbb"/>
<rect x="48" y="10" width="1.08" height="1.06" fill="#ffb1b1"/>
<rect x="49" y="10" width="1.08" height="1.06" fill="#ff9e9e"/>
<rect x="50" y="10" width="1.08" height="1.06" fill="#ff8383"/>
<rect x="51" y="10" width="1.08" height="1.06" fill="#ff6a6a"/>
<rect x="52" y="10" width="1.08" height="1.06" fill="#ff5b5b"/>
<rect x="53" y="10" width="1.08" height="1.06" fill="#ff6464"/>
<rect x="54" y="10" width="1.08" height="1.06" fill="#ff7171"/>
<rect x="55" y="10" width="1.08" height="1.06" fill="#ff7e7e"/>
<rect x="56" y="10" width="1.08" height="1.06" fill="#ff9797"/>
<rect x="57" y="10" width="1.08" height="1.06" fill="#ffb0b0"/>
<rect x="58" y="10" width="1.08" height="1.06" fill="#ffcccc"/>
<rect x="59" y="10" width="1.08" height="1.06" fill="#ffe7e7"/>
<rect x="60" y="10" width="1.08" height="1.06" fill="#fffafa"/>
<rect x="61" y="10" width="1.08" height="1.06" fill="#f4f4ff"/>
<rect x="62" y="10" width="1.08" height="1.06" fill="#eeeeff"/>
<rect x="63" y="10" width="1.08" height="1.06" fill="#f3f3ff"/>
<rect x="64" y="10" width="1.08" height="1.06" fill="#fbfbff"/>
<rect x="65" y="10" width="1.08" height="1.06" fill="#fffafa"/>
<rect x="66" y="10" width="1.08" height="1.06" fill="#ffeded"/>
<rect x="67" y="10" width="1.08" height="1.06" fill="#ffe5e5"/>
<rect x="68" y="10" width="1.08" height="1.06" fill="#ffe8e8"/>
<rect x="69" y="10" width="1.08" height="1.06" fill="#ffebeb"/>
<rect x="70" y="10" width="1.08" height="1.06" fill="#ffecec"/>
<rect x="71" y="10" width="3.08" height="1.06" fill="#ffeded"/>
<rect x="74" y="10" width="1.08" height="1.06" fill="#ffe6e6"/>
<rect x="75" y="10" width="1.08" height="1.06" fill="#ffd8d8"/>
<rect x="76" y="10" width="1.08" height="1.06" fill="#ffc7c7"/>
<rect x="77" y="10" width="1.08" height="1.06" fill="#ffb5b5"/>
<rect x="78" y="10" width="1.08" height="1.06" fill="#ffacac"/>
<rect x="79" y="10" width="1.08" height="1.06" fill="#ffa6a6"/>
<rect x="80" y="10" width="2.08" height="1.06" fill="#ffa1a1"/>
<rect x="82" y="10" width="1.08" height="1.06" fill="#ffaaaa"/>
<rect x="83" y="10" width="1.08" height="1.06" fill="#ffb8b8"/>
<rect x="84" y="10" width="1.08" height="1.06" fill="#ffc5c5"/>
<rect x="85" y="10" width="1.08" height="1.06" fill="#ffd2d2"/>
<rect x="86" y="10" width="1.08" height="1.06" fill="#ffdfdf"/>
<rect x="87" y="10" width="1.08" height="1.06" fill="#ffecec"/>
<rect x="88" y="10" width="1.08" height="1.06" fill="#fff5f5"/>
<rect x="89" y="10" width="1.08" height="1.06" fill="#fff9f9"/>
<rect x="90" y="10" width="1.08" height="1.06" fill="#fffdfd"/>
<rect x="91" y="10" width="1.08" height="1.06" fill="#fefeff"/>
<rect x="92" y="10" width="2.08" height="1.06" fill="#fafaff"/>
<rect x="94" y="10" width="2.08" height="1.06" fill="#fbfbff"/>
<rect x="96" y="10" width="3.08" height="1.06" fill="#fafaff"/>
<rect x="-1" y="11" width="3.08" height="1.06" fill="#ffcccc"/>
<rect x="2" y="11" width="1.08" height="1.06" fill="#ffcbcb"/>
<rect x="3" y="11" width="1.08" height="1.06" fill="#ffbebe"/>
<rect x="4" y="11" width="2.08" height="1.06" fill="#ffb0b0"/>
<rect x="6" y="11" width="1.08" height="1.06" fill="#ffb2b2"/>
<rect x="7" y="11" width="1.08" height="1.06" fill="#ffbebe"/>
<rect x="8" y="11" width="1.08" height="1.06" fill="#ffc9c9"/>
<rect x="9" y="11" width="1.08" height="1.06" fill="#ffd5d5"/>
<rect x="10" y="11" width="1.08" height="1.06" fill="#ffe1e1"/>
<rect x="11" y="11" width="1.08" height="1.06" fill="#ffebeb"/>
<rect x="12" y="11" width="2.08" height="1.06" fill="#ffecec"/>
<rect x="14" y="11" width="1.08" height="1.06" fill="#fff2f2"/>
<rect x="15" y="11" width="1.08" height="1.06" fill="#fff3f3"/>
<rect x="16" y="11" width="1.08" height="1.06" fill="#ffeeee"/>
<rect x="17" y="11" width="1.08" height="1.06" fill="#ffeaea"/>
<rect x="18" y="11" width="1.08" height="1.06" fill="#ffdede"/>
<rect x="19" y="11" width="1.08" height="1.06" fill="#ffcccc"/>
<rect x="20" y="11" width="1.08" height="1.06" fill="#ffb3b3"/>
<rect x="21" y="11" width="1.08" height="1.06" fill="#ffb2b2"/>
<rect x="22" y="11" width="1.08" height="1.06" fill="#ffa7a7"/>
<rect x="23" y="11" width="1.08" height="1.06" fill="#ff9a9a"/>
<rect x="24" y="11" width="1.08" height="1.06" fill="#ff8d8d"/>
<rect x="25" y="11" width="1.08" height="1.06" fill="#ff8c8c"/>
<rect x="26" y="11" width="1.08" height="1.06" fill="#ff9696"/>
<rect x="27" y="11" width="1.08" height="1.06" fill="#ff9999"/>
<rect x="28" y="11" width="1.08" height="1.06" fill="#ff9e9e"/>
<rect x="29" y="11" width="1.08" height="1.06" fill="#ffa8a8"/>
<rect x="30" y="11" width="1.08" height="1.06" fill="#ffb2b2"/>
<rect x="31" y="11" width="1.08" height="1.06" fill="#ffc3c3"/>
<rect x="32" y="11" width="1.08" height="1.06" fill="#ffdada"/>
<rect x="33" y="11" width="1.08" height="1.06" fill="#ffecec"/>
<rect x="34" y="11" width="1.08" height="1.06" fill="#fffafa"/>
<rect x="35" y="11" width="1.08" height="1.06" fill="#f7f7ff"/>
<rect x="36" y="11" width="1.08" height="1.06" fill="#ebebff"/>
<rect x="37" y="11" width="1.08" height="1.06" fill="#e6e6ff"/>
<rect x="38" y="11" width="1.08" height="1.06" fill="#efefff"/>
<rect x="39" y="11" width="1.08" height="1.06" fill="#fbfbff"/>
<rect x="40" y="11" width="1.08" height="1.06" fill="#fffbfb"/>
<rect x="41" y="11" width="1.08" height="1.06" fill="#fff0f0"/>
<rect x="42" y="11" width="1.08" height="1.06" fill="#ffe5e5"/>
<rect x="43" y="11" width="1.08" height="1.06" fill="#ffe0e0"/>
<rect x="44" y="11" width="1.08" height="1.06" fill="#ffdbdb"/>
<rect x="45" y="11" width="1.08" height="1.06" fill="#ffd6d6"/>
<rect x="46" y="11" width="1.08" height="1.06" fill="#ffd2d2"/>
<rect x="47" y="11" width="1.08" height="1.06" fill="#ffc9c9"/>
<rect x="48" y="11" width="1.08" height="1.06" fill="#ffb9b9"/>
<rect x="49" y="11" width="1.08" height="1.06" fill="#ffa0a0"/>
<rect x="50" y="11" width="1.08" height="1.06" fill="#ff8383"/>
<rect x="51" y="11" width="1.08" height="1.06" fill="#ff6a6a"/>
<rect x="52" y="11" width="1.08" height="1.06" fill="#ff5b5b"/>
<rect x="53" y="11" width="1.08" height="1.06" fill="#ff6464"/>
<rect x="54" y="11" width="1.08" height="1.06" fill="#ff7171"/>
<rect x="55" y="11" width="1.08" height="1.06" fill="#ff7e7e"/>
<rect x="56" y="11" width="1.08" height="1.06" fill="#ff9797"/>
<rect x="57" y="11" width="1.08" height="1.06" fill="#ffb0b0"/>
<rect x="58" y="11" width="1.08" height="1.06" fill="#ffcccc"/>
<rect x="59" y="11" width="1.08" height="1.06" fill="#ffe7e7"/>
<rect x="60" y="11" width="1.08" height="1.06" fill="#fffafa"/>
<rect x="61" y="11" width="1.08" height="1.06" fill="#f4f4ff"/>
<rect x="62" y="11" width="1.08" height="1.06" fill="#eeeeff"/>
<rect x="63" y="11" width="1.08" height="1.06" fill="#f3f3ff"/>
<rect x="64" y="11" width="1.08" height="1.06" fill="#fbfbff"/>
<rect x="65" y="11" width="1.08" height="1.06" fill="#fffafa"/>
<rect x="66" y="11" width="1.08" height="1.06" fill="#ffeded"/>
<rect x="67" y="11" width="1.08" height="1.06" fill="#ffe5e5"/>
<rect x="68" y="11" width="1.08" height="1.06" fill="#ffe8e8"/>
<rect x="69" y="11" width="1.08" height="1.06" fill="#ffebeb"/>
<rect x="70" y="11" width="1.08" height="1.06" fill="#ffecec"/>
<rect x="71" y="11" width="3.08" height="1.06" fill="#ffeded"/>
<rect x="74" y="11" width="1.08" height="1.06" fill="#ffe6e6"/>
<rect x="75" y="11" width="1.08" height="1.06" fill="#ffd8d8"/>
<rect x="76" y="11" width="1.08" height="1.06" fill="#ffc7c7"/>
<rect x="77" y="11" width="1.08" height="1.06" fill="#ffb5b5"/>
<rect x="78" y="11" width="1.08" height="1.06" fill="#ffacac"/>
<rect x="79" y="11" width="1.08" height="1.06" fill="#ffa6a6"/>
<rect x="80" y="11" width="1.08" height="1.06" fill="#ffa1a1"/>
<rect x="81" y="11" width="1.08" height="1.06" fill="#ffa0a0"/>
<rect x="82" y="11" width="1.08" height="1.06" fill="#ffa2a2"/>
<rect x="83" y="11" width="1.08" height="1.06" fill="#ffaaaa"/>
<rect x="84" y="11" width="1.08" height="1.06" fill="#ffbaba"/>
<rect x="85" y="11" width="1.08" height="1.06" fill="#ffcece"/>
<rect x="86" y="11" width="1.08" height="1.06" fill="#ffdfdf"/>
<rect x="87" y="11" width="1.08" height="1.06" fill="#ffecec"/>
<rect x="88" y="11" width="1.08" height="1.06" fill="#fff5f5"/>
<rect x="89" y="11" width="1.08" height="1.06" fill="#fff9f9"/>
<rect x="90" y="11" width="1.08" height="1.06" fill="#fffdfd"/>
<rect x="91" y="11" width="1.08" height="1.06" fill="#fefeff"/>
<rect x="92" y="11" width="2.08" height="1.06" fill="#fafaff"/>
<rect x="94" y="11" width="2.08" height="1.06" fill="#fbfbff"/>
<rect x="96" y="11" width="3.08" height="1.06" fill="#fafaff"/>
<rect x="-1" y="12" width="3.08" height="1.06" fill="#ffcccc"/>
<rect x="2" y="12" width="1.08" height="1.06" fill="#ffcbcb"/>
<rect x="3" y="12" width="1.08" height="1.06" fill="#ffbebe"/>
<rect x="4" y="12" width="2.08" height="1.06" fill="#ffb0b0"/>
<rect x="6" y="12" width="1.08" height="1.06" fill="#ffb2b2"/>
<rect x="7" y="12" width="1.08" height="1.06" fill="#ffbebe"/>
<rect x="8" y="12" width="1.08" height="1.06" fill="#ffc9c9"/>
<rect x="9" y="12" width="1.08" height="1.06" fill="#ffd5d5"/>
<rect x="10" y="12" width="1.08" height="1.06" fill="#ffe1e1"/>
<rect x="11" y="12" width="1.08" height="1.06" fill="#ffebeb"/>
<rect x="12" y="12" width="1.08" height="1.06" fill="#ffecec"/>
<rect x="13" y="12" width="2.08" height="1.06" fill="#ffebeb"/>
<rect x="15" y="12" width="1.08" height="1.06" fill="#ffe5e5"/>
<rect x="16" y="12" width="1.08" height="1.06" fill="#ffe3e3"/>
<rect x="17" y="12" width="1.08" height="1.06" fill="#ffe6e6"/>
<rect x="18" y="12" width="1.08" height="1.06" fill="#ffdede"/>
<rect x="19" y="12" width="1.08" height="1.06" fill="#ffcccc"/>
<rect x="20" y="12" width="1.08" height="1.06" fill="#ffb3b3"/>
<rect x="21" y="12" width="1.08" height="1.06" fill="#ffb2b2"/>
<rect x="22" y="12" width="1.08" height="1.06" fill="#ffa7a7"/>
<rect x="23" y="12" width="1.08" height="1.06" fill="#ff9a9a"/>
<rect x="24" y="12" width="1.08" height="1.06" fill="#ff8d8d"/>
<rect x="25" y="12" width="1.08" height="1.06" fill="#ff8c8c"/>
<rect x="26" y="12" width="1.08" height="1.06" fill="#ff9696"/>
<rect x="27" y="12" width="1.08" height="1.06" fill="#ff9999"/>
<rect x="28" y="12" width="1.08" height="1.06" fill="#ff9e9e"/>
<rect x="29" y="12" width="1.08" height="1.06" fill="#ffa8a8"/>
<rect x="30" y="12" width="1.08" height="1.06" fill="#ffb2b2"/>
<rect x="31" y="12" width="1.08" height="1.06" fill="#ffc3c3"/>
<rect x="32" y="12" width="1.08" height="1.06" fill="#ffdada"/>
<rect x="33" y="12" width="1.08" height="1.06" fill="#ffecec"/>
<rect x="34" y="12" width="1.08" height="1.06" fill="#fffafa"/>
<rect x="35" y="12" width="1.08" height="1.06" fill="#f7f7ff"/>
<rect x="36" y="12" width="1.08" height="1.06" fill="#ebebff"/>
<rect x="37" y="12" width="1.08" height="1.06" fill="#e6e6ff"/>
<rect x="38" y="12" width="1.08" height="1.06" fill="#e9e9ff"/>
<rect x="39" y="12" width="1.08" height="1.06" fill="#efefff"/>
<rect x="40" y="12" width="1.08" height="1.06" fill="#f7f7ff"/>
<rect x="41" y="12" width="1.08" height="1.06" fill="#fff6f6"/>
<rect x="42" y="12" width="1.08" height="1.06" fill="#ffe5e5"/>
<rect x="43" y="12" width="1.08" height="1.06" fill="#ffe0e0"/>
<rect x="44" y="12" width="1.08" height="1.06" fill="#ffdbdb"/>
<rect x="45" y="12" width="1.08" height="1.06" fill="#ffd6d6"/>
<rect x="46" y="12" width="1.08" height="1.06" fill="#ffd2d2"/>
<rect x="47" y="12" width="1.08" height="1.06" fill="#ffc9c9"/>
<rect x="48" y="12" width="1.08" height="1.06" fill="#ffb9b9"/>
<rect x="49" y="12" width="1.08" height="1.06" fill="#ffa0a0"/>
<rect x="50" y="12" width="1.08" height="1.06" fill="#ff8383"/>
<rect x="51" y="12" width="1.08" height="1.06" fill="#ff6a6a"/>
<rect x="52" y="12" width="1.08" height="1.06" fill="#ff5b5b"/>
<rect x="53" y="12" width="1.08" height="1.06" fill="#ff6464"/>
<rect x="54" y="12" width="1.08" height="1.06" fill="#ff7171"/>
<rect x="55" y="12" width="1.08" height="1.06" fill="#ff7e7e"/>
<rect x="56" y="12" width="1.08" height="1.06" fill="#ff9797"/>
<rect x="57" y="12" width="1.08" height="1.06" fill="#ffb0b0"/>
<rect x="58" y="12" width="1.08" height="1.06" fill="#ffcccc"/>
<rect x="59" y="12" width="1.08" height="1.06" fill="#ffe7e7"/>
<rect x="60" y="12" width="1.08" height="1.06" fill="#fffafa"/>
<rect x="61" y="12" width="1.08" height="1.06" fill="#f4f4ff"/>
<rect x="62" y="12" width="1.08" height="1.06" fill="#eeeeff"/>
<rect x="63" y="12" width="1.08" height="1.06" fill="#f3f3ff"/>
<rect x="64" y="12" width="1.08" height="1.06" fill="#fbfbff"/>
<rect x="65" y="12" width="1.08" height="1.06" fill="#fffafa"/>
<rect x="66" y="12" width="1.08" height="1.06" fill="#ffeded"/>
<rect x="67" y="12" width="1.08" height="1.06" fill="#ffe1e1"/>
<rect x="68" y="12" width="2.08" height="1.06" fill="#ffdede"/>
<rect x="70" y="12" width="1.08" height="1.06" fill="#ffe5e5"/>
<rect x="71" y="12" width="1.08" height="1.06" fill="#ffecec"/>
<rect x="72" y="12" width="2.08" height="1.06" fill="#ffeded"/>
<rect x="74" y="12" width="1.08" height="1.06" fill="#ffe6e6"/>
<rect x="75" y="12" width="1.08" height="1.06" fill="#ffd8d8"/>
<rect x="76" y="12" width="1.08" height="1.06" fill="#ffc7c7"/>
<rect x="77" y="12" width="1.08" height="1.06" fill="#ffb5b5"/>
<rect x="78" y="12" width="1.08" height="1.06" fill="#ffacac"/>
<rect x="79" y="12" width="1.08" height="1.06" fill="#ffa6a6"/>
<rect x="80" y="12" width="2.08" height="1.06" fill="#ffa1a1"/>
<rect x="82" y="12" width="1.08" height="1.06" fill="#ffaaaa"/>
<rect x="83" y="12" width="1.08" height="1.06" fill="#ffb8b8"/>
<rect x="84" y="12" width="1.08" height="1.06" fill="#ffc5c5"/>
<rect x="85" y="12" width="1.08" height="1.06" fill="#ffd2d2"/>
<rect x="86" y="12" width="1.08" height="1.06" fill="#ffdfdf"/>
<rect x="87" y="12" width="1.08" height="1.06" fill="#ffecec"/>
<rect x="88" y="12" width="1.08" height="1.06" fill="#fff5f5"/>
<rect x="89" y="12" width="1.08" height="1.06" fill="#fff9f9"/>
<rect x="90" y="12" width="2.08" height="1.06" fill="#fffdfd"/>
<rect x="92" y="12" width="1.08" height="1.06" fill="#fffbfb"/>
<rect x="93" y="12" width="1.08" height="1.06" fill="#fff5f5"/>
<rect x="94" y="12" width="1.08" height="1.06" fill="#fffafa"/>
<rect x="95" y="12" width="1.08" height="1.06" fill="#fdfdff"/>
<rect x="96" y="12" width="3.08" height="1.06" fill="#fafaff"/>
<rect x="-1" y="13" width="3.08" height="1.06" fill="#ffcccc"/>
<rect x="2" y="13" width="1.08" height="1.06" fill="#ffcbcb"/>
<rect x="3" y="13" width="1.08" height="1.06" fill="#ffbebe"/>
<rect x="4" y="13" width="2.08" height="1.06" fill="#ffb0b0"/>
<rect x="6" y="13" width="1.08" height="1.06" fill="#ffb2b2"/>
<rect x="7" y="13" width="1.08" height="1.06" fill="#ffbebe"/>
<rect x="8" y="13" width="1.08" height="1.06" fill="#ffc9c9"/>
<rect x="9" y="13" width="1.08" height="1.06" fill="#ffd5d5"/>
<rect x="10" y="13" width="1.08" height="1.06" fill="#ffe1e1"/>
<rect x="11" y="13" width="1.08" height="1.06" fill="#ffebeb"/>
<rect x="12" y="13" width="2.08" height="1.06" fill="#ffecec"/>
<rect x="14" y="13" width="1.08" height="1.06" fill="#fff2f2"/>
<rect x="15" y="13" width="1.08" height="1.06" fill="#fff3f3"/>
<rect x="16" y="13" width="1.08" height="1.06" fill="#ffeeee"/>
<rect x="17" y="13" width="1.08" height="1.06" fill="#ffeaea"/>
<rect x="18" y="13" width="1.08" height="1.06" fill="#ffdede"/>
<rect x="19" y="13" width="1.08" height="1.06" fill="#ffcccc"/>
<rect x="20" y="13" width="1.08" height="1.06" fill="#ffb3b3"/>
<rect x="21" y="13" width="1.08" height="1.06" fill="#ffb2b2"/>
<rect x="22" y="13" width="1.08" height="1.06" fill="#ffa7a7"/>
<rect x="23" y="13" width="1.08" height="1.06" fill="#ff9d9d"/>
<rect x="24" y="13" width="1.08" height="1.06" fill="#ff9696"/>
<rect x="25" y="13" width="1.08" height="1.06" fill="#ff9c9c"/>
<rect x="26" y="13" width="1.08" height="1.06" fill="#ff9f9f"/>
<rect x="27" y="13" width="1.08" height="1.06" fill="#ff9c9c"/>
<rect x="28" y="13" width="1.08" height="1.06" fill="#ff9e9e"/>
<rect x="29" y="13" width="1.08" height="1.06" fill="#ffa8a8"/>
<rect x="30" y="13" width="1.08" height="1.06" fill="#ffb2b2"/>
<rect x="31" y="13" width="1.08" height="1.06" fill="#ffc3c3"/>
<rect x="32" y="13" width="1.08" height="1.06" fill="#ffdada"/>
<rect x="33" y="13" width="1.08" height="1.06" fill="#ffecec"/>
<rect x="34" y="13" width="1.08" height="1.06" fill="#fffafa"/>
<rect x="35" y="13" width="1.08" height="1.06" fill="#f7f7ff"/>
<rect x="36" y="13" width="1.08" height="1.06" fill="#ebebff"/>
<rect x="37" y="13" width="1.08" height="1.06" fill="#e6e6ff"/>
<rect x="38" y="13" width="1.08" height="1.06" fill="#e9e9ff"/>
<rect x="39" y="13" width="1.08" height="1.06" fill="#efefff"/>
<rect x="40" y="13" width="1.08" height="1.06" fill="#f4f4ff"/>
<rect x="41" y="13" width="1.08" height="1.06" fill="#fefeff"/>
<rect x="42" y="13" width="1.08" height="1.06" fill="#fff5f5"/>
<rect x="43" y="13" width="1.08" height="1.06" fill="#ffe9e9"/>
<rect x="44" y="13" width="1.08" height="1.06" fill="#ffdede"/>
<rect x="45" y="13" width="1.08" height="1.06" fill="#ffd3d3"/>
<rect x="46" y="13" width="1.08" height="1.06" fill="#ffc8c8"/>
<rect x="47" y="13" width="1.08" height="1.06" fill="#ffbbbb"/>
<rect x="48" y="13" width="1.08" height="1.06" fill="#ffb1b1"/>
<rect x="49" y="13" width="1.08" height="1.06" fill="#ff9e9e"/>
<rect x="50" y="13" width="1.08" height="1.06" fill="#ff8383"/>
<rect x="51" y="13" width="1.08" height="1.06" fill="#ff6a6a"/>
<rect x="52" y="13" width="1.08" height="1.06" fill="#ff5b5b"/>
<rect x="53" y="13" width="1.08" height="1.06" fill="#ff6464"/>
<rect x="54" y="13" width="1.08" height="1.06" fill="#ff7171"/>
<rect x="55" y="13" width="1.08" height="1.06" fill="#ff7e7e"/>
<rect x="56" y="13" width="1.08" height="1.06" fill="#ff9797"/>
<rect x="57" y="13" width="1.08" height="1.06" fill="#ffb0b0"/>
<rect x="58" y="13" width="1.08" height="1.06" fill="#ffcccc"/>
<rect x="59" y="13" width="1.08" height="1.06" fill="#ffe7e7"/>
<rect x="60" y="13" width="1.08" height="1.06" fill="#fff3f3"/>
<rect x="61" y="13" width="1.08" height="1.06" fill="#fffdfd"/>
<rect x="62" y="13" width="1.08" height="1.06" fill="#fdfdff"/>
<rect x="63" y="13" width="1.08" height="1.06" fill="#fffcfc"/>
<rect x="64" y="13" width="1.08" height="1.06" fill="#fff4f4"/>
<rect x="65" y="13" width="1.08" height="1.06" fill="#ffebeb"/>
<rect x="66" y="13" width="1.08" height="1.06" fill="#ffdede"/>
<rect x="67" y="13" width="1.08" height="1.06" fill="#ffdbdb"/>
<rect x="68" y="13" width="1.08" height="1.06" fill="#ffe4e4"/>
<rect x="69" y="13" width="1.08" height="1.06" fill="#ffeded"/>
<rect x="70" y="13" width="1.08" height="1.06" fill="#fff4f4"/>
<rect x="71" y="13" width="1.08" height="1.06" fill="#fffcfc"/>
<rect x="72" y="13" width="1.08" height="1.06" fill="#fff7f7"/>
<rect x="73" y="13" width="1.08" height="1.06" fill="#fff0f0"/>
<rect x="74" y="13" width="1.08" height="1.06" fill="#ffe6e6"/>
<rect x="75" y="13" width="1.08" height="1.06" fill="#ffd8d8"/>
<rect x="76" y="13" width="1.08" height="1.06" fill="#ffc7c7"/>
<rect x="77" y="13" width="1.08" height="1.06" fill="#ffb5b5"/>
<rect x="78" y="13" width="1.08" height="1.06" fill="#ffacac"/>
<rect x="79" y="13" width="1.08" height="1.06" fill="#ffa6a6"/>
<rect x="80" y="13" width="2.08" height="1.06" fill="#ffa1a1"/>
<rect x="82" y="13" width="1.08" height="1.06" fill="#ffaaaa"/>
<rect x="83" y="13" width="1.08" height="1.06" fill="#ffb8b8"/>
<rect x="84" y="13" width="1.08" height="1.06" fill="#ffc5c5"/>
<rect x="85" y="13" width="1.08" height="1.06" fill="#ffd2d2"/>
<rect x="86" y="13" width="1.08" height="1.06" fill="#ffdfdf"/>
<rect x="87" y="13" width="1.08" height="1.06" fill="#ffecec"/>
<rect x="88" y="13" width="1.08" height="1.06" fill="#fff5f5"/>
<rect x="89" y="13" width="1.08" height="1.06" fill="#fff9f9"/>
<rect x="90" y="13" width="1.08" height="1.06" fill="#fffdfd"/>
<rect x="91" y="13" width="1.08" height="1.06" fill="#fefeff"/>
<rect x="92" y="13" width="2.08" height="1.06" fill="#fafaff"/>
<rect x="94" y="13" width="2.08" height="1.06" fill="#fbfbff"/>
<rect x="96" y="13" width="3.08" height="1.06" fill="#fafaff"/>
<rect x="-1" y="14" width="2.08" height="1.06" fill="#ffcccc"/>
<rect x="1" y="14" width="1.08" height="1.06" fill="#ffcece"/>
<rect x="2" y="14" width="1.08" height="1.06" fill="#ffd3d3"/>
<rect x="3" y="14" width="1.08" height="1.06" fill="#ffcdcd"/>
<rect x="4" y="14" width="3.08" height="1.06" fill="#ffbfbf"/>
<rect x="7" y="14" width="1.08" height="1.06" fill="#ffc4c4"/>
<rect x="8" y="14" width="1.08" height="1.06" fill="#ffc9c9"/>
<rect x="9" y="14" width="1.08" height="1.06" fill="#ffcfcf"/>
<rect x="10" y="14" width="1.08" height="1.06" fill="#ffd4d4"/>
<rect x="11" y="14" width="1.08" height="1.06" fill="#ffdfdf"/>
<rect x="12" y="14" width="1.08" height="1.06" fill="#ffe7e7"/>
<rect x="13" y="14" width="2.08" height="1.06" fill="#ffebeb"/>
<rect x="15" y="14" width="1.08" height="1.06" fill="#ffe5e5"/>
<rect x="16" y="14" width="1.08" height="1.06" fill="#ffdfdf"/>
<rect x="17" y="14" width="1.08" height="1.06" fill="#ffdbdb"/>
<rect x="18" y="14" width="1.08" height="1.06" fill="#ffcfcf"/>
<rect x="19" y="14" width="1.08" height="1.06" fill="#ffbcbc"/>
<rect x="20" y="14" width="1.08" height="1.06" fill="#ffa4a4"/>
<rect x="21" y="14" width="1.08" height="1.06" fill="#ffa8a8"/>
<rect x="22" y="14" width="1.08" height="1.06" fill="#ffa3a3"/>
<rect x="23" y="14" width="1.08" height="1.06" fill="#ff9d9d"/>
<rect x="24" y="14" width="1.08" height="1.06" fill="#ff9696"/>
<rect x="25" y="14" width="1.08" height="1.06" fill="#ff9c9c"/>
<rect x="26" y="14" width="1.08" height="1.06" fill="#ff9f9f"/>
<rect x="27" y="14" width="1.08" height="1.06" fill="#ff9c9c"/>
<rect x="28" y="14" width="1.08" height="1.06" fill="#ff9e9e"/>
<rect x="29" y="14" width="1.08" height="1.06" fill="#ffa8a8"/>
<rect x="30" y="14" width="1.08" height="1.06" fill="#ffb2b2"/>
<rect x="31" y="14" width="1.08" height="1.06" fill="#ffc3c3"/>
<rect x="32" y="14" width="1.08" height="1.06" fill="#ffdada"/>
<rect x="33" y="14" width="1.08" height="1.06" fill="#ffecec"/>
<rect x="34" y="14" width="1.08" height="1.06" fill="#fffafa"/>
<rect x="35" y="14" width="1.08" height="1.06" fill="#f7f7ff"/>
<rect x="36" y="14" width="1.08" height="1.06" fill="#ebebff"/>
<rect x="37" y="14" width="1.08" height="1.06" fill="#e6e6ff"/>
<rect x="38" y="14" width="1.08" height="1.06" fill="#e9e9ff"/>
<rect x="39" y="14" width="1.08" height="1.06" fill="#efefff"/>
<rect x="40" y="14" width="1.08" height="1.06" fill="#f7f7ff"/>
<rect x="41" y="14" width="1.08" height="1.06" fill="#fff6f6"/>
<rect x="42" y="14" width="1.08" height="1.06" fill="#ffe5e5"/>
<rect x="43" y="14" width="1.08" height="1.06" fill="#ffe0e0"/>
<rect x="44" y="14" width="1.08" height="1.06" fill="#ffdbdb"/>
<rect x="45" y="14" width="1.08" height="1.06" fill="#ffd3d3"/>
<rect x="46" y="14" width="1.08" height="1.06" fill="#ffc8c8"/>
<rect x="47" y="14" width="1.08" height="1.06" fill="#ffbbbb"/>
<rect x="48" y="14" width="1.08" height="1.06" fill="#ffb1b1"/>
<rect x="49" y="14" width="1.08" height="1.06" fill="#ff9e9e"/>
<rect x="50" y="14" width="1.08" height="1.06" fill="#ff8383"/>
<rect x="51" y="14" width="1.08" height="1.06" fill="#ff6a6a"/>
<rect x="52" y="14" width="1.08" height="1.06" fill="#ff5b5b"/>
<rect x="53" y="14" width="1.08" height="1.06" fill="#ff6464"/>
<rect x="54" y="14" width="1.08" height="1.06" fill="#ff7171"/>
<rect x="55" y="14" width="1.08" height="1.06" fill="#ff7e7e"/>
<rect x="56" y="14" width="1.08" height="1.06" fill="#ff9797"/>
<rect x="57" y="14" width="1.08" height="1.06" fill="#ffadad"/>
<rect x="58" y="14" width="1.08" height="1.06" fill="#ffc3c3"/>
<rect x="59" y="14" width="1.08" height="1.06" fill="#ffd8d8"/>
<rect x="60" y="14" width="1.08" height="1.06" fill="#fff1f1"/>
<rect x="61" y="14" width="1.08" height="1.06" fill="#f7f7ff"/>
<rect x="62" y="14" width="1.08" height="1.06" fill="#eeeeff"/>
<rect x="63" y="14" width="1.08" height="1.06" fill="#f3f3ff"/>
<rect x="64" y="14" width="1.08" height="1.06" fill="#fbfbff"/>
<rect x="65" y="14" width="1.08" height="1.06" fill="#fffafa"/>
<rect x="66" y="14" width="1.08" height="1.06" fill="#ffeded"/>
<rect x="67" y="14" width="1.08" height="1.06" fill="#ffe1e1"/>
<rect x="68" y="14" width="1.08" height="1.06" fill="#ffdede"/>
<rect x="69" y="14" width="1.08" height="1.06" fill="#ffdcdc"/>
<rect x="70" y="14" width="1.08" height="1.06" fill="#ffdddd"/>
<rect x="71" y="14" width="3.08" height="1.06" fill="#ffdede"/>
<rect x="74" y="14" width="1.08" height="1.06" fill="#ffd9d9"/>
<rect x="75" y="14" width="1.08" height="1.06" fill="#ffd2d2"/>
<rect x="76" y="14" width="1.08" height="1.06" fill="#ffc7c7"/>
<rect x="77" y="14" width="1.08" height="1.06" fill="#ffb5b5"/>
<rect x="78" y="14" width="1.08" height="1.06" fill="#ffacac"/>
<rect x="79" y="14" width="1.08" height="1.06" fill="#ffaaaa"/>
<rect x="80" y="14" width="1.08" height="1.06" fill="#ffabab"/>
<rect x="81" y="14" width="1.08" height="1.06" fill="#ffb0b0"/>
<rect x="82" y="14" width="1.08" height="1.06" fill="#ffb1b1"/>
<rect x="83" y="14" width="1.08" height="1.06" fill="#ffbaba"/>
<rect x="84" y="14" width="1.08" height="1.06" fill="#ffc5c5"/>
<rect x="85" y="14" width="1.08" height="1.06" fill="#ffd2d2"/>
<rect x="86" y="14" width="1.08" height="1.06" fill="#ffdfdf"/>
<rect x="87" y="14" width="1.08" height="1.06" fill="#ffecec"/>
<rect x="88" y="14" width="1.08" height="1.06" fill="#fff5f5"/>
<rect x="89" y="14" width="1.08" height="1.06" fill="#fff9f9"/>
<rect x="90" y="14" width="1.08" height="1.06" fill="#fffdfd"/>
<rect x="91" y="14" width="1.08" height="1.06" fill="#fefeff"/>
<rect x="92" y="14" width="2.08" height="1.06" fill="#fafaff"/>
<rect x="94" y="14" width="2.08" height="1.06" fill="#fbfbff"/>
<rect x="96" y="14" width="3.08" height="1.06" fill="#fafaff"/>
<rect x="-1" y="15" width="2.08" height="1.06" fill="#ffcccc"/>
<rect x="1" y="15" width="1.08" height="1.06" fill="#ffcece"/>
<rect x="2" y="15" width="1.08" height="1.06" fill="#ffd3d3"/>
<rect x="3" y="15" width="1.08" height="1.06" fill="#ffcdcd"/>
<rect x="4" y="15" width="2.08" height="1.06" fill="#ffbfbf"/>
<rect x="6" y="15" width="1.08" height="1.06" fill="#ffc2c2"/>
<rect x="7" y="15" width="1.08" height="1.06" fill="#ffcdcd"/>
<rect x="8" y="15" width="1.08" height="1.06" fill="#ffd9d9"/>
<rect x="9" y="15" width="1.08" height="1.06" fill="#ffdede"/>
<rect x="10" y="15" width="1.08" height="1.06" fill="#ffe3e3"/>
<rect x="11" y="15" width="1.08" height="1.06" fill="#ffebeb"/>
<rect x="12" y="15" width="2.08" height="1.06" fill="#ffecec"/>
<rect x="14" y="15" width="1.08" height="1.06" fill="#fff2f2"/>
<rect x="15" y="15" width="1.08" height="1.06" fill="#fff3f3"/>
<rect x="16" y="15" width="1.08" height="1.06" fill="#ffe9e9"/>
<rect x="17" y="15" width="1.08" height="1.06" fill="#ffdfdf"/>
<rect x="18" y="15" width="1.08" height="1.06" fill="#ffcfcf"/>
<rect x="19" y="15" width="1.08" height="1.06" fill="#ffbcbc"/>
<rect x="20" y="15" width="1.08" height="1.06" fill="#ffa4a4"/>
<rect x="21" y="15" width="1.08" height="1.06" fill="#ffa8a8"/>
<rect x="22" y="15" width="1.08" height="1.06" fill="#ffa3a3"/>
<rect x="23" y="15" width="1.08" height="1.06" fill="#ff9d9d"/>
<rect x="24" y="15" width="1.08" height="1.06" fill="#ff9696"/>
<rect x="25" y="15" width="1.08" height="1.06" fill="#ff9c9c"/>
<rect x="26" y="15" width="1.08" height="1.06" fill="#ff9f9f"/>
<rect x="27" y="15" width="1.08" height="1.06" fill="#ff9c9c"/>
<rect x="28" y="15" width="1.08" height="1.06" fill="#ff9e9e"/>
<rect x="29" y="15" width="1.08" height="1.06" fill="#ffa8a8"/>
<rect x="30" y="15" width="1.08" height="1.06" fill="#ffb2b2"/>
<rect x="31" y="15" width="1.08" height="1.06" fill="#ffc3c3"/>
<rect x="32" y="15" width="1.08" height="1.06" fill="#ffdada"/>
<rect x="33" y="15" width="1.08" height="1.06" fill="#ffecec"/>
<rect x="34" y="15" width="1.08" height="1.06" fill="#fffafa"/>
<rect x="35" y="15" width="1.08" height="1.06" fill="#f5f5ff"/>
<rect x="36" y="15" width="1.08" height="1.06" fill="#e3e3ff"/>
<rect x="37" y="15" width="1.08" height="1.06" fill="#d7d7ff"/>
<rect x="38" y="15" width="1.08" height="1.06" fill="#dadaff"/>
<rect x="39" y="15" width="1.08" height="1.06" fill="#e0e0ff"/>
<rect x="40" y="15" width="1.08" height="1.06" fill="#e8e8ff"/>
<rect x="41" y="15" width="1.08" height="1.06" fill="#f8f8ff"/>
<rect x="42" y="15" width="1.08" height="1.06" fill="#fff5f5"/>
<rect x="43" y="15" width="1.08" height="1.06" fill="#ffe9e9"/>
<rect x="44" y="15" width="1.08" height="1.06" fill="#ffdede"/>
<rect x="45" y="15" width="1.08" height="1.06" fill="#ffd3d3"/>
<rect x="46" y="15" width="1.08" height="1.06" fill="#ffc8c8"/>
<rect x="47" y="15" width="1.08" height="1.06" fill="#ffbbbb"/>
<rect x="48" y="15" width="1.08" height="1.06" fill="#ffb1b1"/>
<rect x="49" y="15" width="1.08" height="1.06" fill="#ff9e9e"/>
<rect x="50" y="15" width="1.08" height="1.06" fill="#ff8383"/>
<rect x="51" y="15" width="1.08" height="1.06" fill="#ff6a6a"/>
<rect x="52" y="15" width="1.08" height="1.06" fill="#ff5b5b"/>
<rect x="53" y="15" width="1.08" height="1.06" fill="#ff6464"/>
<rect x="54" y="15" width="1.08" height="1.06" fill="#ff7171"/>
<rect x="55" y="15" width="1.08" height="1.06" fill="#ff7e7e"/>
<rect x="56" y="15" width="1.08" height="1.06" fill="#ff9797"/>
<rect x="57" y="15" width="1.08" height="1.06" fill="#ffb0b0"/>
<rect x="58" y="15" width="1.08" height="1.06" fill="#ffcccc"/>
<rect x="59" y="15" width="1.08" height="1.06" fill="#ffe7e7"/>
<rect x="60" y="15" width="1.08" height="1.06" fill="#fffafa"/>
<rect x="61" y="15" width="1.08" height="1.06" fill="#f4f4ff"/>
<rect x="62" y="15" width="1.08" height="1.06" fill="#eaeaff"/>
<rect x="63" y="15" width="1.08" height="1.06" fill="#e9e9ff"/>
<rect x="64" y="15" width="1.08" height="1.06" fill="#ededff"/>
<rect x="65" y="15" width="1.08" height="1.06" fill="#fcfcff"/>
<rect x="66" y="15" width="1.08" height="1.06" fill="#ffefef"/>
<rect x="67" y="15" width="1.08" height="1.06" fill="#ffe1e1"/>
<rect x="68" y="15" width="1.08" height="1.06" fill="#ffdede"/>
<rect x="69" y="15" width="1.08" height="1.06" fill="#ffdcdc"/>
<rect x="70" y="15" width="1.08" height="1.06" fill="#ffdddd"/>
<rect x="71" y="15" width="3.08" height="1.06" fill="#ffdede"/>
<rect x="74" y="15" width="1.08" height="1.06" fill="#ffd6d6"/>
<rect x="75" y="15" width="1.08" height="1.06" fill="#ffc9c9"/>
<rect x="76" y="15" width="1.08" height="1.06" fill="#ffb8b8"/>
<rect x="77" y="15" width="1.08" height="1.06" fill="#ffacac"/>
<rect x="78" y="15" width="1.08" height="1.06" fill="#ffa9a9"/>
<rect x="79" y="15" width="1.08" height="1.06" fill="#ffa6a6"/>
<rect x="80" y="15" width="2.08" height="1.06" fill="#ffa1a1"/>
<rect x="82" y="15" width="1.08" height="1.06" fill="#ffaaaa"/>
<rect x="83" y="15" width="1.08" height="1.06" fill="#ffb8b8"/>
<rect x="84" y="15" width="1.08" height="1.06" fill="#ffc5c5"/>
<rect x="85" y="15" width="1.08" height="1.06" fill="#ffd2d2"/>
<rect x="86" y="15" width="1.08" height="1.06" fill="#ffdfdf"/>
<rect x="87" y="15" width="1.08" height="1.06" fill="#ffecec"/>
<rect x="88" y="15" width="1.08" height="1.06" fill="#fff5f5"/>
<rect x="89" y="15" width="1.08" height="1.06" fill="#ffffff"/>
<rect x="90" y="15" width="1.08" height="1.06" fill="#f5f5ff"/>
<rect x="91" y="15" width="1.08" height="1.06" fill="#efefff"/>
<rect x="92" y="15" width="2.08" height="1.06" fill="#ebebff"/>
<rect x="94" y="15" width="1.08" height="1.06" fill="#ececff"/>
<rect x="95" y="15" width="4.08" height="1.06" fill="#ebebff"/>
<rect x="-1" y="16" width="2.08" height="1.06" fill="#ffcccc"/>
<rect x="1" y="16" width="1.08" height="1.06" fill="#ffcece"/>
<rect x="2" y="16" width="1.08" height="1.06" fill="#ffd3d3"/>
<rect x="3" y="16" width="1.08" height="1.06" fill="#ffcdcd"/>
<rect x="4" y="16" width="3.08" height="1.06" fill="#ffbfbf"/>
<rect x="7" y="16" width="1.08" height="1.06" fill="#ffc4c4"/>
<rect x="8" y="16" width="1.08" height="1.06" fill="#ffc9c9"/>
<rect x="9" y="16" width="1.08" height="1.06" fill="#ffd5d5"/>
<rect x="10" y="16" width="1.08" height="1.06" fill="#ffe1e1"/>
<rect x="11" y="16" width="1.08" height="1.06" fill="#ffebeb"/>
<rect x="12" y="16" width="2.08" height="1.06" fill="#ffecec"/>
<rect x="14" y="16" width="1.08" height="1.06" fill="#fff2f2"/>
<rect x="15" y="16" width="1.08" height="1.06" fill="#fff3f3"/>
<rect x="16" y="16" width="1.08" height="1.06" fill="#ffe9e9"/>
<rect x="17" y="16" width="1.08" height="1.06" fill="#ffdfdf"/>
<rect x="18" y="16" width="1.08" height="1.06" fill="#ffcfcf"/>
<rect x="19" y="16" width="1.08" height="1.06" fill="#ffbcbc"/>
<rect x="20" y="16" width="1.08" height="1.06" fill="#ffa4a4"/>
<rect x="21" y="16" width="1.08" height="1.06" fill="#ffa8a8"/>
<rect x="22" y="16" width="1.08" height="1.06" fill="#ffa3a3"/>
<rect x="23" y="16" width="1.08" height="1.06" fill="#ff9d9d"/>
<rect x="24" y="16" width="1.08" height="1.06" fill="#ff9696"/>
<rect x="25" y="16" width="1.08" height="1.06" fill="#ff9c9c"/>
<rect x="26" y="16" width="1.08" height="1.06" fill="#ffa5a5"/>
<rect x="27" y="16" width="1.08" height="1.06" fill="#ffa8a8"/>
<rect x="28" y="16" width="1.08" height="1.06" fill="#ffaeae"/>
<rect x="29" y="16" width="1.08" height="1.06" fill="#ffb7b7"/>
<rect x="30" y="16" width="1.08" height="1.06" fill="#ffc1c1"/>
<rect x="31" y="16" width="1.08" height="1.06" fill="#ffcaca"/>
<rect x="32" y="16" width="1.08" height="1.06" fill="#ffdcdc"/>
<rect x="33" y="16" width="1.08" height="1.06" fill="#ffecec"/>
<rect x="34" y="16" width="1.08" height="1.06" fill="#fffafa"/>
<rect x="35" y="16" width="1.08" height="1.06" fill="#f7f7ff"/>
<rect x="36" y="16" width="1.08" height="1.06" fill="#ebebff"/>
<rect x="37" y="16" width="1.08" height="1.06" fill="#e6e6ff"/>
<rect x="38" y="16" width="1.08" height="1.06" fill="#e4e4ff"/>
<rect x="39" y="16" width="1.08" height="1.06" fill="#e3e3ff"/>
<rect x="40" y="16" width="1.08" height="1.06" fill="#e8e8ff"/>
<rect x="41" y="16" width="1.08" height="1.06" fill="#f8f8ff"/>
<rect x="42" y="16" width="1.08" height="1.06" fill="#fff5f5"/>
<rect x="43" y="16" width="1.08" height="1.06" fill="#ffe9e9"/>
<rect x="44" y="16" width="1.08" height="1.06" fill="#ffdede"/>
<rect x="45" y="16" width="1.08" height="1.06" fill="#ffd3d3"/>
<rect x="46" y="16" width="1.08" height="1.06" fill="#ffc8c8"/>
<rect x="47" y="16" width="1.08" height="1.06" fill="#ffbbbb"/>
<rect x="48" y="16" width="1.08" height="1.06" fill="#ffb1b1"/>
<rect x="49" y="16" width="1.08" height="1.06" fill="#ff9e9e"/>
<rect x="50" y="16" width="1.08" height="1.06" fill="#ff8383"/>
<rect x="51" y="16" width="1.08" height="1.06" fill="#ff6a6a"/>
<rect x="52" y="16" width="1.08" height="1.06" fill="#ff5b5b"/>
<rect x="53" y="16" width="1.08" height="1.06" fill="#ff6464"/>
<rect x="54" y="16" width="1.08" height="1.06" fill="#ff7171"/>
<rect x="55" y="16" width="1.08" height="1.06" fill="#ff7e7e"/>
<rect x="56" y="16" width="1.08" height="1.06" fill="#ff9797"/>
<rect x="57" y="16" width="1.08" height="1.06" fill="#ffb0b0"/>
<rect x="58" y="16" width="1.08" height="1.06" fill="#ffcccc"/>
<rect x="59" y="16" width="1.08" height="1.06" fill="#ffe7e7"/>
<rect x="60" y="16" width="1.08" height="1.06" fill="#fffafa"/>
<rect x="61" y="16" width="1.08" height="1.06" fill="#f4f4ff"/>
<rect x="62" y="16" width="1.08" height="1.06" fill="#eaeaff"/>
<rect x="63" y="16" width="1.08" height="1.06" fill="#e9e9ff"/>
<rect x="64" y="16" width="1.08" height="1.06" fill="#ececff"/>
<rect x="65" y="16" width="1.08" height="1.06" fill="#f5f5ff"/>
<rect x="66" y="16" width="1.08" height="1.06" fill="#fffdfd"/>
<rect x="67" y="16" width="1.08" height="1.06" fill="#fff0f0"/>
<rect x="68" y="16" width="1.08" height="1.06" fill="#ffeded"/>
<rect x="69" y="16" width="1.08" height="1.06" fill="#ffe9e9"/>
<rect x="70" y="16" width="1.08" height="1.06" fill="#ffe4e4"/>
<rect x="71" y="16" width="3.08" height="1.06" fill="#ffdede"/>
<rect x="74" y="16" width="1.08" height="1.06" fill="#ffd6d6"/>
<rect x="75" y="16" width="1.08" height="1.06" fill="#ffc9c9"/>
<rect x="76" y="16" width="1.08" height="1.06" fill="#ffb8b8"/>
<rect x="77" y="16" width="1.08" height="1.06" fill="#ffacac"/>
<rect x="78" y="16" width="1.08" height="1.06" fill="#ffa9a9"/>
<rect x="79" y="16" width="1.08" height="1.06" fill="#ffa6a6"/>
<rect x="80" y="16" width="2.08" height="1.06" fill="#ffa1a1"/>
<rect x="82" y="16" width="1.08" height="1.06" fill="#ffaaaa"/>
<rect x="83" y="16" width="1.08" height="1.06" fill="#ffb8b8"/>
<rect x="84" y="16" width="1.08" height="1.06" fill="#ffc5c5"/>
<rect x="85" y="16" width="1.08" height="1.06" fill="#ffd2d2"/>
<rect x="86" y="16" width="1.08" height="1.06" fill="#ffdfdf"/>
<rect x="87" y="16" width="1.08" height="1.06" fill="#ffecec"/>
<rect x="88" y="16" width="1.08" height="1.06" fill="#fff5f5"/>
<rect x="89" y="16" width="1.08" height="1.06" fill="#ffffff"/>
<rect x="90" y="16" width="1.08" height="1.06" fill="#f5f5ff"/>
<rect x="91" y="16" width="1.08" height="1.06" fill="#efefff"/>
<rect x="92" y="16" width="2.08" height="1.06" fill="#ebebff"/>
<rect x="94" y="16" width="1.08" height="1.06" fill="#ececff"/>
<rect x="95" y="16" width="4.08" height="1.06" fill="#ebebff"/>
<rect x="-1" y="17" width="2.08" height="1.06" fill="#ffcccc"/>
<rect x="1" y="17" width="1.08" height="1.06" fill="#ffcece"/>
<rect x="2" y="17" width="1.08" height="1.06" fill="#ffd3d3"/>
<rect x="3" y="17" width="1.08" height="1.06" fill="#ffcdcd"/>
<rect x="4" y="17" width="2.08" height="1.06" fill="#ffbfbf"/>
<rect x="6" y="17" width="1.08" height="1.06" fill="#ffc2c2"/>
<rect x="7" y="17" width="1.08" height="1.06" fill="#ffcdcd"/>
<rect x="8" y="17" width="1.08" height="1.06" fill="#ffd9d9"/>
<rect x="9" y="17" width="1.08" height="1.06" fill="#ffdede"/>
<rect x="10" y="17" width="1.08" height="1.06" fill="#ffe3e3"/>
<rect x="11" y="17" width="1.08" height="1.06" fill="#ffebeb"/>
<rect x="12" y="17" width="2.08" height="1.06" fill="#ffecec"/>
<rect x="14" y="17" width="1.08" height="1.06" fill="#fff2f2"/>
<rect x="15" y="17" width="1.08" height="1.06" fill="#fff3f3"/>
<rect x="16" y="17" width="1.08" height="1.06" fill="#ffe9e9"/>
<rect x="17" y="17" width="1.08" height="1.06" fill="#ffdfdf"/>
<rect x="18" y="17" width="1.08" height="1.06" fill="#ffcfcf"/>
<rect x="19" y="17" width="1.08" height="1.06" fill="#ffbcbc"/>
<rect x="20" y="17" width="1.08" height="1.06" fill="#ffa4a4"/>
<rect x="21" y="17" width="1.08" height="1.06" fill="#ffa8a8"/>
<rect x="22" y="17" width="1.08" height="1.06" fill="#ffa3a3"/>
<rect x="23" y="17" width="1.08" height="1.06" fill="#ff9d9d"/>
<rect x="24" y="17" width="1.08" height="1.06" fill="#ff9696"/>
<rect x="25" y="17" width="1.08" height="1.06" fill="#ff9c9c"/>
<rect x="26" y="17" width="1.08" height="1.06" fill="#ffa5a5"/>
<rect x="27" y="17" width="1.08" height="1.06" fill="#ffa8a8"/>
<rect x="28" y="17" width="1.08" height="1.06" fill="#ffaeae"/>
<rect x="29" y="17" width="1.08" height="1.06" fill="#ffb7b7"/>
<rect x="30" y="17" width="1.08" height="1.06" fill="#ffc1c1"/>
<rect x="31" y="17" width="1.08" height="1.06" fill="#ffcaca"/>
<rect x="32" y="17" width="1.08" height="1.06" fill="#ffdcdc"/>
<rect x="33" y="17" width="1.08" height="1.06" fill="#ffecec"/>
<rect x="34" y="17" width="1.08" height="1.06" fill="#fffafa"/>
<rect x="35" y="17" width="1.08" height="1.06" fill="#f7f7ff"/>
<rect x="36" y="17" width="1.08" height="1.06" fill="#ebebff"/>
<rect x="37" y="17" width="1.08" height="1.06" fill="#e6e6ff"/>
<rect x="38" y="17" width="1.08" height="1.06" fill="#e9e9ff"/>
<rect x="39" y="17" width="1.08" height="1.06" fill="#efefff"/>
<rect x="40" y="17" width="1.08" height="1.06" fill="#f4f4ff"/>
<rect x="41" y="17" width="1.08" height="1.06" fill="#fefeff"/>
<rect x="42" y="17" width="1.08" height="1.06" fill="#fff5f5"/>
<rect x="43" y="17" width="1.08" height="1.06" fill="#ffe9e9"/>
<rect x="44" y="17" width="1.08" height="1.06" fill="#ffdede"/>
<rect x="45" y="17" width="1.08" height="1.06" fill="#ffd6d6"/>
<rect x="46" y="17" width="1.08" height="1.06" fill="#ffd2d2"/>
<rect x="47" y="17" width="1.08" height="1.06" fill="#ffc9c9"/>
<rect x="48" y="17" width="1.08" height="1.06" fill="#ffb9b9"/>
<rect x="49" y="17" width="1.08" height="1.06" fill="#ffa0a0"/>
<rect x="50" y="17" width="1.08" height="1.06" fill="#ff8383"/>
<rect x="51" y="17" width="1.08" height="1.06" fill="#ff6a6a"/>
<rect x="52" y="17" width="1.08" height="1.06" fill="#ff5b5b"/>
<rect x="53" y="17" width="1.08" height="1.06" fill="#ff6464"/>
<rect x="54" y="17" width="1.08" height="1.06" fill="#ff7171"/>
<rect x="55" y="17" width="1.08" height="1.06" fill="#ff7e7e"/>
<rect x="56" y="17" width="1.08" height="1.06" fill="#ff9797"/>
<rect x="57" y="17" width="1.08" height="1.06" fill="#ffb0b0"/>
<rect x="58" y="17" width="1.08" height="1.06" fill="#ffcccc"/>
<rect x="59" y="17" width="1.08" height="1.06" fill="#ffe7e7"/>
<rect x="60" y="17" width="1.08" height="1.06" fill="#fffafa"/>
<rect x="61" y="17" width="1.08" height="1.06" fill="#f4f4ff"/>
<rect x="62" y="17" width="1.08" height="1.06" fill="#eaeaff"/>
<rect x="63" y="17" width="1.08" height="1.06" fill="#e9e9ff"/>
<rect x="64" y="17" width="1.08" height="1.06" fill="#ececff"/>
<rect x="65" y="17" width="1.08" height="1.06" fill="#f5f5ff"/>
<rect x="66" y="17" width="1.08" height="1.06" fill="#fffdfd"/>
<rect x="67" y="17" width="1.08" height="1.06" fill="#fff0f0"/>
<rect x="68" y="17" width="1.08" height="1.06" fill="#ffeded"/>
<rect x="69" y="17" width="1.08" height="1.06" fill="#ffe7e7"/>
<rect x="70" y="17" width="1.08" height="1.06" fill="#ffdcdc"/>
<rect x="71" y="17" width="1.08" height="1.06" fill="#ffd0d0"/>
<rect x="72" y="17" width="1.08" height="1.06" fill="#ffcfcf"/>
<rect x="73" y="17" width="1.08" height="1.06" fill="#ffcece"/>
<rect x="74" y="17" width="1.08" height="1.06" fill="#ffcaca"/>
<rect x="75" y="17" width="1.08" height="1.06" fill="#ffc3c3"/>
<rect x="76" y="17" width="1.08" height="1.06" fill="#ffb8b8"/>
<rect x="77" y="17" width="1.08" height="1.06" fill="#ffacac"/>
<rect x="78" y="17" width="1.08" height="1.06" fill="#ffa9a9"/>
<rect x="79" y="17" width="1.08" height="1.06" fill="#ffa6a6"/>
<rect x="80" y="17" width="2.08" height="1.06" fill="#ffa1a1"/>
<rect x="82" y="17" width="1.08" height="1.06" fill="#ffaaaa"/>
<rect x="83" y="17" width="1.08" height="1.06" fill="#ffb8b8"/>
<rect x="84" y="17" width="1.08" height="1.06" fill="#ffc5c5"/>
<rect x="85" y="17" width="1.08" height="1.06" fill="#ffd2d2"/>
<rect x="86" y="17" width="1.08" height="1.06" fill="#ffdfdf"/>
<rect x="87" y="17" width="1.08" height="1.06" fill="#ffecec"/>
<rect x="88" y="17" width="1.08" height="1.06" fill="#fff5f5"/>
<rect x="89" y="17" width="1.08" height="1.06" fill="#ffffff"/>
<rect x="90" y="17" width="1.08" height="1.06" fill="#f5f5ff"/>
<rect x="91" y="17" width="1.08" height="1.06" fill="#efefff"/>
<rect x="92" y="17" width="2.08" height="1.06" fill="#ebebff"/>
<rect x="94" y="17" width="1.08" height="1.06" fill="#ececff"/>
<rect x="95" y="17" width="4.08" height="1.06" fill="#ebebff"/>
<rect x="-1" y="18" width="2.08" height="1.06" fill="#ffbdbd"/>
<rect x="1" y="18" width="1.08" height="1.06" fill="#ffc0c0"/>
<rect x="2" y="18" width="1.08" height="1.06" fill="#ffcbcb"/>
<rect x="3" y="18" width="1.08" height="1.06" fill="#ffcccc"/>
<rect x="4" y="18" width="2.08" height="1.06" fill="#ffbfbf"/>
<rect x="6" y="18" width="1.08" height="1.06" fill="#ffc2c2"/>
<rect x="7" y="18" width="1.08" height="1.06" fill="#ffcdcd"/>
<rect x="8" y="18" width="1.08" height="1.06" fill="#ffd9d9"/>
<rect x="9" y="18" width="1.08" height="1.06" fill="#ffdede"/>
<rect x="10" y="18" width="1.08" height="1.06" fill="#ffe3e3"/>
<rect x="11" y="18" width="1.08" height="1.06" fill="#ffebeb"/>
<rect x="12" y="18" width="2.08" height="1.06" fill="#ffecec"/>
<rect x="14" y="18" width="1.08" height="1.06" fill="#fff2f2"/>
<rect x="15" y="18" width="1.08" height="1.06" fill="#fff3f3"/>
<rect x="16" y="18" width="1.08" height="1.06" fill="#ffe9e9"/>
<rect x="17" y="18" width="1.08" height="1.06" fill="#ffdfdf"/>
<rect x="18" y="18" width="1.08" height="1.06" fill="#ffcfcf"/>
<rect x="19" y="18" width="1.08" height="1.06" fill="#ffbcbc"/>
<rect x="20" y="18" width="1.08" height="1.06" fill="#ffa4a4"/>
<rect x="21" y="18" width="1.08" height="1.06" fill="#ffa8a8"/>
<rect x="22" y="18" width="1.08" height="1.06" fill="#ffa3a3"/>
<rect x="23" y="18" width="1.08" height="1.06" fill="#ff9d9d"/>
<rect x="24" y="18" width="1.08" height="1.06" fill="#ff9696"/>
<rect x="25" y="18" width="1.08" height="1.06" fill="#ff9c9c"/>
<rect x="26" y="18" width="1.08" height="1.06" fill="#ffa5a5"/>
<rect x="27" y="18" width="1.08" height="1.06" fill="#ffa8a8"/>
<rect x="28" y="18" width="1.08" height="1.06" fill="#ffaeae"/>
<rect x="29" y="18" width="1.08" height="1.06" fill="#ffb7b7"/>
<rect x="30" y="18" width="1.08" height="1.06" fill="#ffc1c1"/>
<rect x="31" y="18" width="1.08" height="1.06" fill="#ffcaca"/>
<rect x="32" y="18" width="1.08" height="1.06" fill="#ffdcdc"/>
<rect x="33" y="18" width="1.08" height="1.06" fill="#ffecec"/>
<rect x="34" y="18" width="1.08" height="1.06" fill="#fffafa"/>
<rect x="35" y="18" width="1.08" height="1.06" fill="#f7f7ff"/>
<rect x="36" y="18" width="1.08" height="1.06" fill="#ebebff"/>
<rect x="37" y="18" width="1.08" height="1.06" fill="#e6e6ff"/>
<rect x="38" y="18" width="1.08" height="1.06" fill="#e9e9ff"/>
<rect x="39" y="18" width="1.08" height="1.06" fill="#efefff"/>
<rect x="40" y="18" width="1.08" height="1.06" fill="#f4f4ff"/>
<rect x="41" y="18" width="1.08" height="1.06" fill="#fefeff"/>
<rect x="42" y="18" width="1.08" height="1.06" fill="#fff5f5"/>
<rect x="43" y="18" width="1.08" height="1.06" fill="#ffe9e9"/>
<rect x="44" y="18" width="1.08" height="1.06" fill="#ffdede"/>
<rect x="45" y="18" width="1.08" height="1.06" fill="#ffd6d6"/>
<rect x="46" y="18" width="1.08" height="1.06" fill="#ffd2d2"/>
<rect x="47" y="18" width="1.08" height="1.06" fill="#ffc9c9"/>
<rect x="48" y="18" width="1.08" height="1.06" fill="#ffb9b9"/>
<rect x="49" y="18" width="1.08" height="1.06" fill="#ffa0a0"/>
<rect x="50" y="18" width="1.08" height="1.06" fill="#ff8383"/>
<rect x="51" y="18" width="1.08" height="1.06" fill="#ff6a6a"/>
<rect x="52" y="18" width="1.08" height="1.06" fill="#ff5b5b"/>
<rect x="53" y="18" width="1.08" height="1.06" fill="#ff6464"/>
<rect x="54" y="18" width="1.08" height="1.06" fill="#ff7171"/>
<rect x="55" y="18" width="1.08" height="1.06" fill="#ff7e7e"/>
<rect x="56" y="18" width="1.08" height="1.06" fill="#ff9797"/>
<rect x="57" y="18" width="1.08" height="1.06" fill="#ffb0b0"/>
<rect x="58" y="18" width="1.08" height="1.06" fill="#ffcccc"/>
<rect x="59" y="18" width="1.08" height="1.06" fill="#ffe7e7"/>
<rect x="60" y="18" width="1.08" height="1.06" fill="#fffafa"/>
<rect x="61" y="18" width="1.08" height="1.06" fill="#f4f4ff"/>
<rect x="62" y="18" width="1.08" height="1.06" fill="#eaeaff"/>
<rect x="63" y="18" width="1.08" height="1.06" fill="#e9e9ff"/>
<rect x="64" y="18" width="1.08" height="1.06" fill="#ececff"/>
<rect x="65" y="18" width="1.08" height="1.06" fill="#f5f5ff"/>
<rect x="66" y="18" width="1.08" height="1.06" fill="#fffdfd"/>
<rect x="67" y="18" width="1.08" height="1.06" fill="#ffebeb"/>
<rect x="68" y="18" width="1.08" height="1.06" fill="#ffe2e2"/>
<rect x="69" y="18" width="1.08" height="1.06" fill="#ffdada"/>
<rect x="70" y="18" width="1.08" height="1.06" fill="#ffd4d4"/>
<rect x="71" y="18" width="2.08" height="1.06" fill="#ffcfcf"/>
<rect x="73" y="18" width="1.08" height="1.06" fill="#ffcece"/>
<rect x="74" y="18" width="1.08" height="1.06" fill="#ffcaca"/>
<rect x="75" y="18" width="1.08" height="1.06" fill="#ffc3c3"/>
<rect x="76" y="18" width="1.08" height="1.06" fill="#ffb8b8"/>
<rect x="77" y="18" width="1.08" height="1.06" fill="#ffacac"/>
<rect x="78" y="18" width="1.08" height="1.06" fill="#ffa9a9"/>
<rect x="79" y="18" width="1.08" height="1.06" fill="#ffa6a6"/>
<rect x="80" y="18" width="2.08" height="1.06" fill="#ffa1a1"/>
<rect x="82" y="18" width="1.08" height="1.06" fill="#ffaaaa"/>
<rect x="83" y="18" width="1.08" height="1.06" fill="#ffb8b8"/>
<rect x="84" y="18" width="1.08" height="1.06" fill="#ffc5c5"/>
<rect x="85" y="18" width="1.08" height="1.06" fill="#ffd2d2"/>
<rect x="86" y="18" width="1.08" height="1.06" fill="#ffdfdf"/>
<rect x="87" y="18" width="1.08" height="1.06" fill="#ffecec"/>
<rect x="88" y="18" width="1.08" height="1.06" fill="#fff5f5"/>
<rect x="89" y="18" width="1.08" height="1.06" fill="#ffffff"/>
<rect x="90" y="18" width="1.08" height="1.06" fill="#f5f5ff"/>
<rect x="91" y="18" width="1.08" height="1.06" fill="#efefff"/>
<rect x="92" y="18" width="2.08" height="1.06" fill="#ebebff"/>
<rect x="94" y="18" width="1.08" height="1.06" fill="#ececff"/>
<rect x="95" y="18" width="4.08" height="1.06" fill="#ebebff"/>
<rect x="-1" y="19" width="2.08" height="1.06" fill="#ffbdbd"/>
<rect x="1" y="19" width="1.08" height="1.06" fill="#ffc0c0"/>
<rect x="2" y="19" width="1.08" height="1.06" fill="#ffcbcb"/>
<rect x="3" y="19" width="1.08" height="1.06" fill="#ffcccc"/>
<rect x="4" y="19" width="1.08" height="1.06" fill="#ffc5c5"/>
<rect x="5" y="19" width="1.08" height="1.06" fill="#ffcbcb"/>
<rect x="6" y="19" width="1.08" height="1.06" fill="#ffcece"/>
<rect x="7" y="19" width="1.08" height="1.06" fill="#ffd3d3"/>
<rect x="8" y="19" width="1.08" height="1.06" fill="#ffd9d9"/>
<rect x="9" y="19" width="1.08" height="1.06" fill="#ffdede"/>
<rect x="10" y="19" width="1.08" height="1.06" fill="#ffe3e3"/>
<rect x="11" y="19" width="1.08" height="1.06" fill="#ffebeb"/>
<rect x="12" y="19" width="2.08" height="1.06" fill="#ffecec"/>
<rect x="14" y="19" width="1.08" height="1.06" fill="#fff2f2"/>
<rect x="15" y="19" width="1.08" height="1.06" fill="#fff3f3"/>
<rect x="16" y="19" width="1.08" height="1.06" fill="#ffe9e9"/>
<rect x="17" y="19" width="1.08" height="1.06" fill="#ffdfdf"/>
<rect x="18" y="19" width="1.08" height="1.06" fill="#ffcfcf"/>
<rect x="19" y="19" width="1.08" height="1.06" fill="#ffbcbc"/>
<rect x="20" y="19" width="1.08" height="1.06" fill="#ffa4a4"/>
<rect x="21" y="19" width="1.08" height="1.06" fill="#ffa8a8"/>
<rect x="22" y="19" width="1.08" height="1.06" fill="#ffa3a3"/>
<rect x="23" y="19" width="1.08" height="1.06" fill="#ff9d9d"/>
<rect x="24" y="19" width="1.08" height="1.06" fill="#ff9696"/>
<rect x="25" y="19" width="1.08" height="1.06" fill="#ff9c9c"/>
<rect x="26" y="19" width="1.08" height="1.06" fill="#ffa5a5"/>
<rect x="27" y="19" width="1.08" height="1.06" fill="#ffa8a8"/>
<rect x="28" y="19" width="1.08" height="1.06" fill="#ffaeae"/>
<rect x="29" y="19" width="1.08" height="1.06" fill="#ffb7b7"/>
<rect x="30" y="19" width="1.08" height="1.06" fill="#ffc1c1"/>
<rect x="31" y="19" width="1.08" height="1.06" fill="#ffcaca"/>
<rect x="32" y="19" width="1.08" height="1.06" fill="#ffdcdc"/>
<rect x="33" y="19" width="1.08" height="1.06" fill="#ffecec"/>
<rect x="34" y="19" width="1.08" height="1.06" fill="#fffafa"/>
<rect x="35" y="19" width="1.08" height="1.06" fill="#f7f7ff"/>
<rect x="36" y="19" width="1.08" height="1.06" fill="#ebebff"/>
<rect x="37" y="19" width="1.08" height="1.06" fill="#e6e6ff"/>
<rect x="38" y="19" width="1.08" height="1.06" fill="#efefff"/>
<rect x="39" y="19" width="1.08" height="1.06" fill="#fbfbff"/>
<rect x="40" y="19" width="1.08" height="1.06" fill="#fffbfb"/>
<rect x="41" y="19" width="1.08" height="1.06" fill="#fff0f0"/>
<rect x="42" y="19" width="1.08" height="1.06" fill="#ffe5e5"/>
<rect x="43" y="19" width="1.08" height="1.06" fill="#ffe0e0"/>
<rect x="44" y="19" width="1.08" height="1.06" fill="#ffdbdb"/>
<rect x="45" y="19" width="1.08" height="1.06" fill="#ffd6d6"/>
<rect x="46" y="19" width="1.08" height="1.06" fill="#ffd2d2"/>
<rect x="47" y="19" width="1.08" height="1.06" fill="#ffc9c9"/>
<rect x="48" y="19" width="1.08" height="1.06" fill="#ffb9b9"/>
<rect x="49" y="19" width="1.08" height="1.06" fill="#ffa0a0"/>
<rect x="50" y="19" width="1.08" height="1.06" fill="#ff8383"/>
<rect x="51" y="19" width="1.08" height="1.06" fill="#ff6a6a"/>
<rect x="52" y="19" width="1.08" height="1.06" fill="#ff5b5b"/>
<rect x="53" y="19" width="1.08" height="1.06" fill="#ff6464"/>
<rect x="54" y="19" width="1.08" height="1.06" fill="#ff7171"/>
<rect x="55" y="19" width="1.08" height="1.06" fill="#ff7e7e"/>
<rect x="56" y="19" width="1.08" height="1.06" fill="#ff9797"/>
<rect x="57" y="19" width="1.08" height="1.06" fill="#ffb0b0"/>
<rect x="58" y="19" width="1.08" height="1.06" fill="#ffcccc"/>
<rect x="59" y="19" width="1.08" height="1.06" fill="#ffe7e7"/>
<rect x="60" y="19" width="1.08" height="1.06" fill="#fffafa"/>
<rect x="61" y="19" width="1.08" height="1.06" fill="#f4f4ff"/>
<rect x="62" y="19" width="1.08" height="1.06" fill="#eaeaff"/>
<rect x="63" y="19" width="1.08" height="1.06" fill="#e9e9ff"/>
<rect x="64" y="19" width="1.08" height="1.06" fill="#ececff"/>
<rect x="65" y="19" width="1.08" height="1.06" fill="#f5f5ff"/>
<rect x="66" y="19" width="1.08" height="1.06" fill="#fffdfd"/>
<rect x="67" y="19" width="1.08" height="1.06" fill="#ffebeb"/>
<rect x="68" y="19" width="1.08" height="1.06" fill="#ffe2e2"/>
<rect x="69" y="19" width="1.08" height="1.06" fill="#ffdada"/>
<rect x="70" y="19" width="1.08" height="1.06" fill="#ffd4d4"/>
<rect x="71" y="19" width="2.08" height="1.06" fill="#ffcfcf"/>
<rect x="73" y="19" width="1.08" height="1.06" fill="#ffcece"/>
<rect x="74" y="19" width="1.08" height="1.06" fill="#ffcaca"/>
<rect x="75" y="19" width="1.08" height="1.06" fill="#ffc3c3"/>
<rect x="76" y="19" width="1.08" height="1.06" fill="#ffb8b8"/>
<rect x="77" y="19" width="1.08" height="1.06" fill="#ffacac"/>
<rect x="78" y="19" width="1.08" height="1.06" fill="#ffa9a9"/>
<rect x="79" y="19" width="1.08" height="1.06" fill="#ffa6a6"/>
<rect x="80" y="19" width="2.08" height="1.06" fill="#ffa1a1"/>
<rect x="82" y="19" width="1.08" height="1.06" fill="#ffaaaa"/>
<rect x="83" y="19" width="1.08" height="1.06" fill="#ffb8b8"/>
<rect x="84" y="19" width="1.08" height="1.06" fill="#ffc5c5"/>
<rect x="85" y="19" width="1.08" height="1.06" fill="#ffd2d2"/>
<rect x="86" y="19" width="1.08" height="1.06" fill="#ffe1e1"/>
<rect x="87" y="19" width="1.08" height="1.06" fill="#fff4f4"/>
<rect x="88" y="19" width="1.08" height="1.06" fill="#fbfbff"/>
<rect x="89" y="19" width="1.08" height="1.06" fill="#f6f6ff"/>
<rect x="90" y="19" width="1.08" height="1.06" fill="#f1f1ff"/>
<rect x="91" y="19" width="1.08" height="1.06" fill="#efefff"/>
<rect x="92" y="19" width="2.08" height="1.06" fill="#ebebff"/>
<rect x="94" y="19" width="1.08" height="1.06" fill="#ececff"/>
<rect x="95" y="19" width="4.08" height="1.06" fill="#ebebff"/>
<rect x="-1" y="20" width="2.08" height="1.06" fill="#ffbdbd"/>
<rect x="1" y="20" width="1.08" height="1.06" fill="#ffc0c0"/>
<rect x="2" y="20" width="1.08" height="1.06" fill="#ffcbcb"/>
<rect x="3" y="20" width="1.08" height="1.06" fill="#ffcccc"/>
<rect x="4" y="20" width="1.08" height="1.06" fill="#ffc5c5"/>
<rect x="5" y="20" width="1.08" height="1.06" fill="#ffcbcb"/>
<rect x="6" y="20" width="1.08" height="1.06" fill="#ffcece"/>
<rect x="7" y="20" width="1.08" height="1.06" fill="#ffd3d3"/>
<rect x="8" y="20" width="1.08" height="1.06" fill="#ffd9d9"/>
<rect x="9" y="20" width="1.08" height="1.06" fill="#ffdede"/>
<rect x="10" y="20" width="1.08" height="1.06" fill="#ffe3e3"/>
<rect x="11" y="20" width="1.08" height="1.06" fill="#ffebeb"/>
<rect x="12" y="20" width="2.08" height="1.06" fill="#ffecec"/>
<rect x="14" y="20" width="1.08" height="1.06" fill="#fff2f2"/>
<rect x="15" y="20" width="1.08" height="1.06" fill="#fff3f3"/>
<rect x="16" y="20" width="1.08" height="1.06" fill="#ffe9e9"/>
<rect x="17" y="20" width="1.08" height="1.06" fill="#ffdfdf"/>
<rect x="18" y="20" width="1.08" height="1.06" fill="#ffcfcf"/>
<rect x="19" y="20" width="1.08" height="1.06" fill="#ffbcbc"/>
<rect x="20" y="20" width="1.08" height="1.06" fill="#ffa4a4"/>
<rect x="21" y="20" width="1.08" height="1.06" fill="#ffa8a8"/>
<rect x="22" y="20" width="1.08" height="1.06" fill="#ffa3a3"/>
<rect x="23" y="20" width="1.08" height="1.06" fill="#ff9d9d"/>
<rect x="24" y="20" width="1.08" height="1.06" fill="#ff9696"/>
<rect x="25" y="20" width="1.08" height="1.06" fill="#ff9c9c"/>
<rect x="26" y="20" width="1.08" height="1.06" fill="#ffa5a5"/>
<rect x="27" y="20" width="1.08" height="1.06" fill="#ffa8a8"/>
<rect x="28" y="20" width="1.08" height="1.06" fill="#ffaeae"/>
<rect x="29" y="20" width="1.08" height="1.06" fill="#ffb7b7"/>
<rect x="30" y="20" width="1.08" height="1.06" fill="#ffc1c1"/>
<rect x="31" y="20" width="1.08" height="1.06" fill="#ffcaca"/>
<rect x="32" y="20" width="1.08" height="1.06" fill="#ffdcdc"/>
<rect x="33" y="20" width="1.08" height="1.06" fill="#ffecec"/>
<rect x="34" y="20" width="1.08" height="1.06" fill="#fffafa"/>
<rect x="35" y="20" width="1.08" height="1.06" fill="#f7f7ff"/>
<rect x="36" y="20" width="1.08" height="1.06" fill="#ebebff"/>
<rect x="37" y="20" width="1.08" height="1.06" fill="#e6e6ff"/>
<rect x="38" y="20" width="1.08" height="1.06" fill="#efefff"/>
<rect x="39" y="20" width="1.08" height="1.06" fill="#fbfbff"/>
<rect x="40" y="20" width="1.08" height="1.06" fill="#fffbfb"/>
<rect x="41" y="20" width="1.08" height="1.06" fill="#fff0f0"/>
<rect x="42" y="20" width="1.08" height="1.06" fill="#ffe5e5"/>
<rect x="43" y="20" width="1.08" height="1.06" fill="#ffe0e0"/>
<rect x="44" y="20" width="1.08" height="1.06" fill="#ffdbdb"/>
<rect x="45" y="20" width="1.08" height="1.06" fill="#ffd6d6"/>
<rect x="46" y="20" width="1.08" height="1.06" fill="#ffd2d2"/>
<rect x="47" y="20" width="1.08" height="1.06" fill="#ffc9c9"/>
<rect x="48" y="20" width="1.08" height="1.06" fill="#ffb9b9"/>
<rect x="49" y="20" width="1.08" height="1.06" fill="#ffa0a0"/>
<rect x="50" y="20" width="1.08" height="1.06" fill="#ff8383"/>
<rect x="51" y="20" width="1.08" height="1.06" fill="#ff6a6a"/>
<rect x="52" y="20" width="1.08" height="1.06" fill="#ff5b5b"/>
<rect x="53" y="20" width="1.08" height="1.06" fill="#ff6464"/>
<rect x="54" y="20" width="1.08" height="1.06" fill="#ff7171"/>
<rect x="55" y="20" width="1.08" height="1.06" fill="#ff7e7e"/>
<rect x="56" y="20" width="1.08" height="1.06" fill="#ff9797"/>
<rect x="57" y="20" width="1.08" height="1.06" fill="#ffb0b0"/>
<rect x="58" y="20" width="1.08" height="1.06" fill="#ffcccc"/>
<rect x="59" y="20" width="1.08" height="1.06" fill="#ffe7e7"/>
<rect x="60" y="20" width="1.08" height="1.06" fill="#fffafa"/>
<rect x="61" y="20" width="1.08" height="1.06" fill="#f4f4ff"/>
<rect x="62" y="20" width="1.08" height="1.06" fill="#eaeaff"/>
<rect x="63" y="20" width="1.08" height="1.06" fill="#e9e9ff"/>
<rect x="64" y="20" width="1.08" height="1.06" fill="#ececff"/>
<rect x="65" y="20" width="1.08" height="1.06" fill="#f5f5ff"/>
<rect x="66" y="20" width="1.08" height="1.06" fill="#fffdfd"/>
<rect x="67" y="20" width="1.08" height="1.06" fill="#ffebeb"/>
<rect x="68" y="20" width="1.08" height="1.06" fill="#ffe2e2"/>
<rect x="69" y="20" width="1.08" height="1.06" fill="#ffdada"/>
<rect x="70" y="20" width="1.08" height="1.06" fill="#ffd4d4"/>
<rect x="71" y="20" width="2.08" height="1.06" fill="#ffcfcf"/>
<rect x="73" y="20" width="1.08" height="1.06" fill="#ffcece"/>
<rect x="74" y="20" width="1.08" height="1.06" fill="#ffcaca"/>
<rect x="75" y="20" width="1.08" height="1.06" fill="#ffc3c3"/>
<rect x="76" y="20" width="1.08" height="1.06" fill="#ffb8b8"/>
<rect x="77" y="20" width="1.08" height="1.06" fill="#ffacac"/>
<rect x="78" y="20" width="1.08" height="1.06" fill="#ffa9a9"/>
<rect x="79" y="20" width="1.08" height="1.06" fill="#ffa6a6"/>
<rect x="80" y="20" width="2.08" height="1.06" fill="#ffa1a1"/>
<rect x="82" y="20" width="1.08" height="1.06" fill="#ffaaaa"/>
<rect x="83" y="20" width="1.08" height="1.06" fill="#ffb8b8"/>
<rect x="84" y="20" width="1.08" height="1.06" fill="#ffc5c5"/>
<rect x="85" y="20" width="1.08" height="1.06" fill="#ffd2d2"/>
<rect x="86" y="20" width="1.08" height="1.06" fill="#ffe1e1"/>
<rect x="87" y="20" width="1.08" height="1.06" fill="#fff4f4"/>
<rect x="88" y="20" width="1.08" height="1.06" fill="#fbfbff"/>
<rect x="89" y="20" width="1.08" height="1.06" fill="#f6f6ff"/>
<rect x="90" y="20" width="1.08" height="1.06" fill="#f1f1ff"/>
<rect x="91" y="20" width="1.08" height="1.06" fill="#efefff"/>
<rect x="92" y="20" width="2.08" height="1.06" fill="#ebebff"/>
<rect x="94" y="20" width="1.08" height="1.06" fill="#ececff"/>
<rect x="95" y="20" width="4.08" height="1.06" fill="#ebebff"/>
</g></g></g>
<rect x="157.4" y="806.8" width="530.8000000000001" height="531.2" fill="none" stroke="#000" stroke-width="2.8"/>
<line x1="286.7" y1="806.8" x2="286.7" y2="820.8" stroke="#000" stroke-width="2.6" />
<line x1="286.7" y1="1338.0" x2="286.7" y2="1324" stroke="#000" stroke-width="2.6" />
<line x1="423.3" y1="806.8" x2="423.3" y2="820.8" stroke="#000" stroke-width="2.6" />
<line x1="423.3" y1="1338.0" x2="423.3" y2="1324" stroke="#000" stroke-width="2.6" />
<line x1="559.9" y1="806.8" x2="559.9" y2="820.8" stroke="#000" stroke-width="2.6" />
<line x1="559.9" y1="1338.0" x2="559.9" y2="1324" stroke="#000" stroke-width="2.6" />
<line x1="157.4" y1="905.5" x2="171.6" y2="905.5" stroke="#000" stroke-width="2.6" />
<line x1="688.2" y1="905.5" x2="674" y2="905.5" stroke="#000" stroke-width="2.6" />
<line x1="157.4" y1="1071.3" x2="171.6" y2="1071.3" stroke="#000" stroke-width="2.6" />
<line x1="688.2" y1="1071.3" x2="674" y2="1071.3" stroke="#000" stroke-width="2.6" />
<line x1="157.4" y1="1237.8" x2="171.6" y2="1237.8" stroke="#000" stroke-width="2.6" />
<line x1="688.2" y1="1237.8" x2="674" y2="1237.8" stroke="#000" stroke-width="2.6" />
<line x1="558.7" y1="850" x2="558.7" y2="922" stroke="#000" stroke-width="2.5" />
<path d="M558.7,838.7 Q561.6,848.2 564.5,859.7 L558.7,853.7 L552.9,859.7 Q555.8,848.2 558.7,838.7Z" fill="#000"/>
<path d="M558.7,933.3 Q555.8,923.8 552.9,912.3 L558.7,918.3 L564.5,912.3 Q561.6,923.8 558.7,933.3Z" fill="#000"/>
<rect x="813.9" y="805.2" width="531.6" height="530.3999999999999" fill="none" stroke="#000" stroke-width="2.8"/>
<line x1="916.6" y1="805.2" x2="916.6" y2="819.2" stroke="#000" stroke-width="2.6" />
<line x1="916.6" y1="1335.6" x2="916.6" y2="1321.6" stroke="#000" stroke-width="2.6" />
<line x1="1025.0" y1="805.2" x2="1025.0" y2="819.2" stroke="#000" stroke-width="2.6" />
<line x1="1025.0" y1="1335.6" x2="1025.0" y2="1321.6" stroke="#000" stroke-width="2.6" />
<line x1="1133.9" y1="805.2" x2="1133.9" y2="819.2" stroke="#000" stroke-width="2.6" />
<line x1="1133.9" y1="1335.6" x2="1133.9" y2="1321.6" stroke="#000" stroke-width="2.6" />
<line x1="1242.3" y1="805.2" x2="1242.3" y2="819.2" stroke="#000" stroke-width="2.6" />
<line x1="1242.3" y1="1335.6" x2="1242.3" y2="1321.6" stroke="#000" stroke-width="2.6" />
<line x1="813.9" y1="824.1" x2="828" y2="824.1" stroke="#000" stroke-width="2.6" />
<line x1="1345.5" y1="824.1" x2="1331.4" y2="824.1" stroke="#000" stroke-width="2.6" />
<line x1="813.9" y1="946.9" x2="828" y2="946.9" stroke="#000" stroke-width="2.6" />
<line x1="1345.5" y1="946.9" x2="1331.4" y2="946.9" stroke="#000" stroke-width="2.6" />
<line x1="813.9" y1="1069.6" x2="828" y2="1069.6" stroke="#000" stroke-width="2.6" />
<line x1="1345.5" y1="1069.6" x2="1331.4" y2="1069.6" stroke="#000" stroke-width="2.6" />
<line x1="813.9" y1="1192.3" x2="828" y2="1192.3" stroke="#000" stroke-width="2.6" />
<line x1="1345.5" y1="1192.3" x2="1331.4" y2="1192.3" stroke="#000" stroke-width="2.6" />
<line x1="813.9" y1="1315.1" x2="828" y2="1315.1" stroke="#000" stroke-width="2.6" />
<line x1="1345.5" y1="1315.1" x2="1331.4" y2="1315.1" stroke="#000" stroke-width="2.6" />
<text transform="translate(422.71,40.32) scale(1.0152,1.0178)" font-size="52.02" text-anchor="middle"><tspan font-style="italic">B</tspan> [T]</text>
<text transform="translate(148.60,107.45) scale(1.0011,1.0052)" font-size="39.78" text-anchor="middle">-0.1</text>
<text transform="translate(420.90,107.45) scale(1.0011,1.0052)" font-size="39.78" text-anchor="middle">0.0</text>
<text transform="translate(687.40,108.24) scale(1.0011,1.0052)" font-size="39.78" text-anchor="middle">0.1</text>
<text transform="translate(145.73,320.24) scale(1.0011,1.0052)" font-size="39.78" text-anchor="end">3.4</text>
<text transform="translate(145.73,564.67) scale(1.0011,1.0052)" font-size="39.78" text-anchor="end">3.2</text>
<text transform="translate(171.42,167.09) scale(0.9685,0.9675)" font-size="37.74" text-anchor="start">a)</text>
<text transform="translate(163.44,623.18) scale(1.0132,1.0096)" font-size="42.33" text-anchor="start"><tspan font-style="italic">V</tspan><tspan font-style="italic" font-size="28.5" dy="9.5">BG</tspan><tspan dy="-9.5"> = 3.8 V</tspan></text>
<text transform="translate(61.23,492.92) rotate(-90) scale(1.0069,1.0019)" font-size="53.04" text-anchor="start"><tspan font-style="italic">G</tspan> [2e<tspan font-size="33" dy="-37">2</tspan><tspan dy="37">/h]</tspan></text>
<text transform="translate(297.98,236.25) scale(0.9916,1.0258)" font-size="28.05" text-anchor="end">3.34</text>
<text transform="translate(297.78,371.55) scale(0.9916,1.0258)" font-size="28.05" text-anchor="end">3.32</text>
<text transform="translate(370.50,426.56) scale(0.9916,1.0258)" font-size="28.05" text-anchor="middle">0.07</text>
<text transform="translate(485.40,426.56) scale(0.9916,1.0258)" font-size="28.05" text-anchor="middle">0.08</text>
<text transform="translate(438.39,359.90) scale(1.0141,1.0107)" font-size="44.88" text-anchor="middle">7 mT</text>
<text transform="translate(917.50,106.25) scale(1.0011,1.0052)" font-size="39.78" text-anchor="middle">3.2</text>
<text transform="translate(1028.40,106.25) scale(1.0011,1.0052)" font-size="39.78" text-anchor="middle">3.4</text>
<text transform="translate(1139.60,106.25) scale(1.0011,1.0052)" font-size="39.78" text-anchor="middle">3.6</text>
<text transform="translate(1239.60,106.25) scale(1.0011,1.0052)" font-size="39.78" text-anchor="middle">3.8</text>
<text transform="translate(804.63,332.06) scale(1.0011,1.0052)" font-size="39.78" text-anchor="end">3.0</text>
<text transform="translate(804.63,615.06) scale(1.0011,1.0052)" font-size="39.78" text-anchor="end">2.5</text>
<text transform="translate(1059.98,39.33) scale(1.0349,1.0760)" font-size="52.02" text-anchor="middle"><tspan font-style="italic">V</tspan><tspan font-style="italic" font-size="35" dy="10">BG</tspan><tspan dy="-10"> [V]</tspan></text>
<text transform="translate(840.03,166.49) scale(0.9685,0.9675)" font-size="37.74" text-anchor="start">b)</text>
<text transform="translate(1243.59,613.61) scale(1.0106,1.0346)" font-size="41.82" text-anchor="middle">B = 0 T</text>
<text transform="translate(1216.10,433.90) scale(0.9848,1.0448)" font-size="39.78" text-anchor="middle">0.3 V</text>
<text transform="translate(159.88,748.98) scale(1.0701,1.0037)" font-size="24.48" text-anchor="middle">-0.05</text>
<text transform="translate(422.59,748.98) scale(1.0701,1.0037)" font-size="24.48" text-anchor="middle">0.00</text>
<text transform="translate(685.71,748.98) scale(1.0701,1.0037)" font-size="24.48" text-anchor="middle">0.05</text>
<text transform="translate(817.00,748.70) scale(1.0000,1.0300)" font-size="24.48" text-anchor="middle">-5</text>
<text transform="translate(1080.70,748.70) scale(1.0000,1.0300)" font-size="24.48" text-anchor="middle">0</text>
<text transform="translate(1343.50,748.70) scale(1.0000,1.0300)" font-size="24.48" text-anchor="middle">5</text>
<text transform="translate(337.06,719.00) scale(1.0153,0.9858)" font-size="52.53" text-anchor="start" font-style="italic">dG/dV<tspan font-size="36" dy="12.5">tip</tspan></text>
<text transform="translate(986.60,719.00) scale(1.0000,0.9860)" font-size="52.53" text-anchor="start" font-style="italic">dG/dV<tspan font-size="38.5" dy="12.6">BG</tspan></text>
<text transform="translate(287.20,1383.85) scale(1.0011,1.0052)" font-size="39.78" text-anchor="middle">-8</text>
<text transform="translate(422.90,1383.85) scale(1.0011,1.0052)" font-size="39.78" text-anchor="middle">-6</text>
<text transform="translate(559.00,1383.85) scale(1.0011,1.0052)" font-size="39.78" text-anchor="middle">-4</text>
<text transform="translate(344.88,1439.08) scale(1.0296,1.0484)" font-size="52.02" text-anchor="start"><tspan font-style="italic">V</tspan><tspan font-style="italic" font-size="35" dy="10">tip</tspan><tspan dy="-10"> [V]</tspan></text>
<text transform="translate(145.12,906.49) rotate(-90) scale(0.9887,0.9297)" font-size="39.78" text-anchor="middle">-10</text>
<text transform="translate(143.77,1072.00) rotate(-90) scale(0.9887,0.9297)" font-size="39.78" text-anchor="middle">0</text>
<text transform="translate(143.71,1238.30) rotate(-90) scale(0.9887,0.9297)" font-size="39.78" text-anchor="middle">10</text>
<text transform="translate(73.14,1149.90) rotate(-90) scale(0.9974,0.9966)" font-size="53.04" text-anchor="start"><tspan font-style="italic">B</tspan> [mT]</text>
<text transform="translate(172.19,851.78) scale(0.9685,0.9675)" font-size="37.74" text-anchor="start">c)</text>
<text transform="translate(581.49,836.96) rotate(90) scale(1.0142,0.9829)" font-size="44.88" text-anchor="start">7 mT</text>
<text transform="translate(918.40,1384.37) scale(1.0011,1.0052)" font-size="39.78" text-anchor="middle">3.2</text>
<text transform="translate(1029.60,1384.37) scale(1.0011,1.0052)" font-size="39.78" text-anchor="middle">3.4</text>
<text transform="translate(1140.20,1384.37) scale(1.0011,1.0052)" font-size="39.78" text-anchor="middle">3.6</text>
<text transform="translate(1240.80,1384.37) scale(1.0011,1.0052)" font-size="39.78" text-anchor="middle">3.8</text>
<text transform="translate(995.87,1439.59) scale(1.0321,1.0137)" font-size="52.02" text-anchor="start"><tspan font-style="italic">V</tspan><tspan font-style="italic" font-size="35" dy="10">BG</tspan><tspan dy="-10"> [V]</tspan></text>
<text transform="translate(801.31,826.39) rotate(-90) scale(0.9887,0.9297)" font-size="39.78" text-anchor="middle">-40</text>
<text transform="translate(801.31,946.49) rotate(-90) scale(0.9887,0.9297)" font-size="39.78" text-anchor="middle">-20</text>
<text transform="translate(801.37,1070.91) rotate(-90) scale(0.9887,0.9297)" font-size="39.78" text-anchor="middle">0</text>
<text transform="translate(801.32,1192.90) rotate(-90) scale(0.9887,0.9297)" font-size="39.78" text-anchor="middle">20</text>
<text transform="translate(801.32,1316.61) rotate(-90) scale(0.9887,0.9297)" font-size="39.78" text-anchor="middle">40</text>
<text transform="translate(840.72,851.78) scale(0.9685,0.9675)" font-size="37.74" text-anchor="start">d)</text>
</svg></body></html>
